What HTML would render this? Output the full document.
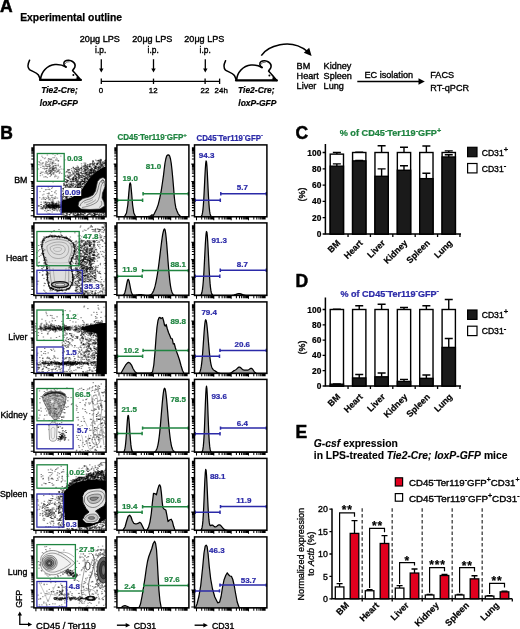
<!DOCTYPE html>
<html><head><meta charset="utf-8"><title>Figure</title>
<style>html,body{margin:0;padding:0;background:#fff;}svg{display:block;}text{font-family:"Liberation Sans", Arial, Helvetica, sans-serif;}</style>
</head><body>
<svg width="520" height="629" viewBox="0 0 520 629">
<rect width="520" height="629" fill="#fff"/>
<text x="-0.10" y="12.30" font-size="17.5" font-weight="bold" text-anchor="start" fill="#000" stroke="#000" stroke-width="0.5">A</text>
<text x="20.20" y="20.60" font-size="10.8" font-weight="bold" text-anchor="start" fill="#000" stroke="#000" stroke-width="0.25" textLength="101.8" lengthAdjust="spacingAndGlyphs">Experimental outline</text>
<g transform="translate(0,0)" fill="none" stroke="#000" stroke-linecap="round" stroke-linejoin="round">
<path d="M40,79.9 L80.8,79.9" stroke-width="2.2"/>
<path d="M40.6,79.5 C41,72 47,65.2 55,64.5 C59,64.2 62.5,64.8 66,67" stroke-width="1.6"/>
<path d="M66,67 C63.5,65.5 63.2,62.5 65,61.2 C67,59.8 70.5,60.2 72.5,61.5 C74.5,62.8 75.6,65 74.8,67.2 C74.2,68.8 72.8,69.8 72.6,70.6 C73.5,71.8 74.8,72.8 75.5,73.8 L80.8,80" stroke-width="1.6"/>
<path d="M65,63.8 C65.6,62.2 67.5,61.5 69.2,61.8" stroke-width="0.9" stroke="#555"/>
<path d="M29.6,60.2 C28,63.5 27.2,67.5 29.5,69.6 C32,71.4 36.5,72.2 38.4,75 C39.4,76.6 39.8,78.2 40.2,79.6" stroke-width="1.5"/>
<path d="M77.3,76.6 L81.3,80.2 L76.2,80.2 Z" fill="#000" stroke-width="0.5"/>
<circle cx="73.4" cy="74.9" r="1.0" fill="#000" stroke="none"/>
</g>
<g transform="translate(196,0.5)" fill="none" stroke="#000" stroke-linecap="round" stroke-linejoin="round">
<path d="M40,79.9 L80.8,79.9" stroke-width="2.2"/>
<path d="M40.6,79.5 C41,72 47,65.2 55,64.5 C59,64.2 62.5,64.8 66,67" stroke-width="1.6"/>
<path d="M66,67 C63.5,65.5 63.2,62.5 65,61.2 C67,59.8 70.5,60.2 72.5,61.5 C74.5,62.8 75.6,65 74.8,67.2 C74.2,68.8 72.8,69.8 72.6,70.6 C73.5,71.8 74.8,72.8 75.5,73.8 L80.8,80" stroke-width="1.6"/>
<path d="M65,63.8 C65.6,62.2 67.5,61.5 69.2,61.8" stroke-width="0.9" stroke="#555"/>
<path d="M29.6,60.2 C28,63.5 27.2,67.5 29.5,69.6 C32,71.4 36.5,72.2 38.4,75 C39.4,76.6 39.8,78.2 40.2,79.6" stroke-width="1.5"/>
<path d="M77.3,76.6 L81.3,80.2 L76.2,80.2 Z" fill="#000" stroke-width="0.5"/>
<circle cx="73.4" cy="74.9" r="1.0" fill="#000" stroke="none"/>
</g>
<text x="59.50" y="92.70" font-size="9.3" font-weight="bold" text-anchor="middle" fill="#000" stroke="#000" stroke-width="0.22" font-style="italic" textLength="36.5" lengthAdjust="spacingAndGlyphs">Tie2-Cre;</text>
<text x="58.80" y="105.50" font-size="9.3" font-weight="bold" text-anchor="middle" fill="#000" stroke="#000" stroke-width="0.22" font-style="italic" textLength="38" lengthAdjust="spacingAndGlyphs">loxP-GFP</text>
<text x="256.30" y="92.90" font-size="9.3" font-weight="bold" text-anchor="middle" fill="#000" stroke="#000" stroke-width="0.22" font-style="italic" textLength="36.5" lengthAdjust="spacingAndGlyphs">Tie2-Cre;</text>
<text x="257.30" y="106.00" font-size="9.3" font-weight="bold" text-anchor="middle" fill="#000" stroke="#000" stroke-width="0.22" font-style="italic" textLength="38" lengthAdjust="spacingAndGlyphs">loxP-GFP</text>
<g stroke="#000" fill="none" stroke-width="1.3">
<path d="M101.3,81.3 L219.6,81.3"/>
<path d="M101.3,78.6 L101.3,84"/>
<path d="M153.5,78.6 L153.5,84"/>
<path d="M205.1,78.6 L205.1,84"/>
<path d="M219.6,78.6 L219.6,84"/>
<path d="M101.3,59.2 L101.3,70"/>
<path d="M153.5,59.2 L153.5,70"/>
<path d="M205.3,59.2 L205.3,70"/>
</g>
<path d="M99.1,68.6 L103.5,68.6 L101.3,72.6 Z" fill="#000"/>
<path d="M151.3,68.6 L155.7,68.6 L153.5,72.6 Z" fill="#000"/>
<path d="M203.10000000000002,68.6 L207.5,68.6 L205.3,72.6 Z" fill="#000"/>
<text x="99.80" y="42.40" font-size="8.4" font-weight="normal" text-anchor="middle" fill="#000" stroke="#000" stroke-width="0.35" textLength="40" lengthAdjust="spacingAndGlyphs">20μg LPS</text>
<text x="100.70" y="52.80" font-size="8.4" font-weight="normal" text-anchor="middle" fill="#000" stroke="#000" stroke-width="0.35">i.p.</text>
<text x="152.30" y="42.40" font-size="8.4" font-weight="normal" text-anchor="middle" fill="#000" stroke="#000" stroke-width="0.35" textLength="40" lengthAdjust="spacingAndGlyphs">20μg LPS</text>
<text x="153.20" y="52.80" font-size="8.4" font-weight="normal" text-anchor="middle" fill="#000" stroke="#000" stroke-width="0.35">i.p.</text>
<text x="204.30" y="42.40" font-size="8.4" font-weight="normal" text-anchor="middle" fill="#000" stroke="#000" stroke-width="0.35" textLength="40" lengthAdjust="spacingAndGlyphs">20μg LPS</text>
<text x="205.20" y="52.80" font-size="8.4" font-weight="normal" text-anchor="middle" fill="#000" stroke="#000" stroke-width="0.35">i.p.</text>
<text x="101.00" y="92.60" font-size="7.9" font-weight="normal" text-anchor="middle" fill="#000" stroke="#000" stroke-width="0.35">0</text>
<text x="153.20" y="92.60" font-size="7.9" font-weight="normal" text-anchor="middle" fill="#000" stroke="#000" stroke-width="0.35">12</text>
<text x="204.90" y="92.60" font-size="7.9" font-weight="normal" text-anchor="middle" fill="#000" stroke="#000" stroke-width="0.35">22</text>
<text x="221.20" y="92.60" font-size="7.9" font-weight="normal" text-anchor="middle" fill="#000" stroke="#000" stroke-width="0.35">24h</text>
<path d="M261.3,55.6 C267,46.5 290,37 307.5,51.5" fill="none" stroke="#000" stroke-width="1.5"/>
<path d="M311.6,56 L303.8,52.8 L309.2,47.8 Z" fill="#000"/>
<text x="296.60" y="69.20" font-size="9.1" font-weight="normal" text-anchor="start" fill="#000" stroke="#000" stroke-width="0.35">BM</text>
<text x="296.60" y="79.25" font-size="9.1" font-weight="normal" text-anchor="start" fill="#000" stroke="#000" stroke-width="0.35">Heart</text>
<text x="296.60" y="89.30" font-size="9.1" font-weight="normal" text-anchor="start" fill="#000" stroke="#000" stroke-width="0.35">Liver</text>
<text x="323.60" y="69.20" font-size="9.1" font-weight="normal" text-anchor="start" fill="#000" stroke="#000" stroke-width="0.35">Kidney</text>
<text x="323.60" y="79.25" font-size="9.1" font-weight="normal" text-anchor="start" fill="#000" stroke="#000" stroke-width="0.35">Spleen</text>
<text x="323.60" y="89.30" font-size="9.1" font-weight="normal" text-anchor="start" fill="#000" stroke="#000" stroke-width="0.35">Lung</text>
<text x="364.50" y="77.70" font-size="9.1" font-weight="normal" text-anchor="start" fill="#000" stroke="#000" stroke-width="0.35">EC isolation</text>
<path d="M357.3,81.5 L420,81.5" stroke="#000" stroke-width="1.5"/>
<path d="M424.8,81.5 L418.5,78.2 L418.5,84.8 Z" fill="#000"/>
<text x="430.30" y="78.30" font-size="9.1" font-weight="normal" text-anchor="start" fill="#000" stroke="#000" stroke-width="0.35">FACS</text>
<text x="430.30" y="90.60" font-size="9.1" font-weight="normal" text-anchor="start" fill="#000" stroke="#000" stroke-width="0.35">RT-qPCR</text>
<text x="0.20" y="138.70" font-size="17.5" font-weight="bold" text-anchor="start" fill="#000" stroke="#000" stroke-width="0.5">B</text>
<text x="117.40" y="140.30" font-size="8.2" font-weight="bold" fill="#1f8440" text-anchor="start" stroke="#1f8440" stroke-width="0.22" textLength="69.5" lengthAdjust="spacingAndGlyphs"><tspan>CD45</tspan><tspan font-size="6.20" dy="-3.44">-</tspan><tspan dy="3.44">Ter119</tspan><tspan font-size="6.20" dy="-3.44">-</tspan><tspan dy="3.44">GFP</tspan><tspan font-size="6.20" dy="-3.44">+</tspan></text>
<text x="196.50" y="140.60" font-size="8.2" font-weight="bold" fill="#2b2aa8" text-anchor="start" stroke="#2b2aa8" stroke-width="0.22" textLength="66.5" lengthAdjust="spacingAndGlyphs"><tspan>CD45</tspan><tspan font-size="6.20" dy="-3.44">-</tspan><tspan dy="3.44">Ter119</tspan><tspan font-size="6.20" dy="-3.44">-</tspan><tspan dy="3.44">GFP</tspan><tspan font-size="6.20" dy="-3.44">-</tspan></text>
<text x="27.40" y="183.05" font-size="8.8" font-weight="normal" text-anchor="end" fill="#000" stroke="#000" stroke-width="0.35">BM</text>
<text x="27.40" y="261.35" font-size="8.8" font-weight="normal" text-anchor="end" fill="#000" stroke="#000" stroke-width="0.35">Heart</text>
<text x="27.40" y="339.85" font-size="8.8" font-weight="normal" text-anchor="end" fill="#000" stroke="#000" stroke-width="0.35">Liver</text>
<text x="27.40" y="418.00" font-size="8.8" font-weight="normal" text-anchor="end" fill="#000" stroke="#000" stroke-width="0.35">Kidney</text>
<text x="27.40" y="496.55" font-size="8.8" font-weight="normal" text-anchor="end" fill="#000" stroke="#000" stroke-width="0.35">Spleen</text>
<text x="27.40" y="574.60" font-size="8.8" font-weight="normal" text-anchor="end" fill="#000" stroke="#000" stroke-width="0.35">Lung</text>
<defs>
<clipPath id="c00"><rect x="33.9" y="144.9" width="72.2" height="71.9"/></clipPath>
<clipPath id="c01"><rect x="33.9" y="222.9" width="72.2" height="72.5"/></clipPath>
<clipPath id="c02"><rect x="33.9" y="301.9" width="72.2" height="71.5"/></clipPath>
<clipPath id="c03"><rect x="33.9" y="379.4" width="72.2" height="72.8"/></clipPath>
<clipPath id="c04"><rect x="33.9" y="458.4" width="72.2" height="71.9"/></clipPath>
<clipPath id="c05"><rect x="33.9" y="536.9" width="72.2" height="71.0"/></clipPath>
<clipPath id="c10"><rect x="116.9" y="144.9" width="72.0" height="71.9"/></clipPath>
<clipPath id="c11"><rect x="116.9" y="222.9" width="72.0" height="72.5"/></clipPath>
<clipPath id="c12"><rect x="116.9" y="301.9" width="72.0" height="71.5"/></clipPath>
<clipPath id="c13"><rect x="116.9" y="379.4" width="72.0" height="72.8"/></clipPath>
<clipPath id="c14"><rect x="116.9" y="458.4" width="72.0" height="71.9"/></clipPath>
<clipPath id="c15"><rect x="116.9" y="536.9" width="72.0" height="71.0"/></clipPath>
<clipPath id="c20"><rect x="194.5" y="144.9" width="72.4" height="71.9"/></clipPath>
<clipPath id="c21"><rect x="194.5" y="222.9" width="72.4" height="72.5"/></clipPath>
<clipPath id="c22"><rect x="194.5" y="301.9" width="72.4" height="71.5"/></clipPath>
<clipPath id="c23"><rect x="194.5" y="379.4" width="72.4" height="72.8"/></clipPath>
<clipPath id="c24"><rect x="194.5" y="458.4" width="72.4" height="71.9"/></clipPath>
<clipPath id="c25"><rect x="194.5" y="536.9" width="72.4" height="71.0"/></clipPath>
</defs>
<path d="M116.9,216.8 L124.5,216.6 L126.5,213.0 L127.8,205.0 L128.8,193.0 L129.6,184.5 L130.2,182.8 L130.8,184.5 L131.6,193.0 L132.6,205.0 L133.8,213.0 L135.5,216.6 L148.0,216.6 L150.5,216.0 L152.0,214.8 L153.5,215.3 L155.0,212.3 L156.6,209.0 L158.2,204.6 L159.7,198.5 L161.2,190.8 L162.4,183.0 L163.5,175.4 L164.3,168.5 L165.0,163.0 L165.8,159.0 L166.6,156.2 L167.4,155.1 L168.2,154.9 L169.0,155.2 L169.7,156.2 L170.5,159.0 L171.2,163.0 L172.0,170.0 L172.8,178.5 L173.6,188.0 L174.3,197.0 L175.0,203.0 L175.8,207.7 L177.0,211.0 L178.2,213.8 L180.5,216.5 L188.9,216.8" fill="#a5a5a5" stroke="#000" stroke-width="1.25" stroke-linejoin="round" clip-path="url(#c10)"/>
<path d="M194.5,216.8 L194.5,216.80 L194.9,216.80 L195.3,216.80 L195.7,216.80 L196.1,216.80 L196.5,216.80 L196.9,216.80 L197.3,216.80 L197.7,216.80 L198.1,216.80 L198.5,216.80 L198.9,216.80 L199.3,216.79 L199.7,216.79 L200.1,216.76 L200.5,216.70 L200.9,216.57 L201.3,216.29 L201.7,215.73 L202.1,214.70 L202.5,212.94 L202.9,210.12 L203.3,205.97 L203.7,200.28 L204.1,193.13 L204.5,184.95 L204.9,176.54 L205.3,168.99 L205.7,163.47 L206.1,160.91 L206.5,161.78 L206.9,165.91 L207.3,172.59 L207.7,180.71 L208.1,189.13 L208.5,196.87 L208.9,203.32 L209.3,208.23 L209.7,211.68 L210.1,213.93 L210.5,215.29 L210.9,216.05 L211.3,216.45 L211.7,216.65 L212.1,216.74 L212.5,216.78 L212.9,216.79 L213.3,216.80 L213.7,216.80 L214.1,216.80 L214.5,216.80 L214.9,216.80 L215.3,216.80 L215.7,216.80 L216.1,216.80 L216.5,216.80 L216.9,216.80 L217.3,216.80 L217.7,216.80 L218.1,216.80 L218.5,216.80 L218.9,216.80 L219.3,216.80 L219.7,216.80 L220.1,216.80 L220.5,216.80 L220.9,216.80 L221.3,216.80 L221.7,216.80 L222.1,216.80 L222.5,216.80 L222.9,216.80 L223.3,216.80 L223.7,216.80 L224.1,216.80 L224.5,216.80 L224.9,216.80 L225.3,216.80 L225.7,216.80 L226.1,216.80 L226.5,216.80 L226.9,216.80 L227.3,216.80 L227.7,216.80 L228.1,216.80 L228.5,216.80 L228.9,216.80 L229.3,216.80 L229.7,216.80 L230.1,216.80 L230.5,216.80 L230.9,216.80 L231.3,216.80 L231.7,216.80 L232.1,216.80 L232.5,216.80 L232.9,216.80 L233.3,216.80 L233.7,216.80 L234.1,216.80 L234.5,216.80 L234.9,216.80 L235.3,216.80 L235.7,216.80 L236.1,216.80 L236.5,216.80 L236.9,216.80 L237.3,216.80 L237.7,216.80 L238.1,216.80 L238.5,216.80 L238.9,216.80 L239.3,216.80 L239.7,216.80 L240.1,216.80 L240.5,216.80 L240.9,216.80 L241.3,216.80 L241.7,216.80 L242.1,216.80 L242.5,216.80 L242.9,216.80 L243.3,216.80 L243.7,216.80 L244.1,216.80 L244.5,216.80 L244.9,216.80 L245.3,216.80 L245.7,216.80 L246.1,216.80 L246.5,216.80 L246.9,216.80 L247.3,216.80 L247.7,216.80 L248.1,216.80 L248.5,216.80 L248.9,216.80 L249.3,216.80 L249.7,216.80 L250.1,216.80 L250.5,216.80 L250.9,216.80 L251.3,216.80 L251.7,216.80 L252.1,216.80 L252.5,216.80 L252.9,216.80 L253.3,216.80 L253.7,216.80 L254.1,216.80 L254.5,216.80 L254.9,216.80 L255.3,216.80 L255.7,216.80 L256.1,216.80 L256.5,216.80 L256.9,216.80 L257.3,216.80 L257.7,216.80 L258.1,216.80 L258.5,216.80 L258.9,216.80 L259.3,216.80 L259.7,216.80 L260.1,216.80 L260.5,216.80 L260.9,216.80 L261.3,216.80 L261.7,216.80 L262.1,216.80 L262.5,216.80 L262.9,216.80 L263.3,216.80 L263.7,216.80 L264.1,216.80 L264.5,216.80 L264.9,216.80 L265.3,216.80 L265.7,216.80 L266.1,216.80 L266.5,216.80 L266.9,216.8Z" fill="#a5a5a5" stroke="#000" stroke-width="1.25" stroke-linejoin="round" clip-path="url(#c20)"/>
<path d="M116.9,295.4 L116.9,295.40 L117.3,295.40 L117.7,295.40 L118.1,295.40 L118.5,295.40 L118.9,295.40 L119.3,295.40 L119.7,295.40 L120.1,295.40 L120.5,295.40 L120.9,295.40 L121.3,295.39 L121.7,295.38 L122.1,295.35 L122.5,295.29 L122.9,295.19 L123.3,295.01 L123.7,294.70 L124.1,294.20 L124.5,293.47 L124.9,292.42 L125.3,291.03 L125.7,289.30 L126.1,287.30 L126.5,285.16 L126.9,283.07 L127.3,281.28 L127.7,280.01 L128.1,279.42 L128.5,279.62 L128.9,280.56 L129.3,282.12 L129.7,284.09 L130.1,286.23 L130.5,288.32 L130.9,290.20 L131.3,291.76 L131.7,292.97 L132.1,293.84 L132.5,294.44 L132.9,294.82 L133.3,295.04 L133.7,295.16 L134.1,295.21 L134.5,295.22 L134.9,295.20 L135.3,295.16 L135.7,295.11 L136.1,295.06 L136.5,294.99 L136.9,294.93 L137.3,294.87 L137.7,294.80 L138.1,294.75 L138.5,294.69 L138.9,294.65 L139.3,294.62 L139.7,294.60 L140.1,294.60 L140.5,294.61 L140.9,294.64 L141.3,294.67 L141.7,294.72 L142.1,294.77 L142.5,294.83 L142.9,294.90 L143.3,294.96 L143.7,295.03 L144.1,295.08 L144.5,295.14 L144.9,295.19 L145.3,295.23 L145.7,295.26 L146.1,295.29 L146.5,295.31 L146.9,295.32 L147.3,295.33 L147.7,295.32 L148.1,295.31 L148.5,295.28 L148.9,295.23 L149.3,295.16 L149.7,295.07 L150.1,294.94 L150.5,294.77 L150.9,294.54 L151.3,294.25 L151.7,293.88 L152.1,293.43 L152.5,292.86 L152.9,292.19 L153.3,291.38 L153.7,290.43 L154.1,289.34 L154.5,288.10 L154.9,286.69 L155.3,285.13 L155.7,283.40 L156.1,281.50 L156.5,279.45 L156.9,277.22 L157.3,274.84 L157.7,272.29 L158.1,269.59 L158.5,266.74 L158.9,263.74 L159.3,260.62 L159.7,257.40 L160.1,254.10 L160.5,250.78 L160.9,247.47 L161.3,244.24 L161.7,241.15 L162.1,238.26 L162.5,235.66 L162.9,233.40 L163.3,231.56 L163.7,230.19 L164.1,229.33 L164.5,229.02 L164.9,229.44 L165.3,230.97 L165.7,233.55 L166.1,237.06 L166.5,241.33 L166.9,246.16 L167.3,251.35 L167.7,256.68 L168.1,261.97 L168.5,267.04 L168.9,271.77 L169.3,276.05 L169.7,279.84 L170.1,283.11 L170.5,285.86 L170.9,288.12 L171.3,289.95 L171.7,291.39 L172.1,292.50 L172.5,293.34 L172.9,293.96 L173.3,294.42 L173.7,294.74 L174.1,294.96 L174.5,295.12 L174.9,295.22 L175.3,295.29 L175.7,295.33 L176.1,295.36 L176.5,295.37 L176.9,295.39 L177.3,295.39 L177.7,295.40 L178.1,295.40 L178.5,295.40 L178.9,295.40 L179.3,295.40 L179.7,295.40 L180.1,295.40 L180.5,295.40 L180.9,295.40 L181.3,295.40 L181.7,295.40 L182.1,295.40 L182.5,295.40 L182.9,295.40 L183.3,295.40 L183.7,295.40 L184.1,295.40 L184.5,295.40 L184.9,295.40 L185.3,295.40 L185.7,295.40 L186.1,295.40 L186.5,295.40 L186.9,295.40 L187.3,295.40 L187.7,295.40 L188.1,295.40 L188.5,295.40 L188.9,295.4Z" fill="#a5a5a5" stroke="#000" stroke-width="1.25" stroke-linejoin="round" clip-path="url(#c11)"/>
<path d="M194.5,295.4 L194.5,295.40 L194.9,295.40 L195.3,295.40 L195.7,295.40 L196.1,295.40 L196.5,295.40 L196.9,295.40 L197.3,295.40 L197.7,295.40 L198.1,295.40 L198.5,295.39 L198.9,295.38 L199.3,295.36 L199.7,295.31 L200.1,295.22 L200.5,295.03 L200.9,294.69 L201.3,294.09 L201.7,293.10 L202.1,291.53 L202.5,289.16 L202.9,285.79 L203.3,281.24 L203.7,275.43 L204.1,268.47 L204.5,260.65 L204.9,252.51 L205.3,244.76 L205.7,238.19 L206.1,233.58 L206.5,231.49 L206.9,232.19 L207.3,235.60 L207.7,241.28 L208.1,248.54 L208.5,256.58 L208.9,264.64 L209.3,272.08 L209.7,278.49 L210.1,283.67 L210.5,287.61 L210.9,290.46 L211.3,292.40 L211.7,293.66 L212.1,294.43 L212.5,294.88 L212.9,295.14 L213.3,295.27 L213.7,295.34 L214.1,295.37 L214.5,295.39 L214.9,295.40 L215.3,295.40 L215.7,295.40 L216.1,295.40 L216.5,295.40 L216.9,295.40 L217.3,295.40 L217.7,295.40 L218.1,295.40 L218.5,295.40 L218.9,295.40 L219.3,295.40 L219.7,295.40 L220.1,295.40 L220.5,295.40 L220.9,295.40 L221.3,295.40 L221.7,295.40 L222.1,295.40 L222.5,295.40 L222.9,295.40 L223.3,295.40 L223.7,295.40 L224.1,295.40 L224.5,295.40 L224.9,295.40 L225.3,295.40 L225.7,295.40 L226.1,295.40 L226.5,295.40 L226.9,295.40 L227.3,295.40 L227.7,295.40 L228.1,295.40 L228.5,295.40 L228.9,295.39 L229.3,295.39 L229.7,295.39 L230.1,295.38 L230.5,295.37 L230.9,295.35 L231.3,295.33 L231.7,295.31 L232.1,295.27 L232.5,295.23 L232.9,295.17 L233.3,295.10 L233.7,295.02 L234.1,294.93 L234.5,294.82 L234.9,294.69 L235.3,294.56 L235.7,294.42 L236.1,294.27 L236.5,294.13 L236.9,293.99 L237.3,293.87 L237.7,293.76 L238.1,293.68 L238.5,293.62 L238.9,293.60 L239.3,293.61 L239.7,293.65 L240.1,293.72 L240.5,293.81 L240.9,293.93 L241.3,294.06 L241.7,294.20 L242.1,294.34 L242.5,294.49 L242.9,294.63 L243.3,294.76 L243.7,294.87 L244.1,294.98 L244.5,295.06 L244.9,295.14 L245.3,295.20 L245.7,295.25 L246.1,295.29 L246.5,295.32 L246.9,295.34 L247.3,295.36 L247.7,295.37 L248.1,295.38 L248.5,295.39 L248.9,295.39 L249.3,295.40 L249.7,295.40 L250.1,295.40 L250.5,295.40 L250.9,295.40 L251.3,295.40 L251.7,295.40 L252.1,295.40 L252.5,295.40 L252.9,295.40 L253.3,295.40 L253.7,295.40 L254.1,295.40 L254.5,295.40 L254.9,295.40 L255.3,295.40 L255.7,295.40 L256.1,295.40 L256.5,295.40 L256.9,295.40 L257.3,295.40 L257.7,295.40 L258.1,295.40 L258.5,295.40 L258.9,295.40 L259.3,295.40 L259.7,295.40 L260.1,295.40 L260.5,295.40 L260.9,295.40 L261.3,295.40 L261.7,295.40 L262.1,295.40 L262.5,295.40 L262.9,295.40 L263.3,295.40 L263.7,295.40 L264.1,295.40 L264.5,295.40 L264.9,295.40 L265.3,295.40 L265.7,295.40 L266.1,295.40 L266.5,295.40 L266.9,295.4Z" fill="#a5a5a5" stroke="#000" stroke-width="1.25" stroke-linejoin="round" clip-path="url(#c21)"/>
<path d="M116.9,373.4 L121.0,373.2 L123.0,369.5 L125.5,365.2 L127.5,362.8 L128.6,362.4 L130.0,363.0 L131.5,365.0 L133.0,368.5 L135.0,371.8 L137.0,373.2 L150.0,373.2 L152.5,372.0 L153.8,365.0 L155.0,352.0 L156.0,338.0 L157.0,327.0 L158.0,320.5 L159.0,317.8 L160.0,317.3 L161.0,318.6 L161.8,318.0 L162.6,317.6 L163.5,320.5 L164.5,325.0 L165.3,326.0 L166.2,324.5 L167.2,328.5 L168.5,332.5 L170.0,336.0 L171.0,338.5 L172.3,338.8 L173.3,344.0 L174.3,343.6 L175.3,347.5 L176.5,351.5 L178.0,355.5 L179.5,360.0 L181.0,365.5 L182.5,370.5 L184.0,373.2 L188.9,373.4" fill="#a5a5a5" stroke="#000" stroke-width="1.25" stroke-linejoin="round" clip-path="url(#c12)"/>
<path d="M194.5,373.4 L194.5,373.40 L194.9,373.40 L195.3,373.40 L195.7,373.40 L196.1,373.40 L196.5,373.39 L196.9,373.38 L197.3,373.36 L197.7,373.33 L198.1,373.26 L198.5,373.15 L198.9,372.95 L199.3,372.62 L199.7,372.10 L200.1,371.30 L200.5,370.12 L200.9,368.45 L201.3,366.16 L201.7,363.15 L202.1,359.37 L202.5,354.82 L202.9,349.59 L203.3,343.88 L203.7,337.98 L204.1,332.30 L204.5,327.24 L204.9,323.24 L205.3,320.67 L205.7,319.74 L206.1,320.32 L206.5,322.09 L206.9,324.93 L207.3,328.64 L207.7,332.97 L208.1,337.67 L208.5,342.47 L208.9,347.14 L209.3,351.48 L209.7,355.38 L210.1,358.74 L210.5,361.55 L210.9,363.81 L211.3,365.58 L211.7,366.94 L212.1,367.95 L212.5,368.69 L212.9,369.25 L213.3,369.67 L213.7,370.01 L214.1,370.31 L214.5,370.58 L214.9,370.84 L215.3,371.11 L215.7,371.37 L216.1,371.62 L216.5,371.87 L216.9,372.11 L217.3,372.32 L217.7,372.52 L218.1,372.69 L218.5,372.84 L218.9,372.97 L219.3,373.07 L219.7,373.15 L220.1,373.22 L220.5,373.27 L220.9,373.31 L221.3,373.33 L221.7,373.36 L222.1,373.37 L222.5,373.38 L222.9,373.39 L223.3,373.39 L223.7,373.39 L224.1,373.40 L224.5,373.40 L224.9,373.40 L225.3,373.40 L225.7,373.40 L226.1,373.40 L226.5,373.40 L226.9,373.40 L227.3,373.39 L227.7,373.39 L228.1,373.37 L228.5,373.35 L228.9,373.32 L229.3,373.27 L229.7,373.20 L230.1,373.09 L230.5,372.95 L230.9,372.77 L231.3,372.56 L231.7,372.30 L232.1,372.02 L232.5,371.72 L232.9,371.43 L233.3,371.15 L233.7,370.89 L234.1,370.65 L234.5,370.43 L234.9,370.22 L235.3,370.00 L235.7,369.75 L236.1,369.45 L236.5,369.12 L236.9,368.74 L237.3,368.35 L237.7,367.96 L238.1,367.62 L238.5,367.34 L238.9,367.16 L239.3,367.10 L239.7,367.15 L240.1,367.32 L240.5,367.59 L240.9,367.93 L241.3,368.30 L241.7,368.69 L242.1,369.05 L242.5,369.37 L242.9,369.63 L243.3,369.83 L243.7,369.97 L244.1,370.06 L244.5,370.11 L244.9,370.13 L245.3,370.14 L245.7,370.14 L246.1,370.15 L246.5,370.16 L246.9,370.16 L247.3,370.14 L247.7,370.09 L248.1,369.98 L248.5,369.81 L248.9,369.58 L249.3,369.30 L249.7,369.00 L250.1,368.70 L250.5,368.45 L250.9,368.31 L251.3,368.29 L251.7,368.43 L252.1,368.72 L252.5,369.14 L252.9,369.66 L253.3,370.24 L253.7,370.83 L254.1,371.39 L254.5,371.88 L254.9,372.30 L255.3,372.64 L255.7,372.89 L256.1,373.07 L256.5,373.20 L256.9,373.28 L257.3,373.33 L257.7,373.36 L258.1,373.38 L258.5,373.39 L258.9,373.39 L259.3,373.40 L259.7,373.40 L260.1,373.40 L260.5,373.40 L260.9,373.40 L261.3,373.40 L261.7,373.40 L262.1,373.40 L262.5,373.40 L262.9,373.40 L263.3,373.40 L263.7,373.40 L264.1,373.40 L264.5,373.40 L264.9,373.40 L265.3,373.40 L265.7,373.40 L266.1,373.40 L266.5,373.40 L266.9,373.4Z" fill="#a5a5a5" stroke="#000" stroke-width="1.25" stroke-linejoin="round" clip-path="url(#c22)"/>
<path d="M116.9,452.2 L116.9,452.20 L117.3,452.20 L117.7,452.20 L118.1,452.20 L118.5,452.20 L118.9,452.20 L119.3,452.20 L119.7,452.20 L120.1,452.20 L120.5,452.20 L120.9,452.20 L121.3,452.20 L121.7,452.20 L122.1,452.19 L122.5,452.17 L122.9,452.13 L123.3,452.02 L123.7,451.79 L124.1,451.32 L124.5,450.43 L124.9,448.91 L125.3,446.49 L125.7,442.97 L126.1,438.31 L126.5,432.73 L126.9,426.78 L127.3,421.30 L127.7,417.20 L128.1,415.28 L128.5,415.93 L128.9,419.02 L129.3,423.92 L129.7,429.76 L130.1,435.61 L130.5,440.78 L130.9,444.88 L131.3,447.83 L131.7,449.77 L132.1,450.94 L132.5,451.59 L132.9,451.93 L133.3,452.09 L133.7,452.16 L134.1,452.18 L134.5,452.19 L134.9,452.20 L135.3,452.20 L135.7,452.20 L136.1,452.20 L136.5,452.20 L136.9,452.20 L137.3,452.20 L137.7,452.20 L138.1,452.20 L138.5,452.20 L138.9,452.20 L139.3,452.20 L139.7,452.20 L140.1,452.20 L140.5,452.20 L140.9,452.20 L141.3,452.20 L141.7,452.20 L142.1,452.20 L142.5,452.20 L142.9,452.20 L143.3,452.20 L143.7,452.20 L144.1,452.20 L144.5,452.20 L144.9,452.20 L145.3,452.20 L145.7,452.20 L146.1,452.20 L146.5,452.20 L146.9,452.20 L147.3,452.20 L147.7,452.20 L148.1,452.20 L148.5,452.20 L148.9,452.20 L149.3,452.20 L149.7,452.20 L150.1,452.20 L150.5,452.20 L150.9,452.19 L151.3,452.19 L151.7,452.18 L152.1,452.17 L152.5,452.15 L152.9,452.12 L153.3,452.07 L153.7,452.01 L154.1,451.91 L154.5,451.76 L154.9,451.55 L155.3,451.26 L155.7,450.86 L156.1,450.32 L156.5,449.60 L156.9,448.66 L157.3,447.46 L157.7,445.94 L158.1,444.07 L158.5,441.80 L158.9,439.10 L159.3,435.96 L159.7,432.38 L160.1,428.39 L160.5,424.03 L160.9,419.40 L161.3,414.59 L161.7,409.75 L162.1,405.03 L162.5,400.60 L162.9,396.62 L163.3,393.27 L163.7,390.68 L164.1,388.98 L164.5,388.23 L164.9,388.48 L165.3,389.71 L165.7,391.87 L166.1,394.86 L166.5,398.54 L166.9,402.77 L167.3,407.37 L167.7,412.17 L168.1,417.01 L168.5,421.75 L168.9,426.25 L169.3,430.44 L169.7,434.23 L170.1,437.59 L170.5,440.50 L170.9,442.98 L171.3,445.05 L171.7,446.74 L172.1,448.09 L172.5,449.16 L172.9,449.99 L173.3,450.61 L173.7,451.08 L174.1,451.42 L174.5,451.67 L174.9,451.84 L175.3,451.96 L175.7,452.04 L176.1,452.10 L176.5,452.14 L176.9,452.16 L177.3,452.18 L177.7,452.19 L178.1,452.19 L178.5,452.19 L178.9,452.20 L179.3,452.20 L179.7,452.20 L180.1,452.20 L180.5,452.20 L180.9,452.20 L181.3,452.20 L181.7,452.20 L182.1,452.20 L182.5,452.20 L182.9,452.20 L183.3,452.20 L183.7,452.20 L184.1,452.20 L184.5,452.20 L184.9,452.20 L185.3,452.20 L185.7,452.20 L186.1,452.20 L186.5,452.20 L186.9,452.20 L187.3,452.20 L187.7,452.20 L188.1,452.20 L188.5,452.20 L188.9,452.2Z" fill="#a5a5a5" stroke="#000" stroke-width="1.25" stroke-linejoin="round" clip-path="url(#c13)"/>
<path d="M194.5,452.2 L194.5,452.20 L194.9,452.20 L195.3,452.20 L195.7,452.20 L196.1,452.20 L196.5,452.20 L196.9,452.20 L197.3,452.20 L197.7,452.20 L198.1,452.20 L198.5,452.20 L198.9,452.20 L199.3,452.20 L199.7,452.20 L200.1,452.20 L200.5,452.19 L200.9,452.16 L201.3,452.09 L201.7,451.92 L202.1,451.54 L202.5,450.73 L202.9,449.17 L203.3,446.42 L203.7,441.97 L204.1,435.43 L204.5,426.71 L204.9,416.30 L205.3,405.34 L205.7,395.52 L206.1,388.66 L206.5,386.20 L206.9,388.66 L207.3,395.52 L207.7,405.34 L208.1,416.30 L208.5,426.71 L208.9,435.43 L209.3,441.97 L209.7,446.42 L210.1,449.17 L210.5,450.73 L210.9,451.54 L211.3,451.92 L211.7,452.09 L212.1,452.16 L212.5,452.19 L212.9,452.20 L213.3,452.20 L213.7,452.20 L214.1,452.20 L214.5,452.20 L214.9,452.20 L215.3,452.20 L215.7,452.20 L216.1,452.20 L216.5,452.20 L216.9,452.20 L217.3,452.20 L217.7,452.20 L218.1,452.20 L218.5,452.20 L218.9,452.20 L219.3,452.20 L219.7,452.20 L220.1,452.20 L220.5,452.20 L220.9,452.20 L221.3,452.20 L221.7,452.20 L222.1,452.20 L222.5,452.20 L222.9,452.20 L223.3,452.20 L223.7,452.20 L224.1,452.20 L224.5,452.20 L224.9,452.20 L225.3,452.20 L225.7,452.20 L226.1,452.20 L226.5,452.20 L226.9,452.20 L227.3,452.20 L227.7,452.20 L228.1,452.20 L228.5,452.20 L228.9,452.20 L229.3,452.20 L229.7,452.20 L230.1,452.20 L230.5,452.20 L230.9,452.20 L231.3,452.20 L231.7,452.20 L232.1,452.20 L232.5,452.20 L232.9,452.20 L233.3,452.20 L233.7,452.20 L234.1,452.20 L234.5,452.20 L234.9,452.20 L235.3,452.20 L235.7,452.20 L236.1,452.20 L236.5,452.20 L236.9,452.20 L237.3,452.20 L237.7,452.20 L238.1,452.20 L238.5,452.20 L238.9,452.20 L239.3,452.20 L239.7,452.20 L240.1,452.20 L240.5,452.20 L240.9,452.20 L241.3,452.20 L241.7,452.20 L242.1,452.20 L242.5,452.20 L242.9,452.20 L243.3,452.20 L243.7,452.20 L244.1,452.20 L244.5,452.20 L244.9,452.20 L245.3,452.20 L245.7,452.20 L246.1,452.20 L246.5,452.20 L246.9,452.20 L247.3,452.20 L247.7,452.20 L248.1,452.20 L248.5,452.20 L248.9,452.20 L249.3,452.20 L249.7,452.20 L250.1,452.20 L250.5,452.20 L250.9,452.20 L251.3,452.20 L251.7,452.20 L252.1,452.20 L252.5,452.20 L252.9,452.20 L253.3,452.20 L253.7,452.20 L254.1,452.20 L254.5,452.20 L254.9,452.20 L255.3,452.20 L255.7,452.20 L256.1,452.20 L256.5,452.20 L256.9,452.20 L257.3,452.20 L257.7,452.20 L258.1,452.20 L258.5,452.20 L258.9,452.20 L259.3,452.20 L259.7,452.20 L260.1,452.20 L260.5,452.20 L260.9,452.20 L261.3,452.20 L261.7,452.20 L262.1,452.20 L262.5,452.20 L262.9,452.20 L263.3,452.20 L263.7,452.20 L264.1,452.20 L264.5,452.20 L264.9,452.20 L265.3,452.20 L265.7,452.20 L266.1,452.20 L266.5,452.20 L266.9,452.2Z" fill="#a5a5a5" stroke="#000" stroke-width="1.25" stroke-linejoin="round" clip-path="url(#c23)"/>
<path d="M116.9,530.3 L123.0,530.1 L125.0,527.0 L126.8,520.5 L128.2,516.3 L129.7,515.2 L131.0,516.8 L132.3,520.8 L133.8,523.3 L136.0,524.0 L138.0,523.4 L139.7,522.3 L141.0,523.2 L142.5,526.3 L144.3,530.1 L147.0,530.1 L148.5,527.3 L150.0,521.8 L151.3,513.5 L152.4,502.5 L153.5,493.4 L154.8,493.6 L156.4,494.8 L157.8,489.2 L159.0,485.4 L159.7,484.8 L160.6,486.8 L161.4,493.0 L162.2,502.0 L162.9,507.6 L164.2,509.2 L165.8,510.0 L166.8,514.8 L168.0,521.5 L169.5,520.0 L171.2,519.2 L172.5,521.8 L173.6,526.3 L175.0,530.1 L188.9,530.3" fill="#a5a5a5" stroke="#000" stroke-width="1.25" stroke-linejoin="round" clip-path="url(#c14)"/>
<path d="M194.5,530.3 L194.5,530.30 L194.9,530.30 L195.3,530.30 L195.7,530.30 L196.1,530.30 L196.5,530.30 L196.9,530.30 L197.3,530.30 L197.7,530.30 L198.1,530.30 L198.5,530.30 L198.9,530.30 L199.3,530.29 L199.7,530.28 L200.1,530.26 L200.5,530.18 L200.9,530.01 L201.3,529.62 L201.7,528.84 L202.1,527.39 L202.5,524.88 L202.9,520.89 L203.3,515.09 L203.7,507.41 L204.1,498.20 L204.5,488.39 L204.9,479.34 L205.3,472.58 L205.7,469.40 L206.1,470.30 L206.5,474.75 L206.9,481.95 L207.3,490.68 L207.7,499.66 L208.1,507.84 L208.5,514.53 L208.9,519.45 L209.3,522.70 L209.7,524.57 L210.1,525.44 L210.5,525.67 L210.9,525.55 L211.3,525.33 L211.7,525.14 L212.1,525.06 L212.5,525.13 L212.9,525.34 L213.3,525.65 L213.7,526.02 L214.1,526.37 L214.5,526.67 L214.9,526.86 L215.3,526.93 L215.7,526.88 L216.1,526.71 L216.5,526.45 L216.9,526.13 L217.3,525.78 L217.7,525.45 L218.1,525.16 L218.5,524.94 L218.9,524.82 L219.3,524.80 L219.7,524.88 L220.1,525.08 L220.5,525.36 L220.9,525.73 L221.3,526.15 L221.7,526.61 L222.1,527.08 L222.5,527.55 L222.9,528.00 L223.3,528.42 L223.7,528.79 L224.1,529.11 L224.5,529.38 L224.9,529.61 L225.3,529.79 L225.7,529.93 L226.1,530.04 L226.5,530.12 L226.9,530.17 L227.3,530.22 L227.7,530.25 L228.1,530.26 L228.5,530.28 L228.9,530.29 L229.3,530.29 L229.7,530.30 L230.1,530.30 L230.5,530.30 L230.9,530.30 L231.3,530.30 L231.7,530.30 L232.1,530.30 L232.5,530.30 L232.9,530.30 L233.3,530.30 L233.7,530.30 L234.1,530.30 L234.5,530.30 L234.9,530.30 L235.3,530.30 L235.7,530.30 L236.1,530.30 L236.5,530.30 L236.9,530.30 L237.3,530.30 L237.7,530.30 L238.1,530.30 L238.5,530.30 L238.9,530.30 L239.3,530.30 L239.7,530.30 L240.1,530.30 L240.5,530.30 L240.9,530.30 L241.3,530.30 L241.7,530.30 L242.1,530.30 L242.5,530.30 L242.9,530.30 L243.3,530.30 L243.7,530.30 L244.1,530.30 L244.5,530.30 L244.9,530.30 L245.3,530.30 L245.7,530.30 L246.1,530.30 L246.5,530.30 L246.9,530.30 L247.3,530.30 L247.7,530.30 L248.1,530.30 L248.5,530.30 L248.9,530.30 L249.3,530.30 L249.7,530.30 L250.1,530.30 L250.5,530.30 L250.9,530.30 L251.3,530.30 L251.7,530.30 L252.1,530.30 L252.5,530.30 L252.9,530.30 L253.3,530.30 L253.7,530.30 L254.1,530.30 L254.5,530.30 L254.9,530.30 L255.3,530.30 L255.7,530.30 L256.1,530.30 L256.5,530.30 L256.9,530.30 L257.3,530.30 L257.7,530.30 L258.1,530.30 L258.5,530.30 L258.9,530.30 L259.3,530.30 L259.7,530.30 L260.1,530.30 L260.5,530.30 L260.9,530.30 L261.3,530.30 L261.7,530.30 L262.1,530.30 L262.5,530.30 L262.9,530.30 L263.3,530.30 L263.7,530.30 L264.1,530.30 L264.5,530.30 L264.9,530.30 L265.3,530.30 L265.7,530.30 L266.1,530.30 L266.5,530.30 L266.9,530.3Z" fill="#a5a5a5" stroke="#000" stroke-width="1.25" stroke-linejoin="round" clip-path="url(#c24)"/>
<path d="M116.9,607.9 L121.0,607.7 L123.0,606.2 L125.0,605.6 L127.5,606.5 L130.0,607.7 L139.0,607.7 L140.5,604.0 L142.0,596.5 L143.5,587.5 L145.0,578.0 L146.3,568.5 L147.5,561.5 L148.8,556.5 L150.3,552.5 L151.8,548.5 L153.2,543.5 L154.6,541.2 L155.6,543.5 L156.5,549.5 L157.3,561.5 L158.1,576.0 L158.9,590.0 L159.9,600.5 L161.2,607.7 L188.9,607.9" fill="#a5a5a5" stroke="#000" stroke-width="1.25" stroke-linejoin="round" clip-path="url(#c15)"/>
<path d="M194.5,607.9 L195.5,607.7 L197.0,604.0 L199.0,596.0 L200.8,585.0 L202.6,568.0 L204.0,553.0 L205.2,546.2 L206.2,545.1 L207.1,546.5 L208.1,554.0 L209.3,567.0 L210.7,579.0 L212.5,589.0 L214.8,597.0 L217.7,602.8 L219.6,602.2 L221.1,596.5 L222.4,588.0 L224.0,580.0 L225.8,575.3 L227.3,572.8 L228.6,574.8 L230.0,576.0 L231.5,576.4 L232.8,579.5 L234.2,585.5 L235.6,593.5 L237.2,602.0 L239.2,607.7 L266.9,607.9" fill="#a5a5a5" stroke="#000" stroke-width="1.25" stroke-linejoin="round" clip-path="url(#c25)"/>
<g stroke="#1f8440" stroke-width="1.5" fill="none"><path d="M116.9,200.3H142.8M142.8,193.8H188.9"/><path d="M117.5,198.60000000000002v3.4M142.60000000000002,198.60000000000002v3.4M143.10000000000002,192.10000000000002v3.4M188.3,192.10000000000002v3.4"/></g>
<g stroke="#2b2aa8" stroke-width="1.5" fill="none"><path d="M194.5,200.3H220.5M220.5,193.8H266.9"/><path d="M195.1,198.60000000000002v3.4M220.3,198.60000000000002v3.4M220.8,192.10000000000002v3.4M266.3,192.10000000000002v3.4"/></g>
<g stroke="#1f8440" stroke-width="1.5" fill="none"><path d="M116.9,276.2H142.3M142.3,270.6H188.9"/><path d="M117.5,274.5v3.4M142.10000000000002,274.5v3.4M142.60000000000002,268.90000000000003v3.4M188.3,268.90000000000003v3.4"/></g>
<g stroke="#2b2aa8" stroke-width="1.5" fill="none"><path d="M194.5,276.2H220.0M220.0,270.3H266.9"/><path d="M195.1,274.5v3.4M219.8,274.5v3.4M220.3,268.6v3.4M266.3,268.6v3.4"/></g>
<g stroke="#1f8440" stroke-width="1.5" fill="none"><path d="M116.9,356.2H142.8M142.8,350.4H188.9"/><path d="M117.5,354.5v3.4M142.60000000000002,354.5v3.4M143.10000000000002,348.7v3.4M188.3,348.7v3.4"/></g>
<g stroke="#2b2aa8" stroke-width="1.5" fill="none"><path d="M194.5,356.2H219.7M219.7,350.4H266.9"/><path d="M195.1,354.5v3.4M219.5,354.5v3.4M220.0,348.7v3.4M266.3,348.7v3.4"/></g>
<g stroke="#1f8440" stroke-width="1.5" fill="none"><path d="M116.9,433.5H142.3M142.3,428.1H188.9"/><path d="M117.5,431.8v3.4M142.10000000000002,431.8v3.4M142.60000000000002,426.40000000000003v3.4M188.3,426.40000000000003v3.4"/></g>
<g stroke="#2b2aa8" stroke-width="1.5" fill="none"><path d="M194.5,433.8H220.2M220.2,428.1H266.9"/><path d="M195.1,432.1v3.4M220.0,432.1v3.4M220.5,426.40000000000003v3.4M266.3,426.40000000000003v3.4"/></g>
<g stroke="#1f8440" stroke-width="1.5" fill="none"><path d="M116.9,512.2H142.3M142.3,506.8H188.9"/><path d="M117.5,510.50000000000006v3.4M142.10000000000002,510.50000000000006v3.4M142.60000000000002,505.1v3.4M188.3,505.1v3.4"/></g>
<g stroke="#2b2aa8" stroke-width="1.5" fill="none"><path d="M194.5,512.2H220.2M220.2,506.6H266.9"/><path d="M195.1,510.50000000000006v3.4M220.0,510.50000000000006v3.4M220.5,504.90000000000003v3.4M266.3,504.90000000000003v3.4"/></g>
<g stroke="#1f8440" stroke-width="1.5" fill="none"><path d="M116.9,590.9H143.5M143.5,585.4H188.9"/><path d="M117.5,589.1999999999999v3.4M143.3,589.1999999999999v3.4M143.8,583.6999999999999v3.4M188.3,583.6999999999999v3.4"/></g>
<g stroke="#2b2aa8" stroke-width="1.5" fill="none"><path d="M194.5,590.9H219.7M219.7,585.1H266.9"/><path d="M195.1,589.1999999999999v3.4M219.5,589.1999999999999v3.4M220.0,583.4v3.4M266.3,583.4v3.4"/></g>
<text x="130.20" y="180.60" font-size="8" font-weight="bold" text-anchor="middle" fill="#1f8440" stroke="#1f8440" stroke-width="0.22">19.0</text>
<text x="153.50" y="169.40" font-size="8" font-weight="bold" text-anchor="middle" fill="#1f8440" stroke="#1f8440" stroke-width="0.22">81.0</text>
<text x="206.60" y="157.50" font-size="8" font-weight="bold" text-anchor="middle" fill="#2b2aa8" stroke="#2b2aa8" stroke-width="0.22">94.3</text>
<text x="242.30" y="189.90" font-size="8" font-weight="bold" text-anchor="middle" fill="#2b2aa8" stroke="#2b2aa8" stroke-width="0.22">5.7</text>
<text x="129.70" y="271.70" font-size="8" font-weight="bold" text-anchor="middle" fill="#1f8440" stroke="#1f8440" stroke-width="0.22">11.9</text>
<text x="178.20" y="266.70" font-size="8" font-weight="bold" text-anchor="middle" fill="#1f8440" stroke="#1f8440" stroke-width="0.22">88.1</text>
<text x="219.20" y="243.20" font-size="8" font-weight="bold" text-anchor="middle" fill="#2b2aa8" stroke="#2b2aa8" stroke-width="0.22">91.3</text>
<text x="242.30" y="266.70" font-size="8" font-weight="bold" text-anchor="middle" fill="#2b2aa8" stroke="#2b2aa8" stroke-width="0.22">8.7</text>
<text x="131.20" y="353.00" font-size="8" font-weight="bold" text-anchor="middle" fill="#1f8440" stroke="#1f8440" stroke-width="0.22">10.2</text>
<text x="178.20" y="323.70" font-size="8" font-weight="bold" text-anchor="middle" fill="#1f8440" stroke="#1f8440" stroke-width="0.22">89.8</text>
<text x="209.20" y="315.30" font-size="8" font-weight="bold" text-anchor="middle" fill="#2b2aa8" stroke="#2b2aa8" stroke-width="0.22">79.4</text>
<text x="242.30" y="346.80" font-size="8" font-weight="bold" text-anchor="middle" fill="#2b2aa8" stroke="#2b2aa8" stroke-width="0.22">20.6</text>
<text x="129.20" y="411.70" font-size="8" font-weight="bold" text-anchor="middle" fill="#1f8440" stroke="#1f8440" stroke-width="0.22">21.5</text>
<text x="178.20" y="401.70" font-size="8" font-weight="bold" text-anchor="middle" fill="#1f8440" stroke="#1f8440" stroke-width="0.22">78.5</text>
<text x="219.20" y="399.40" font-size="8" font-weight="bold" text-anchor="middle" fill="#2b2aa8" stroke="#2b2aa8" stroke-width="0.22">93.6</text>
<text x="242.30" y="425.90" font-size="8" font-weight="bold" text-anchor="middle" fill="#2b2aa8" stroke="#2b2aa8" stroke-width="0.22">6.4</text>
<text x="129.70" y="509.20" font-size="8" font-weight="bold" text-anchor="middle" fill="#1f8440" stroke="#1f8440" stroke-width="0.22">19.4</text>
<text x="173.50" y="502.70" font-size="8" font-weight="bold" text-anchor="middle" fill="#1f8440" stroke="#1f8440" stroke-width="0.22">80.6</text>
<text x="217.70" y="478.70" font-size="8" font-weight="bold" text-anchor="middle" fill="#2b2aa8" stroke="#2b2aa8" stroke-width="0.22">88.1</text>
<text x="243.80" y="503.10" font-size="8" font-weight="bold" text-anchor="middle" fill="#2b2aa8" stroke="#2b2aa8" stroke-width="0.22">11.9</text>
<text x="129.70" y="588.70" font-size="8" font-weight="bold" text-anchor="middle" fill="#1f8440" stroke="#1f8440" stroke-width="0.22">2.4</text>
<text x="172.00" y="582.30" font-size="8" font-weight="bold" text-anchor="middle" fill="#1f8440" stroke="#1f8440" stroke-width="0.22">97.6</text>
<text x="216.90" y="552.60" font-size="8" font-weight="bold" text-anchor="middle" fill="#2b2aa8" stroke="#2b2aa8" stroke-width="0.22">46.3</text>
<text x="248.50" y="582.60" font-size="8" font-weight="bold" text-anchor="middle" fill="#2b2aa8" stroke="#2b2aa8" stroke-width="0.22">53.7</text>
<g clip-path="url(#c00)">
<path d="M49.2 170.2h.4M49.3 165.0h.4M45.7 165.7h.4M56.3 169.6h.4M55.9 168.5h.4M52.6 168.1h.4M41.8 172.3h.4M53.1 170.1h.4M41.7 156.2h.4M45.9 164.1h.4M52.1 166.7h.4M53.2 163.0h.4M52.1 169.4h.4M47.1 177.6h.4M53.4 174.4h.4M47.3 162.4h.4M48.7 166.3h.4M53.8 168.5h.4M48.2 161.1h.4M47.8 174.6h.4M46.3 168.5h.4M52.7 157.8h.4M50.8 175.1h.4M40.0 165.0h.4M49.9 161.9h.4M53.1 166.6h.4M42.9 172.1h.4M54.0 172.9h.4M58.0 169.2h.4M51.1 158.9h.4M53.7 163.2h.4M48.1 159.2h.4M45.5 163.7h.4M57.2 154.4h.4M42.9 168.5h.4M58.0 170.6h.4M52.4 162.4h.4M44.7 173.1h.4M56.2 168.0h.4M51.8 169.7h.4M58.8 170.8h.4M53.2 170.4h.4M42.3 174.9h.4M55.5 170.3h.4M40.2 163.1h.4M54.9 155.8h.4M49.5 173.3h.4M43.7 177.0h.4M53.4 166.1h.4M52.2 171.0h.4M51.1 174.1h.4M47.1 164.4h.4M55.9 167.2h.4M45.9 172.9h.4M58.1 164.2h.4M43.3 166.2h.4M49.7 165.2h.4M57.8 160.6h.4M57.1 159.1h.4M46.4 170.9h.4M56.4 172.3h.4M52.3 167.9h.4M51.3 170.6h.4M49.6 168.7h.4M53.5 167.0h.4M54.5 170.5h.4M61.0 169.0h.4M48.3 164.7h.4M50.4 172.7h.4M48.7 169.4h.4M44.7 168.5h.4M52.6 168.5h.4M48.3 171.1h.4M52.0 163.8h.4M63.1 169.2h.4M47.6 166.4h.4M49.3 166.6h.4M55.7 159.8h.4M50.2 172.9h.4M55.0 176.2h.4M41.7 164.8h.4M48.7 170.9h.4M56.2 158.0h.4M54.1 157.7h.4M51.4 174.4h.4M49.7 168.2h.4M54.6 167.9h.4M50.0 176.5h.4M56.0 165.2h.4M64.8 159.9h.4M55.3 165.4h.4M51.2 171.4h.4M51.7 171.0h.4M42.6 157.6h.4M53.7 161.0h.4M45.2 157.9h.4M57.1 171.6h.4M58.2 161.2h.4M50.5 159.9h.4M54.5 176.9h.4M45.9 176.7h.4M55.6 165.9h.4M40.2 175.7h.4M50.0 163.3h.4M52.6 169.5h.4M58.3 160.7h.4M56.4 176.2h.4M58.1 165.9h.4M46.6 173.3h.4M51.1 167.8h.4M57.9 165.4h.4M38.6 164.6h.4M40.9 172.1h.4M52.1 163.2h.4M50.5 172.2h.4M50.9 175.2h.4M50.2 173.5h.4M58.3 177.0h.4M47.0 172.5h.4M40.7 160.3h.4M40.3 173.6h.4M44.1 166.9h.4M49.5 166.8h.4M47.4 168.4h.4M59.8 167.3h.4M53.3 173.2h.4M49.5 159.2h.4M47.6 173.7h.4M41.9 163.3h.4M55.7 171.9h.4M50.5 172.0h.4M51.4 159.7h.4M42.4 163.0h.4M55.3 163.5h.4M45.8 162.2h.4M42.5 166.3h.4M44.4 169.3h.4M38.2 169.0h.4M47.2 155.0h.4M54.3 165.3h.4M38.9 161.6h.4M52.0 164.2h.4M54.6 171.6h.4M54.0 169.0h.4M57.4 171.1h.4M52.8 154.1h.4M55.2 175.1h.4M49.0 164.1h.4M60.6 156.1h.4M52.9 182.0h.4M45.7 171.3h.4M60.3 166.3h.4M53.4 172.6h.4M45.8 166.4h.4M52.0 172.1h.4M50.3 165.8h.4M45.2 164.8h.4M55.1 167.6h.4M46.1 161.8h.4M64.4 174.1h.4M53.7 170.0h.4M59.3 169.7h.4M50.1 170.2h.4M40.4 173.4h.4M52.2 162.6h.4M57.4 178.2h.4M43.2 162.9h.4M52.0 168.1h.4M48.4 161.0h.4M61.5 173.4h.4M44.3 158.7h.4M59.4 173.1h.4M60.0 172.0h.4M46.0 168.6h.4M39.3 162.4h.4M50.2 170.2h.4M46.7 166.2h.4M52.9 169.3h.4M53.8 168.3h.4M48.8 171.9h.4M50.8 161.9h.4M47.2 167.0h.4M49.9 168.0h.4M50.5 168.1h.4M49.8 159.2h.4M52.7 173.5h.4M52.8 165.8h.4M52.8 161.0h.4M40.6 167.4h.4M45.7 171.6h.4M45.1 176.8h.4M48.5 158.5h.4M46.5 170.2h.4M53.1 168.1h.4M58.2 171.4h.4M50.4 170.7h.4M59.1 173.0h.4M55.8 160.3h.4M49.7 171.5h.4M49.0 173.6h.4M52.0 203.4h.4M47.9 213.3h.4M55.2 196.7h.4M49.5 213.6h.4M47.3 203.2h.4M53.9 198.0h.4M43.2 199.1h.4M50.8 204.8h.4M52.9 198.1h.4M53.3 201.2h.4M50.0 198.3h.4M47.8 202.1h.4M43.7 194.2h.4M49.0 189.2h.4M45.6 201.4h.4M51.8 197.7h.4M47.8 189.5h.4M58.1 201.1h.4M54.5 192.7h.4M48.1 187.1h.4M52.9 203.6h.4M39.5 197.7h.4M52.2 187.4h.4M39.9 191.6h.4M45.9 189.6h.4M49.2 199.5h.4M52.2 202.2h.4M56.5 205.0h.4M42.4 195.0h.4M43.7 191.5h.4M48.6 198.0h.4M51.5 188.5h.4M42.8 197.9h.4M48.0 196.1h.4M48.7 193.4h.4M52.5 200.1h.4M48.6 194.0h.4M44.1 198.2h.4M41.5 199.2h.4M49.7 189.7h.4M47.7 196.1h.4M51.3 201.7h.4M48.8 192.9h.4M48.3 197.6h.4M52.7 199.8h.4M45.4 189.9h.4M47.1 193.6h.4M43.4 197.3h.4M46.5 198.6h.4M51.6 195.5h.4M60.6 196.1h.4M54.5 198.7h.4M45.2 199.5h.4M52.0 212.0h.4M50.6 205.7h.4M52.8 203.7h.4M51.6 197.1h.4M51.5 191.5h.4M54.9 191.9h.4M50.2 210.7h.4M47.9 198.1h.4M54.8 198.2h.4M45.0 199.5h.4M51.9 202.3h.4M45.1 208.5h.4M57.3 198.1h.4M50.3 195.4h.4M56.1 193.8h.4M52.4 195.1h.4M45.5 202.3h.4M55.7 197.9h.4M45.6 202.9h.4M48.8 199.9h.4M56.6 204.8h.4M46.4 211.7h.4M49.0 202.7h.4M45.8 197.7h.4M40.3 208.7h.4M55.8 190.7h.4M41.5 188.3h.4" stroke="#000" stroke-width="0.6" stroke-linecap="square" fill="none" opacity="0.65"/>
<path d="M60.6 205.4h.4M52.6 205.6h.4M52.2 204.2h.4M53.2 203.6h.4M52.5 206.8h.4M56.0 205.8h.4M47.1 206.5h.4M49.8 209.0h.4M58.0 206.0h.4M49.9 204.9h.4M46.9 205.6h.4M54.9 207.1h.4M56.7 210.0h.4M48.4 206.2h.4M49.6 206.5h.4M54.0 206.9h.4M51.4 206.9h.4M53.3 207.6h.4M40.7 204.6h.4M53.0 204.3h.4M46.2 207.3h.4M48.8 207.3h.4M57.8 206.8h.4M56.3 206.0h.4M43.8 206.1h.4M56.0 205.2h.4M52.4 207.5h.4M47.3 207.4h.4M65.1 205.2h.4M54.0 205.9h.4M63.0 206.8h.4M58.8 205.0h.4M52.9 206.2h.4M41.5 208.8h.4M58.8 203.1h.4M57.8 206.0h.4M55.9 206.9h.4M43.3 205.8h.4M62.7 205.2h.4M46.4 203.8h.4M45.1 206.8h.4M64.0 207.0h.4M54.6 210.2h.4M49.6 205.0h.4M56.4 207.2h.4M46.4 204.1h.4M54.9 206.6h.4M44.5 205.8h.4M49.5 207.0h.4M52.2 206.0h.4M50.7 208.1h.4M62.0 205.5h.4M58.5 204.8h.4M53.5 207.5h.4M62.8 205.5h.4M52.5 206.6h.4M43.3 206.2h.4M48.6 206.9h.4M45.7 202.6h.4M53.2 206.7h.4M49.4 207.8h.4M51.2 205.1h.4M56.1 203.4h.4M48.6 206.2h.4M58.5 205.9h.4M55.0 205.0h.4M55.0 209.2h.4M48.5 210.5h.4M48.8 206.2h.4M54.1 208.0h.4M45.0 202.4h.4M56.9 207.6h.4M57.1 210.9h.4M54.3 206.7h.4M59.0 206.9h.4M63.8 204.0h.4M50.6 200.0h.4M58.3 205.5h.4M59.0 210.1h.4M53.0 205.7h.4M49.8 204.7h.4M48.9 207.4h.4M53.2 206.3h.4M51.9 207.8h.4M56.2 205.9h.4M57.3 205.9h.4M45.5 208.8h.4M56.0 204.5h.4M60.0 206.8h.4M42.8 209.1h.4M55.2 207.8h.4M54.3 205.9h.4M42.9 207.9h.4M53.2 205.7h.4M55.3 206.3h.4M57.4 205.5h.4M52.8 202.3h.4M50.2 207.4h.4M61.7 205.5h.4M52.2 209.1h.4M50.9 207.5h.4M63.9 206.3h.4M61.0 204.9h.4M54.3 206.1h.4M53.7 208.2h.4M49.3 207.1h.4M46.1 207.1h.4M56.7 205.7h.4M56.5 203.4h.4M57.9 203.4h.4M48.5 205.2h.4M50.4 207.7h.4M53.5 205.5h.4M56.5 209.0h.4M53.0 206.9h.4M61.1 206.7h.4M44.7 210.7h.4M52.7 207.0h.4M59.3 207.4h.4M51.2 204.3h.4M53.7 208.1h.4M45.9 204.4h.4M52.8 202.7h.4M51.3 205.4h.4M55.9 204.9h.4M47.3 205.5h.4M52.7 205.0h.4M53.1 207.6h.4M60.7 209.3h.4M47.9 205.4h.4M48.3 206.1h.4M56.4 203.8h.4M56.0 206.2h.4M41.1 206.7h.4M60.8 202.8h.4M58.2 206.6h.4M56.1 207.0h.4M61.5 205.8h.4M58.7 205.5h.4M57.7 204.7h.4M52.3 209.3h.4M55.9 205.9h.4M45.6 204.8h.4M54.3 207.9h.4M55.8 207.1h.4M52.7 208.6h.4M50.5 205.2h.4M58.8 206.3h.4M51.2 205.2h.4M51.3 207.3h.4M55.3 204.0h.4M55.8 206.5h.4M46.5 207.6h.4M51.2 205.6h.4M58.2 208.6h.4M48.5 207.0h.4M47.3 210.4h.4M49.8 208.4h.4M48.8 207.7h.4M50.2 207.1h.4M52.4 205.0h.4M42.3 207.7h.4M41.8 208.3h.4M49.2 206.5h.4M61.2 206.4h.4M44.0 203.1h.4M60.7 207.5h.4M47.7 207.7h.4M56.2 207.4h.4M38.3 205.7h.4M58.9 207.5h.4M58.7 201.8h.4M54.1 207.1h.4M50.9 206.3h.4M58.8 205.4h.4M60.5 204.8h.4M54.7 205.3h.4M54.0 205.0h.4M42.6 208.2h.4M55.0 205.2h.4M54.3 208.0h.4M46.6 206.0h.4M56.5 207.1h.4M50.8 202.4h.4M61.1 206.8h.4M53.1 205.7h.4M54.7 205.4h.4M46.3 204.9h.4M49.1 205.1h.4M45.5 207.3h.4M44.5 207.4h.4M46.4 206.8h.4M61.9 206.6h.4M48.2 206.3h.4M54.0 203.1h.4M49.1 206.5h.4M50.0 206.3h.4M57.8 207.6h.4M58.9 207.3h.4M51.1 206.2h.4M51.2 205.6h.4M51.8 203.1h.4M50.8 206.2h.4M46.7 206.2h.4M56.4 205.9h.4M51.7 202.9h.4M59.4 211.0h.4M56.4 205.7h.4M56.6 202.2h.4M58.5 206.9h.4M53.1 205.1h.4M57.1 205.3h.4M54.5 205.3h.4M38.4 206.1h.4M54.3 207.6h.4M47.3 206.1h.4M57.0 206.5h.4M61.1 209.8h.4M47.1 202.7h.4M58.6 209.0h.4M59.0 207.7h.4M49.0 204.9h.4M58.8 204.6h.4M41.2 204.4h.4M48.5 204.9h.4M54.5 204.9h.4M61.5 206.1h.4M45.9 208.6h.4M49.2 206.6h.4M52.9 205.6h.4M55.1 205.0h.4M41.0 202.2h.4M44.8 204.8h.4M52.9 206.3h.4M56.6 206.4h.4M47.8 204.9h.4M39.2 205.9h.4M56.2 207.2h.4M52.2 205.9h.4M59.1 206.2h.4M57.8 207.2h.4M54.4 208.6h.4M49.3 205.6h.4M47.7 204.8h.4M63.1 209.4h.4M53.1 207.2h.4M60.6 207.7h.4M60.8 203.9h.4M48.8 207.0h.4M62.3 206.4h.4M47.4 205.6h.4M48.7 204.7h.4M62.8 205.1h.4M53.1 210.1h.4M60.7 206.8h.4M49.0 206.9h.4M63.5 207.3h.4M61.2 206.4h.4M56.4 205.8h.4M55.8 208.5h.4M43.7 206.1h.4M54.6 205.2h.4M51.0 207.6h.4M55.1 203.4h.4M65.5 206.3h.4M52.8 204.2h.4M52.6 204.2h.4M53.5 207.0h.4M53.2 206.7h.4M47.5 208.8h.4M48.8 202.9h.4M51.8 204.8h.4M46.4 205.6h.4M54.9 204.1h.4M52.1 208.8h.4M57.4 205.9h.4M53.8 206.0h.4M52.7 207.5h.4M52.4 201.9h.4M52.9 204.6h.4M57.2 205.1h.4M54.0 210.1h.4M46.2 204.2h.4M43.8 201.9h.4M40.8 206.9h.4M48.9 202.8h.4M43.4 207.3h.4M48.0 205.5h.4M55.1 208.6h.4M65.6 208.1h.4M53.9 206.5h.4M64.7 208.8h.4M51.0 207.0h.4M54.9 206.3h.4M49.7 203.8h.4M49.5 203.4h.4M61.0 207.2h.4M45.2 208.7h.4M58.8 202.8h.4M65.0 207.7h.4M89.6 173.6h.4M95.2 170.6h.4M75.7 178.7h.4M74.1 189.5h.4M76.9 189.1h.4M85.4 171.0h.4M99.9 166.4h.4M98.0 169.3h.4M76.9 193.8h.4M65.1 192.2h.4M89.4 176.2h.4M79.4 177.6h.4M101.1 166.2h.4M68.4 194.2h.4M66.0 198.6h.4M70.2 186.6h.4M79.5 190.4h.4M75.4 186.2h.4M89.5 172.3h.4M80.3 179.8h.4M89.2 178.1h.4M69.6 187.2h.4M68.7 191.9h.4M70.8 188.3h.4M79.0 191.2h.4M80.2 188.8h.4M71.5 190.4h.4M71.2 192.7h.4M67.3 191.7h.4M82.4 183.8h.4M77.2 186.6h.4M82.3 173.9h.4M74.9 180.7h.4M80.6 186.6h.4M90.8 176.4h.4M64.0 193.6h.4M67.7 193.8h.4M62.0 198.2h.4M90.7 172.3h.4M71.9 191.7h.4M69.0 196.0h.4M70.3 188.6h.4M86.2 172.8h.4M83.4 181.4h.4M82.3 183.8h.4M78.2 178.5h.4M104.2 165.8h.4M84.2 180.9h.4M101.4 164.3h.4M77.8 180.6h.4M80.3 183.5h.4M83.9 173.1h.4M74.8 184.7h.4M91.8 170.9h.4M95.4 166.8h.4M90.7 176.6h.4M86.5 172.5h.4M75.7 178.9h.4M90.2 170.9h.4M65.4 195.2h.4M93.5 172.0h.4M94.1 169.9h.4M97.9 165.9h.4M75.3 190.0h.4M68.9 194.9h.4M77.9 184.3h.4M81.0 188.0h.4M67.9 192.5h.4M77.7 186.9h.4M78.7 192.1h.4M86.7 173.8h.4M64.2 199.0h.4M76.3 185.4h.4M88.3 174.4h.4M78.3 188.3h.4M80.3 184.7h.4M63.4 193.8h.4M86.9 173.1h.4M70.4 190.8h.4M72.8 190.8h.4M65.4 192.8h.4M95.9 171.6h.4M82.7 184.8h.4M69.5 188.9h.4M77.6 183.9h.4M79.4 182.1h.4M96.5 168.8h.4M88.1 175.8h.4M63.0 199.6h.4M86.7 172.7h.4M102.0 165.4h.4M88.1 177.7h.4M66.8 198.5h.4M72.9 183.9h.4M91.6 174.1h.4M93.4 170.2h.4M63.1 197.3h.4M65.8 197.4h.4M81.6 175.6h.4M67.9 195.2h.4M64.0 196.1h.4M91.2 170.8h.4M82.7 173.6h.4M101.4 165.1h.4M105.0 163.6h.4M69.5 191.5h.4M93.2 170.3h.4M69.8 193.8h.4M78.0 185.0h.4M81.3 182.1h.4M66.9 189.4h.4M75.8 189.3h.4M78.5 190.8h.4M64.2 195.3h.4M84.3 182.6h.4M72.6 193.2h.4M92.6 170.2h.4M83.5 181.5h.4M94.7 169.1h.4M78.8 178.6h.4M89.7 176.5h.4M80.8 181.7h.4M90.1 172.8h.4M91.7 173.1h.4M89.1 172.3h.4M84.7 179.0h.4M75.1 187.0h.4M70.5 189.3h.4M82.0 183.3h.4M78.6 184.7h.4M86.3 181.2h.4M74.6 191.6h.4M77.2 188.0h.4M102.2 167.7h.4M87.0 178.5h.4M88.5 177.0h.4M81.6 179.9h.4M78.9 183.5h.4M83.7 179.4h.4M86.6 181.4h.4M84.5 182.1h.4M77.4 185.0h.4M79.3 183.8h.4M81.1 186.1h.4M84.3 181.7h.4M75.1 188.6h.4M91.2 170.3h.4M83.7 183.5h.4M73.3 186.9h.4M87.1 178.2h.4M95.3 166.9h.4M65.9 196.4h.4M87.4 175.9h.4M81.5 177.3h.4M63.9 196.0h.4M81.1 185.9h.4M93.5 171.2h.4M85.3 177.3h.4M67.0 193.6h.4M91.1 175.6h.4M68.4 189.1h.4M98.7 167.7h.4M97.3 168.9h.4M77.2 189.7h.4M92.9 172.6h.4M88.6 170.9h.4M100.3 167.5h.4M84.3 183.1h.4M73.5 191.6h.4M78.6 187.3h.4M86.8 174.5h.4M69.4 194.5h.4M75.8 187.5h.4M77.6 181.5h.4M67.1 189.5h.4M91.0 176.0h.4M79.9 187.4h.4M92.6 172.2h.4M89.5 169.7h.4M66.6 196.8h.4M89.9 169.6h.4M93.4 172.4h.4M80.9 188.3h.4M66.4 192.3h.4M70.9 196.8h.4M94.9 166.2h.4M80.6 181.9h.4M102.8 167.7h.4M73.1 183.2h.4M85.7 172.2h.4M84.4 179.5h.4M76.3 193.2h.4M69.0 187.7h.4M70.3 189.0h.4M75.9 180.3h.4M90.5 172.3h.4M69.8 186.6h.4M69.0 192.0h.4M77.9 183.4h.4M83.5 181.5h.4M92.1 169.1h.4M74.1 187.5h.4M84.4 178.6h.4M76.6 179.2h.4M74.7 179.4h.4M86.6 175.9h.4M75.9 180.0h.4M74.7 184.1h.4M90.3 174.1h.4M78.1 184.5h.4M80.0 182.6h.4M86.6 177.7h.4M66.5 194.9h.4M85.1 172.3h.4M83.3 183.5h.4M71.6 184.2h.4M95.2 167.2h.4M66.0 193.7h.4M96.0 168.1h.4M69.0 190.6h.4M76.7 191.3h.4M66.5 197.2h.4M91.5 172.4h.4M66.4 192.6h.4M74.4 188.4h.4M69.6 193.3h.4M71.1 196.1h.4M82.3 184.4h.4M78.8 176.1h.4M91.4 173.1h.4M73.7 181.5h.4M73.2 184.1h.4M105.7 164.3h.4M75.0 191.2h.4M89.8 176.0h.4M86.0 178.0h.4M82.9 176.6h.4M81.7 179.5h.4M86.8 174.2h.4M77.4 191.7h.4M92.8 171.1h.4M90.3 170.3h.4M76.0 190.7h.4M91.7 175.5h.4M76.4 181.3h.4M88.1 172.5h.4M105.4 165.1h.4M95.6 166.3h.4M88.3 175.2h.4M94.5 172.5h.4M82.7 187.2h.4M95.2 166.3h.4M89.8 175.7h.4M66.3 190.1h.4M71.1 184.1h.4M68.5 194.9h.4M68.7 188.3h.4M88.1 179.8h.4M70.8 195.7h.4M77.5 191.9h.4M61.9 196.7h.4M68.2 190.2h.4M105.1 164.2h.4M71.9 192.3h.4M62.4 199.7h.4M69.5 188.4h.4M68.1 190.3h.4M77.2 181.4h.4M79.7 183.6h.4M85.7 183.3h.4M78.7 177.3h.4M105.9 163.2h.4M72.8 185.6h.4M101.9 164.8h.4M92.4 175.0h.4M71.9 186.3h.4M91.6 174.9h.4M71.4 185.7h.4M84.7 180.6h.4M84.8 182.5h.4M69.2 193.4h.4M82.0 186.7h.4M97.9 167.6h.4M95.3 168.5h.4M84.7 171.8h.4M70.4 184.1h.4M93.5 173.2h.4M98.6 166.4h.4M81.2 176.6h.4M93.2 173.9h.4M79.7 187.0h.4M78.6 184.4h.4M78.1 187.6h.4M84.9 181.4h.4M82.1 180.1h.4M81.1 181.2h.4M64.9 193.2h.4M80.1 184.6h.4M100.3 168.4h.4M76.4 182.2h.4M61.8 199.6h.4M84.2 178.5h.4M85.4 176.8h.4M82.2 181.1h.4M87.5 176.5h.4M97.2 170.4h.4M85.2 178.1h.4M86.6 175.0h.4M73.7 192.5h.4M74.5 189.3h.4M99.9 165.7h.4M88.0 169.7h.4M98.8 168.4h.4M80.0 187.4h.4M92.0 168.7h.4M63.4 193.9h.4M87.4 174.8h.4M98.9 168.6h.4M78.4 186.7h.4M71.4 183.2h.4M98.4 167.5h.4M102.9 166.4h.4M73.6 196.0h.4M102.6 164.2h.4M76.3 179.6h.4M72.5 190.5h.4M69.5 192.1h.4M88.0 180.1h.4M91.0 169.1h.4M69.1 197.8h.4M76.3 194.2h.4M100.6 167.3h.4M83.6 182.8h.4M84.1 176.6h.4M72.2 195.2h.4M62.2 197.9h.4M71.7 190.8h.4M84.6 173.8h.4M101.1 166.1h.4M87.2 171.7h.4M72.4 185.2h.4M105.2 164.5h.4M72.4 190.1h.4M91.7 168.6h.4M82.8 181.4h.4M70.4 186.1h.4M65.6 189.5h.4M94.7 168.0h.4M87.8 179.1h.4M103.6 167.3h.4M72.7 194.0h.4M78.9 192.0h.4M76.6 185.0h.4M89.1 173.8h.4M66.9 188.3h.4M63.3 193.4h.4M71.5 195.9h.4M79.0 181.5h.4M98.5 169.0h.4M77.6 187.5h.4M89.6 176.9h.4M64.0 193.9h.4M79.0 190.7h.4M90.0 173.4h.4M85.7 178.6h.4M94.4 169.3h.4M75.8 179.2h.4M79.0 177.3h.4M70.6 196.6h.4M85.1 173.7h.4M89.5 172.6h.4M76.7 177.5h.4M69.8 195.3h.4M85.2 182.3h.4M79.5 184.2h.4M73.7 194.3h.4M68.2 187.8h.4M67.3 189.1h.4M63.3 193.6h.4M89.5 175.6h.4M76.2 184.0h.4M71.2 192.4h.4M70.8 194.1h.4M87.5 177.8h.4M84.3 184.8h.4M71.6 195.1h.4M105.4 165.6h.4M81.7 188.3h.4M70.1 190.2h.4M84.5 179.2h.4M70.3 189.0h.4M62.1 195.0h.4M68.8 186.4h.4M68.3 191.8h.4M86.6 181.8h.4M62.4 196.6h.4M71.0 184.7h.4M83.1 186.7h.4M81.8 184.7h.4M82.4 177.8h.4M72.2 187.0h.4M67.8 196.6h.4M71.3 187.9h.4M95.2 166.8h.4M69.8 192.9h.4M66.2 192.1h.4M83.9 185.9h.4M85.8 173.8h.4M90.4 170.7h.4M99.3 166.8h.4M95.4 168.5h.4M84.6 179.9h.4M79.6 185.6h.4M81.2 189.1h.4M76.1 191.5h.4M66.2 193.5h.4M75.5 186.2h.4M77.8 182.9h.4M73.7 191.5h.4M91.3 173.3h.4M90.9 169.7h.4M62.2 194.5h.4M77.7 189.7h.4M67.7 192.2h.4M72.5 192.5h.4M95.5 171.3h.4M78.6 176.5h.4M100.2 164.9h.4M77.6 180.4h.4M99.7 167.1h.4M81.7 174.8h.4M70.6 187.5h.4M68.0 192.7h.4M71.6 185.1h.4M101.6 166.0h.4M70.0 190.7h.4M79.4 188.1h.4M62.1 198.1h.4M89.1 171.0h.4M76.8 187.7h.4M68.7 193.6h.4M66.9 198.5h.4M84.7 184.5h.4M101.0 165.1h.4M87.6 179.7h.4M63.8 196.8h.4M80.2 182.6h.4M64.9 196.2h.4M92.3 172.5h.4M64.8 190.4h.4M90.3 169.7h.4M79.6 178.6h.4M77.3 189.1h.4M91.6 169.0h.4M70.2 191.3h.4M87.7 170.3h.4M93.8 173.1h.4M69.2 188.7h.4M73.3 189.3h.4M105.4 163.7h.4M66.6 197.6h.4M76.4 182.3h.4M75.7 178.4h.4M73.2 192.3h.4M93.4 171.5h.4M70.0 189.2h.4M89.7 171.9h.4M91.0 172.6h.4M75.5 189.7h.4M84.7 176.4h.4M96.0 166.9h.4M91.2 171.2h.4M75.7 180.6h.4M78.0 179.5h.4M81.8 186.6h.4M89.1 174.1h.4M64.6 190.8h.4M65.7 198.7h.4M95.7 168.0h.4M98.6 169.3h.4M69.2 191.3h.4M80.4 175.5h.4M73.1 190.4h.4M88.4 173.7h.4M94.2 167.8h.4M66.3 193.1h.4M69.2 190.6h.4M71.6 196.7h.4M79.8 186.5h.4M98.9 167.9h.4M85.5 175.4h.4M100.6 168.1h.4M63.6 195.2h.4M85.9 179.9h.4M76.6 192.0h.4M94.5 170.3h.4M82.1 177.9h.4M75.3 186.4h.4M84.6 180.9h.4M91.1 170.7h.4M67.1 196.8h.4M80.7 189.5h.4M71.4 190.6h.4M80.8 177.1h.4M76.1 190.1h.4M96.9 169.8h.4M80.4 185.3h.4M80.2 182.0h.4M70.5 184.7h.4M73.6 194.0h.4M102.7 164.9h.4M76.5 191.4h.4M89.0 174.2h.4M75.6 181.7h.4M79.5 176.1h.4M80.4 176.0h.4M68.3 195.0h.4M77.3 186.3h.4M85.9 177.9h.4M82.8 181.3h.4M77.1 182.7h.4M82.7 175.3h.4M78.7 185.5h.4M78.0 177.3h.4M85.5 173.2h.4M76.3 193.4h.4M68.6 188.5h.4M64.1 192.8h.4M65.5 197.2h.4M69.6 185.5h.4M80.8 177.5h.4M92.9 169.5h.4M77.1 190.3h.4M87.1 179.7h.4M76.5 177.6h.4M78.6 188.6h.4M79.9 187.8h.4M88.9 174.7h.4M75.7 191.0h.4M73.2 185.6h.4M68.6 194.7h.4M83.2 173.2h.4M102.6 166.1h.4M68.1 191.2h.4M87.6 178.8h.4M103.0 166.2h.4M96.1 166.8h.4M93.8 172.5h.4M93.6 170.9h.4M90.6 173.3h.4M80.5 184.2h.4M94.8 168.4h.4M94.4 167.9h.4M89.8 176.9h.4M72.6 193.2h.4M65.4 194.5h.4M82.2 180.4h.4M97.8 167.4h.4M65.9 196.8h.4M94.6 171.6h.4M68.6 188.3h.4M86.2 178.0h.4M82.4 181.2h.4M85.9 174.6h.4M77.5 185.4h.4M86.1 170.6h.4M69.5 193.8h.4M66.0 197.5h.4M73.4 195.6h.4M84.4 175.0h.4M66.4 190.6h.4M77.7 187.5h.4M90.6 169.0h.4M79.9 183.1h.4M95.2 172.0h.4M95.5 171.2h.4M81.6 181.6h.4M68.5 186.1h.4M91.3 171.2h.4M79.3 188.5h.4M97.1 167.2h.4M77.0 188.7h.4M77.8 189.4h.4M65.6 189.9h.4M68.4 195.3h.4M93.4 167.3h.4M78.4 187.8h.4M83.0 175.5h.4M78.1 181.9h.4M87.7 171.2h.4M73.8 181.6h.4M83.9 178.5h.4M91.1 169.9h.4M85.2 173.2h.4M84.2 176.9h.4M77.5 190.9h.4M94.1 170.7h.4M71.9 192.0h.4M83.2 176.7h.4M73.5 181.0h.4M81.3 173.5h.4M88.2 168.7h.4M89.5 166.4h.4M75.7 174.2h.4M72.7 180.0h.4M72.0 181.2h.4M97.2 163.6h.4M78.2 174.7h.4M84.3 169.8h.4M77.7 171.4h.4M67.0 182.3h.4M76.9 174.2h.4M82.8 166.7h.4M69.6 181.9h.4M90.4 164.6h.4M89.0 165.8h.4M84.4 170.7h.4M87.1 167.6h.4M78.0 175.2h.4M90.7 163.6h.4M62.7 190.3h.4M89.5 164.1h.4M85.1 165.2h.4M71.6 174.9h.4M89.5 164.3h.4M70.1 179.6h.4M70.4 176.2h.4M62.7 191.6h.4M85.7 167.4h.4M64.9 181.9h.4M92.4 165.2h.4M100.3 161.7h.4M83.5 168.5h.4M75.2 175.7h.4M93.8 163.9h.4M63.6 185.7h.4M79.3 170.6h.4M72.8 179.0h.4M100.0 162.7h.4M105.0 160.5h.4M71.0 181.8h.4M67.1 184.9h.4M85.0 170.2h.4M81.2 167.8h.4M72.5 179.1h.4M102.7 163.7h.4M98.9 161.6h.4M94.7 163.3h.4M83.9 166.3h.4M81.2 169.6h.4M65.8 187.2h.4M83.8 167.8h.4M67.1 177.3h.4M78.5 174.0h.4M88.9 166.9h.4M89.1 166.6h.4M66.2 182.5h.4M80.7 172.7h.4M75.7 172.5h.4M87.0 167.2h.4M68.8 184.4h.4M81.2 172.9h.4M66.4 184.1h.4M68.8 178.4h.4M73.7 173.6h.4M66.8 181.1h.4M83.7 171.4h.4M89.8 165.9h.4M78.9 168.9h.4M66.5 184.9h.4M67.1 180.4h.4M72.9 179.6h.4M78.7 170.1h.4M105.7 161.0h.4M100.6 162.0h.4M72.5 173.0h.4M69.7 179.0h.4M102.8 162.2h.4M98.3 163.3h.4M86.9 169.4h.4M73.1 178.5h.4M67.4 186.5h.4M65.2 185.6h.4M66.0 182.7h.4M76.3 169.6h.4M67.4 181.6h.4M84.7 169.8h.4M105.6 160.9h.4M94.2 163.0h.4M78.5 174.1h.4M77.4 174.2h.4M80.7 168.5h.4M75.9 176.8h.4M86.8 167.0h.4M90.8 167.6h.4M63.5 185.0h.4M81.6 167.9h.4M86.7 166.5h.4M105.4 160.3h.4M100.6 161.0h.4M91.4 167.0h.4M75.7 171.7h.4M67.1 185.5h.4M73.1 177.5h.4M86.7 168.7h.4M63.1 188.4h.4M75.4 177.9h.4M82.9 171.2h.4M63.5 183.8h.4M72.5 178.2h.4M70.5 181.3h.4M85.2 165.9h.4M97.0 163.3h.4M104.2 163.5h.4M75.3 178.5h.4M65.5 189.2h.4M104.1 162.8h.4M87.7 164.5h.4M63.9 183.6h.4M68.4 177.4h.4M97.3 164.5h.4M71.1 178.9h.4M77.9 173.3h.4M80.8 172.6h.4M104.8 163.1h.4M79.4 175.3h.4M74.6 175.8h.4M67.0 180.2h.4M64.7 184.9h.4M65.0 187.5h.4M94.1 164.1h.4M86.7 165.8h.4M73.2 179.9h.4M76.6 173.4h.4M78.8 169.2h.4M74.3 171.8h.4M90.8 163.9h.4M73.4 178.0h.4M80.9 168.2h.4M99.3 164.0h.4M63.9 180.8h.4M84.5 166.1h.4M100.5 163.8h.4M63.8 188.2h.4M68.3 180.5h.4M96.4 164.4h.4M92.3 163.7h.4M97.2 163.0h.4M76.2 173.9h.4M78.3 171.7h.4M76.9 170.9h.4M104.4 161.3h.4M102.9 161.8h.4M96.3 165.2h.4M68.9 177.9h.4M65.4 179.4h.4M98.3 162.6h.4M85.2 170.2h.4M82.4 169.7h.4M89.1 166.3h.4M83.5 166.0h.4M76.5 170.4h.4M103.2 163.5h.4M102.5 162.4h.4M85.4 169.3h.4M87.3 165.0h.4M70.1 174.0h.4M93.4 164.5h.4M81.0 168.1h.4M92.6 163.7h.4M71.8 174.9h.4M75.9 176.2h.4M66.5 181.3h.4M66.6 185.4h.4M67.6 180.8h.4M70.2 175.8h.4M105.3 162.2h.4M75.5 176.2h.4M89.8 166.9h.4M97.6 163.7h.4M77.0 171.9h.4M66.9 184.7h.4M96.8 164.1h.4M84.7 168.0h.4M99.7 164.1h.4M104.4 162.8h.4M76.3 171.6h.4M105.5 162.1h.4M64.1 184.4h.4M72.0 179.2h.4M79.4 169.1h.4M75.3 178.4h.4M73.4 173.0h.4M76.3 174.1h.4M77.8 171.0h.4M62.8 188.5h.4M101.2 164.2h.4M65.3 186.2h.4M73.4 179.5h.4M85.5 165.8h.4M65.5 186.3h.4M72.6 180.0h.4M69.6 175.1h.4M74.4 172.0h.4M79.6 173.1h.4M64.9 185.3h.4M78.2 169.4h.4M73.9 176.6h.4M96.9 164.0h.4M68.6 176.3h.4M64.2 189.6h.4M68.0 177.4h.4M105.3 162.3h.4M79.1 175.3h.4M105.3 160.4h.4M66.3 179.7h.4M81.6 171.1h.4M67.7 180.8h.4M66.9 187.0h.4M87.6 168.1h.4M78.2 174.8h.4M90.1 166.2h.4M73.3 177.3h.4M85.4 167.6h.4M77.6 168.6h.4M65.1 181.5h.4M63.1 189.1h.4M74.4 175.8h.4M70.7 181.2h.4M69.2 184.0h.4M100.6 163.6h.4M87.3 166.2h.4M65.3 189.5h.4M93.0 165.9h.4M74.1 174.3h.4M68.9 176.5h.4M85.0 166.2h.4M92.6 164.4h.4M73.2 174.0h.4M100.7 162.4h.4M64.3 188.7h.4M99.7 162.3h.4M79.1 174.5h.4M78.0 176.1h.4M105.7 162.0h.4M77.8 173.2h.4M74.2 177.9h.4M68.4 177.2h.4M64.0 182.1h.4M81.0 170.8h.4M85.5 169.6h.4M68.4 183.2h.4M87.5 168.5h.4M78.4 172.6h.4M84.6 168.6h.4M86.1 169.3h.4M71.2 182.0h.4M72.2 181.6h.4M77.3 169.7h.4M94.4 165.5h.4M100.0 159.4h.4M73.1 167.2h.4M67.2 171.0h.4M93.0 160.9h.4M67.9 170.1h.4M73.4 168.9h.4M64.5 179.2h.4M75.4 169.5h.4M68.7 169.7h.4M75.9 168.5h.4M98.7 160.4h.4M95.5 160.1h.4M85.4 164.1h.4M64.4 178.6h.4M67.1 176.1h.4M101.0 160.0h.4M85.3 163.1h.4M65.4 175.7h.4M92.6 160.9h.4M92.5 162.6h.4M74.1 168.7h.4M77.0 167.6h.4M99.7 160.8h.4M74.7 168.7h.4M92.6 161.8h.4M100.9 159.4h.4M98.4 160.3h.4M68.0 172.4h.4M70.1 172.8h.4M84.0 163.1h.4M75.7 169.6h.4M77.2 166.1h.4M84.6 164.8h.4M81.5 166.0h.4M71.4 168.7h.4M69.5 172.5h.4M81.3 163.8h.4M65.0 176.5h.4M93.2 161.6h.4M75.9 167.6h.4M97.8 160.6h.4M78.1 167.0h.4M69.3 169.6h.4M68.7 170.8h.4M67.7 175.2h.4M100.4 160.2h.4M73.2 167.5h.4M98.0 161.0h.4M68.6 173.0h.4M106.0 159.5h.4M96.7 160.9h.4M72.4 171.8h.4M100.8 160.5h.4M67.5 169.7h.4M71.5 170.7h.4M74.2 170.6h.4M65.8 172.2h.4M78.2 167.5h.4M66.5 171.6h.4M99.4 161.0h.4M71.1 212.1h.4M83.1 214.3h.4M104.0 216.7h.4M79.3 214.5h.4M65.7 215.8h.4M84.4 212.8h.4M100.5 212.2h.4M69.7 214.4h.4M105.9 212.7h.4M73.0 216.0h.4M76.1 216.6h.4M61.8 213.2h.4M74.9 216.2h.4M65.6 215.4h.4M100.9 216.9h.4M97.3 212.3h.4M82.7 213.1h.4M66.5 213.2h.4M94.1 214.9h.4M66.9 213.4h.4M64.0 216.6h.4M94.9 214.4h.4M104.3 216.9h.4M70.3 213.3h.4M69.6 215.1h.4M87.8 214.6h.4M95.8 214.6h.4M75.2 215.3h.4M103.7 212.2h.4M82.9 212.7h.4M94.6 214.2h.4M98.7 215.3h.4M104.2 214.9h.4M87.8 216.9h.4M97.1 213.7h.4M65.7 216.6h.4M63.9 216.6h.4M103.0 215.3h.4M103.7 215.0h.4M94.6 215.0h.4M71.0 212.4h.4M94.4 214.3h.4M66.6 214.8h.4M72.9 213.3h.4M100.4 215.1h.4M94.7 216.1h.4M80.7 214.3h.4M80.4 213.8h.4M96.0 216.4h.4M74.4 215.6h.4M70.7 212.0h.4M91.8 215.9h.4M75.8 217.0h.4M93.4 213.6h.4M95.2 216.2h.4M67.3 216.6h.4M80.5 213.4h.4M78.0 214.6h.4M84.7 213.5h.4M63.7 215.2h.4M93.3 215.5h.4M78.8 216.3h.4M61.8 212.6h.4M61.8 214.8h.4M84.5 213.1h.4M84.6 212.0h.4M62.6 216.8h.4M100.9 212.3h.4M90.5 214.5h.4M85.2 216.2h.4M89.9 216.7h.4M91.7 216.6h.4M66.2 216.1h.4M75.4 216.6h.4M96.6 216.8h.4M95.0 214.0h.4M84.6 215.9h.4M63.6 214.7h.4M86.6 215.6h.4M76.4 215.0h.4M94.1 213.9h.4M91.7 216.5h.4M77.6 214.6h.4M82.8 216.2h.4M73.1 213.4h.4M78.7 215.3h.4M68.0 216.9h.4M83.6 215.7h.4M79.6 212.1h.4M78.4 214.9h.4M65.1 216.9h.4M87.4 214.3h.4M62.3 213.2h.4M76.2 215.2h.4M68.8 214.4h.4M73.2 214.8h.4M92.0 214.6h.4M94.8 215.1h.4M64.8 215.3h.4M82.8 215.8h.4M103.2 213.8h.4M99.3 213.1h.4M90.3 212.0h.4M98.1 214.2h.4M81.5 214.5h.4M77.8 213.2h.4M92.1 215.1h.4M63.5 213.4h.4M102.9 213.4h.4M74.2 214.9h.4M77.8 216.7h.4M105.2 212.6h.4M71.1 212.9h.4M81.0 213.4h.4M91.3 216.4h.4M64.2 212.1h.4M66.0 213.5h.4M67.0 214.2h.4M77.4 215.6h.4M104.5 216.9h.4M79.9 215.2h.4M67.0 215.1h.4M100.8 216.4h.4M67.3 212.8h.4M101.6 215.5h.4M95.3 212.3h.4M88.8 212.1h.4M94.2 216.0h.4M75.5 212.0h.4M94.0 217.0h.4M88.9 213.8h.4M75.8 216.1h.4M104.6 213.8h.4M70.9 217.0h.4M80.2 214.2h.4M75.0 215.6h.4M105.2 214.3h.4M99.5 214.0h.4M80.0 216.0h.4M104.7 215.8h.4M92.7 216.1h.4M102.4 216.8h.4M84.9 213.9h.4M61.3 214.6h.4M77.0 212.0h.4M105.7 213.5h.4M102.9 212.1h.4M77.2 215.9h.4M91.3 215.4h.4M83.0 212.5h.4M98.4 215.8h.4M82.5 214.8h.4M97.2 214.5h.4M82.4 214.4h.4M94.1 215.7h.4M76.1 215.9h.4M77.9 215.4h.4M78.0 216.5h.4M103.3 215.9h.4M78.2 213.8h.4M80.5 215.0h.4M62.5 214.7h.4M102.8 212.3h.4M101.1 214.9h.4M105.9 215.6h.4M93.3 215.8h.4M80.0 212.6h.4M99.5 216.4h.4M93.5 213.1h.4M83.5 214.6h.4M77.4 214.4h.4M81.6 216.9h.4M89.2 216.9h.4M101.9 212.9h.4M95.7 213.9h.4M87.9 214.8h.4M94.3 213.5h.4M91.5 213.8h.4M96.2 214.5h.4M89.9 217.0h.4M73.6 212.0h.4M101.3 214.6h.4M90.1 216.2h.4M101.1 213.9h.4M105.4 214.0h.4M93.7 216.2h.4M77.3 214.1h.4M77.5 213.7h.4M79.5 216.2h.4M63.7 216.9h.4M96.6 214.8h.4M89.9 213.5h.4M95.4 216.4h.4M78.2 214.5h.4M70.8 213.3h.4M99.3 215.2h.4M81.1 215.2h.4M69.3 212.0h.4M77.1 214.9h.4M69.3 214.7h.4M75.6 213.3h.4M94.3 213.8h.4M94.4 215.7h.4M77.9 212.2h.4M98.9 214.8h.4M87.1 215.4h.4M85.7 216.5h.4M61.4 216.8h.4M88.7 214.0h.4M101.8 216.5h.4M87.8 212.0h.4M89.1 214.1h.4M86.8 216.2h.4M66.9 216.2h.4M75.0 213.3h.4M62.7 212.5h.4M73.1 214.6h.4M103.3 212.9h.4M74.0 213.9h.4M89.8 213.8h.4" stroke="#000" stroke-width="0.6" stroke-linecap="square" fill="none" opacity="0.85"/>
<path d="M61.5,200.5 L66.0,199.2 L72.0,197.2 L78.0,193.8 L82.0,189.2 L86.0,183.2 L90.0,177.6 L95.0,172.6 L101.0,168.6 L106.0,166.2 L106.0,212.8 L61.5,212.8Z" fill="#000" opacity="1" stroke="none" stroke-width="0"/>
<path d="M78.0,206.0 L79.0,201.5 L83.0,198.5 L89.0,197.0 L93.0,195.0 L95.5,191.0 L96.5,186.0 L97.5,181.5 L100.0,178.5 L103.0,177.5 L105.5,179.0 L106.0,183.0 L104.5,188.0 L102.5,193.0 L102.0,198.0 L104.0,202.0 L104.5,206.0 L100.0,209.0 L90.0,209.5 L81.0,209.0Z" fill="#e4e4e4" opacity="1" stroke="#222" stroke-width="0.7"/>
<path d="M80,206 C81,202 85,200 90,199 C94,197.5 97,194 98,189 C99,184 100,181 102.5,180 C104.5,180 105,183 104,186" fill="none" stroke="#333" stroke-width="0.6" opacity="1"/>
<path d="M82,207.5 C88,206.5 93,205 97,202 C99.5,199 100,194 100.5,190 C101,186 102,183 103,183" fill="none" stroke="#444" stroke-width="0.55" opacity="1"/>
<path d="M86,205 C90,203.5 94,202 96,199.5" fill="none" stroke="#555" stroke-width="0.5" opacity="1"/>
<path d="M99,207.5 C102,206 102.5,203 101,201" fill="none" stroke="#444" stroke-width="0.55" opacity="1"/>
<path d="M84,203 C88,202 91,201 93,199.5" fill="none" stroke="#666" stroke-width="0.5" opacity="1"/>
<ellipse cx="102.8" cy="181.5" rx="1.1" ry="1.5" fill="none" stroke="#222" stroke-width="0.55" opacity="1" transform="rotate(0 102.8 181.5)"/>
</g>
<rect x="37.3" y="153.5" width="26.9" height="27.8" fill="none" stroke="#1f8440" stroke-width="1.3"/>
<rect x="37.1" y="186.3" width="24.0" height="27.9" fill="none" stroke="#2b2aa8" stroke-width="1.3"/>
<text x="66.90" y="160.70" font-size="8" font-weight="bold" text-anchor="start" fill="#1f8440" stroke="#1f8440" stroke-width="0.22">0.03</text>
<rect x="64.0" y="188.0" width="17.2" height="8" fill="#fff"/>
<text x="64.80" y="194.60" font-size="8" font-weight="bold" text-anchor="start" fill="#2b2aa8" stroke="#2b2aa8" stroke-width="0.22">0.09</text>
<g clip-path="url(#c01)">
<path d="M89.1 244.9h.4M75.9 270.2h.4M90.2 243.9h.4M76.0 275.5h.4M76.4 290.6h.4M89.5 245.5h.4M83.6 239.3h.4M76.8 256.8h.4M93.4 289.7h.4M90.8 273.6h.4M87.3 266.1h.4M88.8 265.3h.4M83.4 285.4h.4M81.3 259.9h.4M89.3 292.9h.4M82.2 261.6h.4M83.4 248.4h.4M82.5 282.6h.4M78.9 264.2h.4M81.0 270.1h.4M91.2 242.8h.4M85.2 247.1h.4M88.6 276.0h.4M79.6 249.6h.4M81.4 255.4h.4M93.7 287.6h.4M91.6 259.2h.4M84.6 247.9h.4M84.7 292.1h.4M76.9 259.3h.4M79.1 285.9h.4M81.3 264.8h.4M76.1 276.7h.4M85.8 283.3h.4M90.2 279.9h.4M80.5 250.8h.4M87.6 238.9h.4M94.7 278.5h.4M85.4 257.3h.4M76.6 268.7h.4M91.2 242.9h.4M77.1 276.5h.4M84.9 282.7h.4M83.6 294.0h.4M93.3 255.0h.4M86.3 270.6h.4M84.5 284.3h.4M89.8 284.3h.4M80.3 265.8h.4M86.4 270.4h.4M75.3 283.9h.4M84.4 245.4h.4M93.0 268.8h.4M90.5 279.7h.4M88.1 289.9h.4M76.2 255.7h.4M78.4 273.5h.4M77.9 246.3h.4M86.3 262.9h.4M86.1 251.0h.4M78.2 259.6h.4M78.5 263.3h.4M78.4 279.4h.4M93.4 255.1h.4M76.5 292.9h.4M76.8 274.3h.4M90.9 264.5h.4M93.7 244.7h.4M90.1 289.5h.4M93.8 286.1h.4M84.2 266.2h.4M92.8 258.4h.4M79.3 244.3h.4M94.5 254.2h.4M82.4 293.5h.4M89.5 261.6h.4M77.2 257.6h.4M81.1 292.0h.4M83.8 293.4h.4M93.9 240.4h.4M91.5 271.1h.4M81.0 285.2h.4M84.0 294.0h.4M86.7 291.7h.4M94.5 258.2h.4M89.5 279.0h.4M88.8 237.4h.4M89.4 280.9h.4M79.1 241.6h.4M76.4 268.1h.4M77.2 286.0h.4M83.7 294.7h.4M90.4 261.3h.4M78.8 261.2h.4M87.7 286.8h.4M93.7 255.2h.4M75.5 275.2h.4M89.4 274.2h.4M91.9 283.9h.4M88.1 284.5h.4M77.6 291.8h.4M89.0 241.6h.4M78.5 273.8h.4M81.4 291.3h.4M80.9 264.7h.4M85.6 291.5h.4M81.4 288.6h.4M90.2 269.6h.4M94.9 288.1h.4M90.7 268.2h.4M75.9 249.0h.4M88.7 242.9h.4M88.5 256.5h.4M83.1 284.5h.4M92.7 280.1h.4M84.4 267.6h.4M95.7 290.6h.4M87.8 240.7h.4M93.9 238.7h.4M77.5 274.9h.4M79.1 280.5h.4M89.4 245.8h.4M94.1 294.9h.4M88.8 293.9h.4M91.8 263.9h.4M92.3 291.4h.4M89.6 240.9h.4M82.8 277.5h.4M82.7 245.8h.4M84.6 244.3h.4M85.0 241.8h.4M90.3 248.6h.4M94.7 242.3h.4M88.3 274.0h.4M79.2 273.0h.4M86.5 272.3h.4M78.9 264.1h.4M92.6 272.5h.4M80.1 255.7h.4M93.5 239.1h.4M85.0 266.3h.4M77.2 285.7h.4M84.6 253.2h.4M84.5 239.1h.4M76.7 284.9h.4M91.0 247.6h.4M81.7 240.5h.4M81.7 266.7h.4M90.8 265.8h.4M92.8 294.9h.4M86.9 238.6h.4M77.8 275.7h.4M77.7 289.1h.4M86.7 271.2h.4M77.5 255.8h.4M82.7 279.5h.4M91.4 277.0h.4M78.8 263.2h.4M94.2 246.3h.4M82.3 272.3h.4M89.5 263.2h.4M86.1 285.6h.4M77.0 271.3h.4M81.7 280.6h.4M90.0 260.5h.4M78.2 281.1h.4M89.7 269.3h.4M90.7 292.0h.4M80.1 276.7h.4M91.9 251.7h.4M94.0 254.5h.4M95.1 270.4h.4M95.4 288.2h.4M91.4 257.9h.4M84.6 270.6h.4M91.9 260.6h.4M93.9 248.8h.4M85.9 244.6h.4M78.6 253.2h.4M76.0 269.6h.4M88.0 259.3h.4M91.8 268.2h.4M89.4 241.0h.4M78.4 286.1h.4M77.8 271.2h.4M82.9 275.7h.4M93.3 284.9h.4M95.3 293.0h.4M83.4 294.3h.4M91.0 252.4h.4M81.9 266.9h.4M92.8 241.8h.4M93.7 275.6h.4M87.5 260.0h.4M83.0 259.9h.4M90.0 262.1h.4M90.0 287.7h.4M94.8 247.4h.4M92.1 259.9h.4M84.0 271.4h.4M81.0 288.0h.4M90.8 251.1h.4M83.5 260.6h.4M89.9 252.8h.4M82.5 265.7h.4M80.0 261.3h.4M90.7 265.8h.4M76.2 256.6h.4M87.0 249.7h.4M83.1 269.0h.4M82.7 246.8h.4M93.4 239.9h.4M94.0 241.6h.4M86.6 268.2h.4M83.6 272.9h.4M93.6 254.8h.4M76.3 247.8h.4M93.4 271.3h.4M90.8 259.0h.4M81.8 276.7h.4M86.9 289.9h.4M78.4 256.2h.4M89.5 289.5h.4M84.8 282.5h.4M77.3 273.7h.4M81.9 276.9h.4M81.2 247.0h.4M80.7 278.7h.4M90.0 289.9h.4M83.7 239.9h.4M92.0 251.1h.4M90.1 264.9h.4M79.8 280.1h.4M84.7 288.0h.4M91.9 267.5h.4M83.4 267.5h.4M76.1 287.4h.4M78.1 270.2h.4M80.7 258.5h.4M84.8 253.1h.4M78.6 275.4h.4M88.2 240.8h.4M79.7 252.6h.4M82.7 264.9h.4M94.0 242.0h.4M87.1 272.8h.4M80.4 257.0h.4M84.3 288.3h.4M91.3 264.3h.4M76.4 257.1h.4M92.2 261.6h.4M83.2 273.7h.4M75.8 274.2h.4M89.4 242.7h.4M83.8 286.5h.4M80.5 267.3h.4M82.3 268.6h.4M83.2 256.3h.4M94.4 276.9h.4M84.8 257.6h.4M93.2 257.7h.4M89.3 246.4h.4M86.4 251.9h.4M94.2 257.6h.4M95.0 269.4h.4M82.2 268.5h.4M94.5 276.9h.4M92.3 269.4h.4M88.0 244.3h.4M92.5 273.8h.4M88.6 253.9h.4M91.0 267.1h.4M81.7 294.5h.4M91.2 276.1h.4M92.6 277.1h.4M83.1 292.4h.4M94.0 275.6h.4M84.1 265.5h.4M76.0 288.5h.4M92.4 271.1h.4M84.8 283.4h.4M75.4 259.6h.4M80.3 271.9h.4M82.4 271.8h.4M93.8 260.2h.4M92.5 263.6h.4M93.8 238.8h.4M81.8 263.9h.4M87.0 249.1h.4M88.6 273.7h.4M81.2 242.1h.4M81.1 248.6h.4M75.6 283.6h.4M80.8 279.9h.4M92.1 283.0h.4M75.5 270.6h.4M92.9 273.3h.4M87.7 261.1h.4M92.3 267.5h.4M82.4 265.3h.4M84.9 247.0h.4M89.1 285.2h.4M83.5 281.2h.4M77.8 265.8h.4M89.3 267.5h.4M89.8 245.8h.4M87.6 266.9h.4M90.2 242.6h.4M95.4 280.1h.4M93.3 246.9h.4M90.1 258.3h.4M89.7 277.2h.4M83.6 291.9h.4M84.2 263.6h.4M90.0 244.9h.4M93.8 255.6h.4M93.6 244.6h.4M77.6 270.8h.4M80.1 262.0h.4M79.2 278.7h.4M90.5 276.5h.4M87.2 240.8h.4M90.0 268.3h.4M94.6 284.3h.4M88.8 284.8h.4M85.7 253.2h.4M76.3 277.5h.4M89.0 273.3h.4M85.7 262.9h.4M94.3 258.2h.4M77.9 292.1h.4M91.0 288.9h.4M78.3 265.1h.4M85.3 258.9h.4M91.5 250.8h.4M81.0 285.0h.4M79.9 278.8h.4M80.8 260.1h.4M84.9 250.5h.4M92.3 291.5h.4M94.4 245.4h.4M75.5 262.0h.4M90.5 268.3h.4M95.2 294.3h.4M89.3 251.4h.4M83.4 239.8h.4M83.3 280.3h.4M81.6 246.9h.4M86.3 288.9h.4M88.6 242.5h.4M84.1 249.5h.4M92.1 260.7h.4M84.3 287.8h.4M81.2 262.5h.4M86.3 274.3h.4M82.0 273.1h.4M83.9 285.0h.4M86.7 278.9h.4M87.0 277.1h.4M83.2 244.7h.4M82.6 255.2h.4M75.3 281.4h.4M86.0 264.3h.4M89.8 239.9h.4M77.6 278.3h.4M75.9 287.3h.4M85.7 293.1h.4M93.0 260.1h.4M82.2 261.6h.4M91.2 263.2h.4M90.1 294.5h.4M90.7 266.3h.4M90.6 265.1h.4M87.2 260.8h.4M94.6 294.2h.4M86.9 269.0h.4M77.2 269.4h.4M94.5 250.3h.4M91.3 251.0h.4M90.0 252.6h.4M87.5 281.7h.4M75.7 285.6h.4M86.0 250.4h.4M81.5 268.7h.4M90.6 246.5h.4M76.5 249.6h.4M88.3 259.8h.4M91.0 278.9h.4M82.7 270.8h.4M78.1 272.0h.4M88.6 250.0h.4M89.0 244.2h.4M95.4 268.3h.4M94.4 275.5h.4M79.5 279.2h.4M87.9 258.3h.4M89.6 280.9h.4M89.3 248.9h.4M95.3 289.7h.4M84.1 290.7h.4M79.0 250.4h.4M85.3 244.5h.4M80.0 279.2h.4M75.4 272.1h.4M83.6 277.9h.4M80.4 264.2h.4M93.2 257.6h.4M81.2 291.1h.4M82.8 267.9h.4M78.0 260.3h.4M93.4 284.6h.4M92.2 290.0h.4M79.8 239.1h.4M77.7 274.4h.4M86.5 257.8h.4M90.0 249.0h.4M87.8 260.6h.4M77.9 281.8h.4M78.9 283.2h.4M91.0 261.8h.4M84.5 248.1h.4M77.9 277.1h.4M82.8 269.2h.4M82.7 251.7h.4M78.4 281.0h.4M84.1 245.0h.4M93.3 245.1h.4M79.8 245.3h.4M86.8 281.9h.4M75.7 290.6h.4M89.8 285.0h.4M83.9 261.8h.4M77.0 251.5h.4M93.3 252.8h.4M93.9 285.2h.4M94.3 244.3h.4M83.9 285.2h.4M81.5 250.4h.4M75.4 267.5h.4M86.6 248.5h.4M80.4 273.3h.4M78.6 282.4h.4M93.3 260.8h.4M77.7 269.7h.4M81.2 242.2h.4M89.9 269.0h.4M80.7 250.6h.4M90.2 290.1h.4M82.4 270.5h.4M79.6 263.4h.4M87.2 254.0h.4M87.7 268.0h.4M75.9 243.0h.4M83.7 244.7h.4M86.5 271.0h.4M88.1 288.2h.4M87.8 281.5h.4M77.4 287.5h.4M94.5 270.9h.4M92.4 268.5h.4M84.1 245.5h.4M85.1 278.1h.4M91.7 288.7h.4M85.9 291.8h.4M83.9 267.9h.4M91.2 249.8h.4M75.5 278.6h.4M79.0 286.3h.4M86.9 244.0h.4M85.9 281.6h.4M79.7 292.4h.4M76.2 244.8h.4M87.5 275.9h.4M87.6 290.5h.4M86.3 256.7h.4M83.3 259.3h.4M93.5 252.8h.4M89.5 269.5h.4M81.0 289.8h.4M80.4 253.7h.4M79.0 277.4h.4M89.6 257.5h.4M77.5 271.1h.4M82.1 268.5h.4M76.0 284.3h.4M93.2 241.2h.4M79.7 261.2h.4M92.5 254.2h.4M95.1 241.4h.4M94.0 239.4h.4M87.6 293.3h.4M90.2 289.9h.4M82.4 292.4h.4M94.0 252.2h.4M91.2 290.1h.4M79.5 259.1h.4M91.2 269.8h.4M94.3 261.6h.4M84.4 245.9h.4M80.8 287.6h.4M80.5 288.9h.4M91.9 269.6h.4M77.5 284.9h.4M95.1 292.8h.4M80.9 291.3h.4M84.2 257.7h.4M94.1 284.4h.4M89.3 252.9h.4M77.2 246.8h.4M80.5 247.3h.4M87.0 254.6h.4M79.5 287.7h.4M75.2 268.5h.4M75.6 268.9h.4M75.5 263.7h.4M88.0 267.9h.4M79.5 285.5h.4M95.4 284.0h.4M94.6 293.3h.4M82.7 268.1h.4M83.7 282.4h.4M78.5 249.4h.4M84.5 268.1h.4M75.1 258.9h.4M93.4 241.7h.4M85.9 271.4h.4M92.6 255.3h.4M87.8 292.2h.4M95.4 269.3h.4M82.1 274.4h.4M90.3 276.1h.4M89.2 258.7h.4M90.0 256.7h.4M79.9 241.9h.4M86.6 246.0h.4M80.9 253.6h.4M82.8 260.6h.4M95.5 267.1h.4M86.5 259.6h.4M86.5 284.0h.4M86.0 266.2h.4M82.4 246.9h.4M79.5 241.3h.4M83.7 269.8h.4M77.4 280.6h.4M84.5 272.8h.4M84.0 282.9h.4M89.3 243.1h.4M86.5 251.6h.4M90.7 257.9h.4M80.3 290.9h.4M76.1 260.2h.4M84.1 276.1h.4M91.4 293.5h.4M81.7 241.0h.4M80.7 272.6h.4M93.8 241.9h.4M80.6 288.5h.4M87.3 259.6h.4M79.6 272.4h.4M76.2 265.7h.4M81.0 260.4h.4M87.8 279.4h.4M89.3 261.6h.4M82.1 273.0h.4M84.7 290.8h.4M86.1 270.5h.4M89.0 264.5h.4M85.3 275.2h.4M87.6 294.9h.4M81.4 265.2h.4M95.5 284.1h.4M86.6 254.0h.4M78.8 260.5h.4M84.0 261.5h.4M80.4 264.4h.4M87.0 242.0h.4M88.8 277.9h.4M79.1 250.7h.4M75.8 263.8h.4M89.2 260.3h.4M87.4 271.7h.4M85.6 290.6h.4M89.8 262.3h.4M80.5 243.8h.4M88.6 281.1h.4M83.2 241.0h.4M80.8 277.7h.4M91.2 259.6h.4M93.6 259.0h.4M75.5 248.1h.4M93.7 277.6h.4M76.8 252.9h.4M83.3 264.4h.4M75.5 290.4h.4M86.2 251.6h.4M75.7 269.7h.4M94.6 278.4h.4M93.0 287.5h.4M89.0 239.4h.4M81.5 270.3h.4M83.7 248.8h.4M76.4 287.1h.4M89.0 253.6h.4M84.9 287.5h.4M78.0 273.1h.4M79.9 289.4h.4M91.8 291.9h.4M83.0 265.9h.4M81.8 256.7h.4M95.0 293.2h.4M95.9 289.6h.4M85.3 275.0h.4M94.1 261.4h.4M94.3 283.0h.4M81.0 257.2h.4M89.5 245.7h.4M80.4 247.4h.4M77.2 289.6h.4M85.6 280.0h.4M89.4 262.0h.4M85.9 243.5h.4M80.1 256.3h.4M82.5 274.9h.4M80.1 250.0h.4M93.4 282.1h.4M94.6 282.0h.4M79.1 264.8h.4M92.5 283.6h.4M79.8 264.5h.4M80.1 279.8h.4M89.0 262.4h.4M87.0 267.1h.4M82.3 241.0h.4M90.6 281.6h.4M84.1 281.4h.4M92.4 276.8h.4M92.0 293.0h.4M75.8 291.6h.4M84.5 281.9h.4M90.5 241.8h.4M87.3 241.3h.4M90.4 256.0h.4M82.9 252.1h.4M92.0 273.8h.4M81.3 279.7h.4M78.9 283.3h.4M87.7 281.2h.4M87.9 294.1h.4M89.6 263.4h.4M87.4 269.4h.4M81.0 254.1h.4M91.8 284.3h.4M95.3 276.5h.4M85.6 259.3h.4M89.8 274.3h.4M94.8 280.1h.4M83.1 252.4h.4M75.9 282.0h.4M84.0 259.3h.4M76.1 265.2h.4M93.9 252.4h.4M90.6 280.8h.4M88.9 271.2h.4M80.2 275.8h.4M87.3 293.0h.4M85.8 256.9h.4M94.0 272.8h.4M82.2 274.3h.4M78.2 247.1h.4M93.6 263.3h.4M91.8 248.7h.4M84.9 250.0h.4M91.8 271.2h.4M83.3 258.7h.4M79.4 248.4h.4M89.5 254.4h.4M77.2 258.8h.4M84.5 294.3h.4M83.1 259.8h.4M95.4 278.5h.4M84.6 259.5h.4M79.7 245.0h.4M84.9 273.8h.4M77.2 264.1h.4M78.6 271.5h.4M82.2 275.3h.4M91.4 259.9h.4M83.0 240.7h.4M79.4 272.7h.4M91.9 244.2h.4M95.5 289.9h.4M82.7 267.8h.4M89.1 255.4h.4M82.7 278.6h.4M85.2 261.8h.4M86.8 242.9h.4M84.9 253.4h.4M78.5 266.9h.4M89.7 267.0h.4M85.5 275.5h.4M83.9 293.9h.4M86.9 277.0h.4M83.0 259.5h.4M82.2 250.3h.4M91.6 286.9h.4M80.9 269.3h.4M84.7 243.8h.4M90.4 267.4h.4M95.8 289.7h.4M94.0 251.4h.4M77.3 283.8h.4M77.3 276.5h.4M78.7 277.6h.4M76.1 241.2h.4M93.2 266.4h.4M84.5 293.4h.4M91.5 249.3h.4M89.8 258.7h.4M84.7 254.5h.4M79.8 253.9h.4M80.7 247.1h.4M93.4 258.4h.4M86.8 283.9h.4M89.2 245.2h.4M95.0 291.0h.4M92.6 255.4h.4M92.4 273.9h.4M75.7 258.3h.4M89.7 268.1h.4M94.9 282.6h.4M92.6 293.8h.4M82.2 289.6h.4M75.1 283.1h.4M76.8 265.5h.4M84.3 240.2h.4M88.4 282.5h.4M79.7 250.5h.4M91.2 267.2h.4M75.4 254.1h.4M94.8 252.3h.4M81.1 262.6h.4M93.6 283.7h.4M83.1 275.3h.4M82.8 273.4h.4M92.9 247.0h.4M76.1 241.1h.4M76.7 252.9h.4M87.2 274.7h.4M81.0 266.4h.4M82.0 270.2h.4M77.3 272.8h.4M75.0 290.4h.4M79.4 268.7h.4M79.0 262.2h.4M80.6 273.8h.4M91.4 285.8h.4M86.5 256.7h.4M81.1 266.0h.4M90.7 255.0h.4M87.6 251.7h.4M90.1 265.3h.4M81.5 262.4h.4M75.1 241.8h.4M94.1 240.9h.4M83.3 275.5h.4M75.8 290.9h.4M79.3 292.8h.4M84.1 270.6h.4M87.7 241.2h.4M85.6 280.2h.4M91.6 279.3h.4M89.3 243.6h.4M83.6 266.0h.4M75.9 281.2h.4M77.1 269.3h.4M80.6 245.6h.4M95.0 272.6h.4M90.4 271.8h.4M86.8 287.5h.4M76.3 258.3h.4M79.6 271.2h.4M83.3 290.3h.4M79.9 251.9h.4M94.3 278.5h.4M84.0 258.0h.4M90.4 244.8h.4M90.2 249.4h.4M91.9 240.4h.4M94.2 286.8h.4M75.5 245.4h.4M94.2 284.3h.4M81.1 283.3h.4M87.2 250.6h.4M89.4 260.5h.4M78.0 286.2h.4M90.1 250.4h.4M84.0 276.3h.4M82.8 251.2h.4M86.1 292.1h.4M89.1 268.0h.4M86.6 261.9h.4M84.3 256.1h.4M86.7 269.3h.4M90.7 259.1h.4M92.1 249.2h.4M95.6 275.5h.4M93.2 284.2h.4M80.0 260.6h.4M88.4 276.8h.4M86.4 244.2h.4M92.1 259.9h.4M88.2 257.8h.4M85.4 243.1h.4M89.4 253.5h.4M77.1 267.9h.4M85.8 275.5h.4M90.1 245.4h.4M85.1 262.2h.4M86.4 247.6h.4M86.4 275.8h.4M92.2 282.4h.4M84.6 254.6h.4M90.6 262.1h.4M87.8 268.9h.4M84.9 281.2h.4M95.2 273.5h.4M83.2 265.7h.4M90.9 272.1h.4M82.6 275.4h.4M89.6 270.2h.4M83.9 261.8h.4M76.4 261.8h.4M83.8 258.1h.4M84.6 257.7h.4M86.4 263.5h.4M82.9 260.3h.4M85.5 269.0h.4M88.2 257.2h.4M81.9 239.4h.4M79.7 267.8h.4M81.4 284.4h.4M85.2 256.8h.4M85.2 254.6h.4M82.8 263.1h.4M78.7 264.0h.4M85.5 249.6h.4M91.2 267.2h.4M91.4 252.9h.4M79.8 245.7h.4M78.1 236.0h.4M93.9 255.6h.4M87.0 254.8h.4M85.3 284.0h.4M77.3 248.5h.4M86.7 249.6h.4M89.5 280.0h.4M90.5 272.5h.4M85.2 276.0h.4M82.0 245.7h.4M84.7 258.7h.4M92.1 248.5h.4M91.7 251.4h.4M79.7 238.7h.4M85.8 242.1h.4M87.1 262.8h.4M84.0 235.5h.4M83.4 268.3h.4M77.1 271.7h.4M86.1 254.6h.4M87.0 271.1h.4M85.9 251.4h.4M89.9 252.7h.4M87.8 275.6h.4M92.6 284.2h.4M91.1 264.1h.4M85.0 264.7h.4M89.3 250.7h.4M93.6 240.1h.4M91.0 244.4h.4M80.5 255.1h.4M84.6 243.4h.4M89.1 260.5h.4M92.7 248.0h.4M76.9 271.6h.4M84.9 275.6h.4M74.3 244.8h.4M86.5 289.1h.4M79.8 235.7h.4M83.7 281.7h.4M93.9 243.3h.4M82.9 236.6h.4M81.8 248.8h.4M88.1 277.8h.4M98.0 257.1h.4M90.1 265.1h.4M86.6 288.8h.4M89.5 283.7h.4M87.5 274.0h.4M88.5 260.8h.4M82.5 256.5h.4M86.1 256.8h.4M84.3 252.3h.4M90.3 258.7h.4M85.4 259.0h.4M92.6 254.6h.4M93.1 250.1h.4M93.7 270.5h.4M83.5 268.4h.4M91.7 248.9h.4M84.9 266.4h.4M85.0 258.0h.4M86.1 266.4h.4M89.9 282.5h.4M84.4 286.7h.4M85.4 242.0h.4M83.8 257.3h.4M91.4 234.1h.4M82.8 260.2h.4M89.3 267.5h.4M90.3 259.9h.4M84.8 278.8h.4M94.6 267.3h.4M86.8 250.2h.4M96.5 267.6h.4M89.1 239.9h.4M85.2 259.2h.4M93.7 259.5h.4M90.2 289.0h.4M80.2 250.6h.4M89.4 263.7h.4M86.2 259.8h.4M86.7 267.0h.4M83.6 258.2h.4M87.2 247.0h.4M89.2 260.4h.4M80.1 280.7h.4M80.2 290.7h.4M82.4 278.8h.4M85.7 284.4h.4M84.9 276.3h.4M84.4 236.1h.4M88.0 268.7h.4M88.0 285.2h.4M82.3 242.2h.4M87.3 252.4h.4M85.5 262.0h.4M81.9 277.2h.4M85.4 286.9h.4M87.3 276.7h.4M84.6 252.9h.4M83.4 249.9h.4M88.3 264.0h.4M80.6 240.7h.4M81.7 236.8h.4M81.6 241.0h.4M89.5 246.0h.4M83.1 260.4h.4M86.2 267.9h.4M89.8 271.0h.4M84.3 279.4h.4M87.9 252.2h.4M93.5 245.7h.4M88.4 279.5h.4M86.6 266.8h.4M86.6 271.3h.4M87.1 262.2h.4M89.5 235.8h.4M87.3 257.9h.4M95.8 266.1h.4M82.8 271.1h.4M84.1 245.6h.4M84.6 269.0h.4M91.9 276.6h.4M87.2 259.8h.4M87.0 278.8h.4M85.4 278.1h.4M82.1 261.9h.4M89.9 271.8h.4M87.0 254.9h.4M77.1 256.0h.4M81.8 256.5h.4M93.8 251.4h.4M90.2 261.8h.4M80.6 263.6h.4M89.7 245.6h.4M80.3 256.8h.4M89.6 253.7h.4M88.1 268.4h.4M86.1 268.3h.4M92.3 259.4h.4M87.6 247.3h.4M82.5 260.7h.4M90.0 252.7h.4M79.2 274.9h.4M80.8 263.7h.4M88.4 248.9h.4M87.7 277.3h.4M84.7 272.1h.4M86.7 249.2h.4M83.0 253.6h.4M92.6 278.0h.4M87.2 240.4h.4M83.6 256.5h.4M76.5 261.8h.4M87.4 243.7h.4M83.9 255.7h.4M95.1 271.2h.4M89.8 263.2h.4M79.7 274.8h.4M82.7 235.4h.4M89.6 257.2h.4M86.0 269.1h.4M84.9 267.7h.4M92.3 257.6h.4M84.3 262.3h.4M89.2 256.5h.4M86.4 252.6h.4M85.6 269.5h.4M82.0 259.5h.4M78.9 252.4h.4M86.4 269.4h.4M81.0 260.6h.4M81.5 266.4h.4M87.3 268.2h.4M85.0 242.3h.4M83.3 243.5h.4M82.7 261.2h.4M91.3 253.1h.4M82.2 264.8h.4M75.9 289.5h.4M78.5 276.0h.4M90.8 275.3h.4M85.5 272.1h.4M84.3 275.3h.4M82.8 250.8h.4M87.9 255.8h.4M89.3 250.2h.4M87.3 248.5h.4M85.5 291.7h.4M80.8 245.0h.4M78.2 258.9h.4M93.9 255.8h.4M90.5 259.5h.4M82.9 289.7h.4M91.3 236.7h.4M81.3 267.7h.4M89.2 258.9h.4M87.5 269.4h.4M84.3 275.8h.4M99.2 257.8h.4M95.4 249.6h.4M100.6 229.7h.4M100.3 288.5h.4M102.2 291.3h.4M104.5 260.1h.4M95.2 230.1h.4M101.3 284.1h.4M98.6 235.1h.4M103.3 263.2h.4M100.1 234.8h.4M101.1 265.6h.4M102.8 288.2h.4M95.8 283.3h.4M98.5 254.7h.4M98.8 281.7h.4M99.9 230.9h.4M100.2 236.2h.4M95.2 229.5h.4M99.2 257.1h.4M95.0 235.4h.4M104.9 263.5h.4M105.8 263.4h.4M105.5 273.7h.4M99.3 229.5h.4M96.6 280.7h.4M102.3 246.5h.4M96.8 270.2h.4M105.2 243.1h.4M106.0 262.9h.4M97.3 238.6h.4M102.8 290.0h.4M97.2 242.4h.4M96.6 240.4h.4M97.5 254.8h.4M97.6 271.7h.4M97.6 244.4h.4M99.6 237.7h.4M95.6 232.2h.4M95.1 272.5h.4M95.5 259.1h.4M104.8 268.4h.4M98.4 253.7h.4M99.7 248.1h.4M95.6 236.8h.4M96.6 240.3h.4M98.6 233.1h.4M101.8 239.8h.4M100.6 273.8h.4M100.5 277.1h.4M103.6 256.9h.4M97.3 228.9h.4M102.6 251.4h.4M98.2 231.8h.4M97.0 287.5h.4M100.2 284.5h.4M104.3 243.1h.4M97.5 287.2h.4M97.6 267.3h.4M105.3 258.1h.4M99.7 292.1h.4M104.5 290.0h.4M102.8 241.5h.4M105.2 263.5h.4M104.7 292.1h.4M97.6 292.9h.4M98.0 238.4h.4M98.0 294.7h.4M105.3 250.3h.4M100.3 282.8h.4M103.8 287.9h.4M99.0 242.0h.4M100.6 290.4h.4M101.7 286.2h.4M97.2 261.0h.4M105.1 265.4h.4M103.7 281.7h.4M99.9 273.6h.4M102.6 256.3h.4M100.7 281.9h.4M104.7 294.1h.4M99.0 272.7h.4M101.1 284.8h.4M97.6 258.2h.4M97.8 281.4h.4M96.2 235.8h.4M101.5 279.5h.4M98.8 231.5h.4M101.4 268.4h.4M99.7 244.7h.4M98.8 242.0h.4M103.9 252.3h.4M102.8 263.9h.4M97.5 245.3h.4M102.4 285.6h.4M105.1 236.6h.4M97.9 232.8h.4M97.1 252.7h.4M102.9 289.2h.4M101.5 236.0h.4M99.1 235.9h.4M98.1 265.6h.4M100.5 237.9h.4M98.0 287.8h.4M101.9 267.5h.4M98.5 246.6h.4M103.4 227.0h.4M102.2 292.0h.4M102.0 229.3h.4M95.4 280.2h.4M97.0 255.1h.4M102.2 272.6h.4M98.2 273.1h.4M105.1 258.3h.4M99.4 273.3h.4M104.6 273.4h.4M105.2 279.9h.4M105.5 243.3h.4M102.4 240.5h.4M96.3 249.6h.4M105.4 246.3h.4M98.4 289.9h.4M105.8 278.3h.4M98.9 282.8h.4M95.7 249.1h.4M97.7 285.3h.4M99.9 284.7h.4M100.4 251.7h.4M98.7 229.3h.4M100.0 291.6h.4M105.7 290.3h.4M96.1 256.5h.4M104.2 236.6h.4M95.7 240.2h.4M95.9 277.1h.4M102.8 294.2h.4M95.6 274.5h.4M103.7 238.3h.4M95.9 293.6h.4M103.7 230.8h.4M97.1 271.4h.4M96.9 256.1h.4M96.6 232.3h.4M100.3 263.4h.4M98.9 231.0h.4M101.1 237.4h.4M98.6 292.9h.4M102.1 272.1h.4M101.7 239.9h.4M102.5 292.9h.4M96.0 283.9h.4M98.8 239.9h.4M102.2 284.7h.4M96.8 239.6h.4M100.5 240.1h.4M100.6 294.3h.4M95.3 255.5h.4M97.2 237.5h.4M101.5 291.4h.4M100.2 264.5h.4M102.7 285.3h.4M105.6 249.0h.4M97.0 289.2h.4M101.7 286.9h.4M96.6 280.5h.4M96.3 235.1h.4M96.3 251.0h.4M99.6 271.4h.4M105.3 255.6h.4M101.4 254.3h.4M90.0 227.2h.4M80.1 227.1h.4M98.8 233.6h.4M97.8 229.3h.4M90.7 226.3h.4M86.3 236.0h.4M95.3 228.8h.4M93.9 229.9h.4M87.6 229.0h.4M91.2 234.8h.4M103.2 227.5h.4M91.8 226.7h.4M104.8 225.6h.4M92.0 229.5h.4M93.0 229.7h.4M88.4 228.2h.4M82.7 231.2h.4M85.7 230.4h.4M92.9 231.6h.4M103.2 232.3h.4M101.8 232.0h.4M85.8 233.8h.4M99.7 229.8h.4M104.1 224.6h.4M103.6 228.3h.4M94.1 233.6h.4M84.3 230.0h.4M104.9 226.6h.4M91.1 225.4h.4M104.2 230.1h.4M102.2 227.3h.4M92.0 227.0h.4M95.3 232.5h.4M94.9 231.0h.4M88.1 235.4h.4M80.5 226.0h.4M97.4 235.7h.4M102.0 227.0h.4M104.5 229.5h.4M94.8 231.8h.4M69.2 252.7h.4M68.9 252.2h.4M54.2 252.3h.4M49.2 250.4h.4M77.8 281.8h.4M56.2 259.3h.4M50.3 264.2h.4M65.3 262.0h.4M44.8 245.0h.4M38.2 250.8h.4M57.2 272.4h.4M56.1 266.3h.4M63.6 282.1h.4M37.1 281.3h.4M64.8 271.5h.4M53.7 273.3h.4M68.7 274.1h.4M37.3 284.1h.4M58.9 278.4h.4M57.7 249.7h.4M70.0 254.0h.4M54.3 281.5h.4M64.9 292.7h.4M77.0 243.2h.4M67.4 257.5h.4M53.2 252.3h.4M56.4 268.3h.4M51.7 261.4h.4M46.9 255.4h.4M62.8 284.4h.4M66.5 279.8h.4M43.3 267.6h.4M64.1 278.3h.4M47.9 258.9h.4M49.6 281.9h.4M75.1 254.4h.4M55.6 265.9h.4M43.4 260.1h.4M71.5 275.6h.4M46.9 250.8h.4M55.9 236.7h.4M62.7 264.2h.4M36.5 258.1h.4M47.2 257.4h.4M43.8 285.7h.4M42.3 275.3h.4M61.0 287.1h.4M56.8 262.2h.4M58.8 229.6h.4M52.7 242.7h.4M55.5 289.9h.4M45.7 269.8h.4M74.2 278.5h.4M51.3 232.1h.4M64.2 272.0h.4M52.5 254.8h.4M49.5 251.7h.4M45.0 283.6h.4M61.9 235.6h.4M38.5 245.5h.4M55.2 270.0h.4M47.4 257.5h.4M69.1 259.6h.4M69.4 252.1h.4M65.5 284.1h.4M52.5 256.4h.4M55.1 270.1h.4M38.4 262.9h.4M48.4 286.6h.4M52.7 249.4h.4M59.9 258.1h.4M58.4 266.3h.4M76.9 255.3h.4M62.2 244.9h.4M79.0 242.4h.4M45.0 262.2h.4M61.4 268.0h.4M39.1 256.4h.4M65.5 282.5h.4M69.9 269.3h.4M53.5 253.0h.4M49.5 260.6h.4M66.1 253.6h.4M70.7 258.8h.4M55.5 255.8h.4M66.5 264.3h.4M69.7 272.2h.4M44.6 291.1h.4M78.0 263.5h.4M53.1 266.6h.4M78.5 249.2h.4M51.9 255.5h.4M36.7 252.7h.4M43.4 266.2h.4M69.2 262.9h.4M60.7 269.3h.4M63.3 251.2h.4M67.2 247.7h.4M65.2 251.5h.4M52.1 283.0h.4M60.0 275.7h.4M53.9 230.6h.4M47.4 278.3h.4M39.6 249.6h.4M76.0 250.4h.4M75.7 257.1h.4M54.3 263.4h.4M49.7 280.5h.4M75.2 263.4h.4M67.4 271.5h.4M74.0 277.8h.4M52.7 262.5h.4M52.2 283.3h.4M39.5 272.6h.4M78.2 272.0h.4M50.1 254.5h.4M75.2 246.2h.4M43.8 278.4h.4M55.8 238.2h.4M45.4 251.3h.4M44.3 283.2h.4M41.7 268.5h.4M48.4 272.3h.4M65.9 286.5h.4M49.6 246.4h.4M73.2 263.1h.4M79.0 250.3h.4M49.5 248.3h.4M60.3 252.9h.4M71.9 248.2h.4M62.2 266.5h.4M48.5 254.8h.4M44.9 259.3h.4M50.5 271.7h.4M57.9 271.7h.4M53.1 268.7h.4M42.1 269.0h.4M78.9 263.2h.4M43.5 290.2h.4M44.5 254.3h.4M57.1 275.1h.4M68.8 271.2h.4M45.8 292.6h.4M76.9 262.9h.4M48.6 261.5h.4M54.2 250.5h.4M57.6 251.0h.4M68.0 251.2h.4M65.6 267.7h.4M60.4 271.2h.4M46.7 274.8h.4M58.1 254.9h.4M53.4 271.9h.4M68.7 289.2h.4M74.0 259.4h.4M53.8 242.5h.4M62.0 277.0h.4M51.5 273.6h.4M59.9 254.4h.4M38.3 281.2h.4M40.5 244.7h.4M61.8 273.3h.4M60.0 268.9h.4M52.1 257.4h.4M74.7 232.8h.4M56.0 271.8h.4M69.1 274.3h.4M61.3 268.4h.4M44.8 258.7h.4M55.1 240.7h.4M49.3 249.1h.4M38.2 266.4h.4M42.7 271.3h.4M55.9 268.7h.4M61.2 282.9h.4M60.4 232.8h.4M56.4 267.8h.4M43.8 263.8h.4M55.2 240.4h.4M64.1 239.6h.4M67.1 261.2h.4M60.5 239.4h.4M54.4 270.4h.4M68.5 261.0h.4M40.6 255.3h.4M53.9 269.8h.4M39.2 262.2h.4M73.6 269.2h.4M79.5 272.4h.4M65.3 288.4h.4M50.8 252.9h.4M41.7 266.5h.4M65.0 278.3h.4M77.7 257.9h.4M42.5 274.8h.4M74.2 285.2h.4M55.3 254.1h.4M52.1 268.4h.4M57.2 259.0h.4M62.0 257.2h.4M63.3 251.9h.4M72.6 285.3h.4M49.2 266.6h.4M46.0 264.1h.4M62.5 255.1h.4M53.0 248.1h.4M67.2 265.6h.4M63.5 253.5h.4M65.9 257.0h.4M62.7 259.4h.4M47.3 243.3h.4M54.7 242.0h.4M77.8 242.1h.4M56.3 251.3h.4M70.2 237.0h.4M63.0 265.9h.4M67.0 269.5h.4M60.4 231.4h.4M52.8 245.8h.4M66.5 258.1h.4" stroke="#000" stroke-width="0.6" stroke-linecap="square" fill="none" opacity="0.85"/>
<path d="M42.4,240.8 L46.0,237.6 L50.3,236.2 L56.0,236.2 L61.8,236.9 L66.5,238.2 L70.5,240.6 L73.5,244.0 L74.8,249.4 L74.0,254.0 L72.2,258.5 L70.6,262.5 L70.8,266.5 L72.2,272.5 L72.9,278.0 L72.6,283.0 L70.0,287.5 L66.2,289.8 L60.0,290.5 L54.6,290.0 L50.5,288.0 L48.6,285.5 L47.6,279.0 L47.2,272.5 L46.5,266.0 L44.8,260.0 L43.0,253.7 L41.8,247.5Z" fill="#dedede" opacity="1" stroke="#111" stroke-width="1.0"/>
<path d="M42.6 240.3h.4M45.8 237.2h.4M42.9 239.4h.4M43.9 238.9h.4M46.0 236.7h.4M42.9 242.0h.4M43.8 236.8h.4M44.1 240.4h.4M42.3 240.9h.4M43.3 238.6h.4M44.3 237.5h.4M49.5 235.7h.4M51.2 236.4h.4M46.9 236.6h.4M48.8 236.5h.4M48.3 237.3h.4M48.4 236.2h.4M49.3 236.7h.4M51.8 235.4h.4M50.2 235.0h.4M51.2 235.7h.4M55.3 236.4h.4M51.9 237.0h.4M55.3 235.9h.4M54.1 237.0h.4M54.5 235.3h.4M52.9 235.4h.4M54.4 236.6h.4M51.9 236.7h.4M52.7 237.2h.4M57.6 237.2h.4M59.3 237.2h.4M58.6 235.5h.4M59.4 237.9h.4M59.4 237.1h.4M60.9 234.8h.4M61.3 235.7h.4M56.9 238.1h.4M56.5 236.5h.4M56.6 236.6h.4M65.6 237.6h.4M63.1 237.1h.4M64.0 237.0h.4M66.5 238.7h.4M67.2 238.4h.4M62.1 237.5h.4M64.1 237.5h.4M65.4 237.9h.4M64.5 238.4h.4M65.2 237.3h.4M68.9 238.6h.4M66.7 238.2h.4M66.6 238.0h.4M66.0 236.4h.4M66.8 237.9h.4M66.9 238.4h.4M69.5 239.9h.4M68.0 238.8h.4M68.4 240.5h.4M66.6 238.1h.4M72.9 243.3h.4M73.4 244.9h.4M73.6 242.8h.4M70.2 239.8h.4M71.0 243.7h.4M69.6 240.5h.4M73.4 243.1h.4M70.9 241.4h.4M71.7 240.8h.4M71.0 241.2h.4M75.4 249.8h.4M74.9 247.9h.4M73.1 244.1h.4M73.9 246.0h.4M75.2 246.5h.4M73.8 244.9h.4M74.8 244.6h.4M73.1 247.4h.4M74.0 246.2h.4M72.0 246.2h.4M74.4 251.2h.4M75.0 251.9h.4M74.3 250.6h.4M73.8 254.4h.4M73.7 250.9h.4M75.3 251.1h.4M72.8 253.1h.4M74.9 252.0h.4M74.7 253.3h.4M73.9 251.4h.4M71.8 257.5h.4M71.9 255.4h.4M72.3 257.6h.4M71.3 258.6h.4M72.9 257.2h.4M72.5 257.8h.4M71.3 259.1h.4M73.4 255.8h.4M75.0 256.2h.4M71.4 258.1h.4M70.1 262.9h.4M73.4 258.3h.4M71.1 258.9h.4M72.1 262.0h.4M69.9 262.1h.4M71.4 261.7h.4M71.6 261.2h.4M70.9 261.2h.4M71.5 260.4h.4M71.1 259.9h.4M72.5 265.5h.4M69.5 262.8h.4M70.0 264.2h.4M69.7 261.9h.4M69.5 263.3h.4M69.1 262.8h.4M71.8 265.1h.4M71.0 266.6h.4M69.7 266.7h.4M71.3 264.1h.4M71.8 271.0h.4M71.6 270.5h.4M72.2 269.6h.4M72.6 271.4h.4M70.4 268.3h.4M71.2 266.9h.4M71.4 271.0h.4M69.2 267.3h.4M70.9 266.9h.4M71.7 270.9h.4M73.3 278.4h.4M72.4 276.3h.4M73.1 274.7h.4M72.7 277.7h.4M73.3 277.8h.4M73.2 276.0h.4M73.2 276.0h.4M74.1 276.6h.4M74.1 274.8h.4M72.2 273.8h.4M73.4 281.1h.4M72.2 277.4h.4M72.8 279.9h.4M72.8 279.9h.4M71.5 282.4h.4M72.6 280.2h.4M72.4 279.9h.4M74.1 282.7h.4M73.5 279.5h.4M72.6 277.3h.4M70.0 285.8h.4M70.5 285.2h.4M71.4 282.9h.4M73.0 284.0h.4M71.5 283.3h.4M71.8 282.9h.4M70.1 281.7h.4M71.7 285.7h.4M71.7 284.6h.4M72.2 284.8h.4M67.0 289.1h.4M66.6 288.7h.4M70.3 287.1h.4M68.5 289.6h.4M67.9 288.8h.4M66.5 289.5h.4M69.4 288.4h.4M69.4 288.1h.4M69.3 287.7h.4M68.2 288.5h.4M61.5 290.2h.4M60.8 290.0h.4M59.1 289.9h.4M66.3 290.2h.4M61.9 290.5h.4M62.3 291.0h.4M60.4 290.2h.4M61.7 289.1h.4M59.0 290.7h.4M65.6 290.6h.4M57.2 290.3h.4M56.9 290.4h.4M57.6 290.3h.4M55.5 289.2h.4M59.1 288.6h.4M58.6 291.0h.4M56.7 291.8h.4M57.4 288.1h.4M55.9 289.5h.4M57.4 291.5h.4M51.8 290.7h.4M53.8 288.8h.4M50.0 290.8h.4M52.2 288.2h.4M52.8 289.7h.4M52.9 288.6h.4M53.2 288.8h.4M51.9 288.4h.4M51.2 287.5h.4M52.4 289.0h.4M50.6 289.6h.4M49.9 288.6h.4M48.7 285.6h.4M51.4 287.3h.4M49.6 287.6h.4M50.0 287.4h.4M50.7 288.8h.4M51.3 288.3h.4M49.7 288.2h.4M50.1 288.8h.4M47.9 281.9h.4M47.1 278.9h.4M48.8 282.1h.4M48.9 283.2h.4M48.8 282.5h.4M48.9 285.5h.4M47.0 280.8h.4M47.8 283.3h.4M46.5 279.5h.4M46.8 280.2h.4M46.2 274.6h.4M47.8 277.6h.4M47.1 272.6h.4M46.6 277.2h.4M47.5 272.4h.4M48.8 273.6h.4M46.3 273.7h.4M47.7 273.2h.4M46.4 275.0h.4M48.1 274.9h.4M47.7 267.3h.4M47.0 268.4h.4M46.8 270.2h.4M47.2 268.6h.4M45.6 270.3h.4M46.6 266.7h.4M44.9 265.8h.4M47.3 268.5h.4M46.3 271.3h.4M47.1 266.5h.4M45.7 259.8h.4M46.4 260.3h.4M44.8 262.7h.4M45.5 264.0h.4M46.5 264.3h.4M44.0 262.4h.4M47.2 265.0h.4M46.3 265.4h.4M46.7 262.1h.4M44.6 263.8h.4M44.2 260.4h.4M42.6 253.7h.4M43.2 253.3h.4M45.6 258.0h.4M45.1 257.4h.4M42.8 254.8h.4M44.6 259.7h.4M43.9 256.2h.4M43.5 257.1h.4M44.0 258.4h.4M43.2 254.8h.4M42.8 248.9h.4M43.2 251.3h.4M44.5 249.9h.4M41.4 253.7h.4M43.5 253.6h.4M42.1 252.8h.4M41.6 247.9h.4M43.1 250.6h.4M42.9 254.0h.4M41.5 246.4h.4M42.7 242.8h.4M43.4 240.9h.4M41.8 246.0h.4M42.5 244.7h.4M40.9 242.1h.4M43.4 240.4h.4M41.3 244.4h.4M41.5 246.7h.4M41.4 246.1h.4" stroke="#000" stroke-width="0.6" stroke-linecap="square" fill="none" opacity="0.9"/>
<path d="M45,243 C50,239 60,238.5 67,241 C71,243 72.5,247.5 71.5,252 C70.5,255.5 69,258.5 68.5,262" fill="none" stroke="#666" stroke-width="0.55" opacity="1"/>
<path d="M47,246 C52,241.5 61,241 66,243.5 C69.5,246 69.5,251 67,255 C64,258.5 58,259.5 53,257.5 C49,255.5 46.5,251 47,246Z" fill="none" stroke="#777" stroke-width="0.5" opacity="1"/>
<path d="M50,247.5 C54,244 61,244 64,246.5 C66.5,249 65,253 60.5,254.5 C55.5,255 50.5,252.5 50,247.5Z" fill="none" stroke="#777" stroke-width="0.5" opacity="1"/>
<path d="M53.5,248.5 C56,247 60,247 61.5,248.5 C62,250.5 60,251.5 57.5,251.5 C55,251.5 53.5,250.5 53.5,248.5Z" fill="none" stroke="#888" stroke-width="0.45" opacity="1"/>
<path d="M49.5,266 C50,272 50.5,278 51.5,283 M69,266 C68.5,272 69,278 68.5,283" fill="none" stroke="#666" stroke-width="0.55" opacity="1"/>
<path d="M53,268 C54,274 54,279 55,282 M66,268 C65.5,274 65.5,279 65,282" fill="none" stroke="#888" stroke-width="0.5" opacity="1"/>
<path d="M45,262 C50,262.5 55,263 60,263 C64,263 68,262.5 70,262" fill="none" stroke="#999" stroke-width="0.4" opacity="1"/>
<ellipse cx="60" cy="284.6" rx="8.5" ry="3.0" fill="#b0b0b0" stroke="#111" stroke-width="1.3" opacity="1" transform="rotate(0 60 284.6)"/>
<ellipse cx="60" cy="284.6" rx="5.0" ry="1.5" fill="#e0e0e0" stroke="#333" stroke-width="0.7" opacity="1" transform="rotate(0 60 284.6)"/>
<path d="M103.5,262 C101,264 101,272 103.5,275" fill="none" stroke="#fff" stroke-width="2.2" opacity="1"/>
</g>
<rect x="36.9" y="231.5" width="42.3" height="34.2" fill="none" stroke="#1f8440" stroke-width="1.3"/>
<rect x="36.9" y="270.3" width="45.4" height="23.1" fill="none" stroke="#2b2aa8" stroke-width="1.3"/>
<rect x="82.2" y="232.2" width="17.2" height="8" fill="#fff"/>
<text x="83.00" y="238.80" font-size="8" font-weight="bold" text-anchor="start" fill="#1f8440" stroke="#1f8440" stroke-width="0.22">47.8</text>
<rect x="83.3" y="282.4" width="17.2" height="8" fill="#fff"/>
<text x="84.10" y="289.00" font-size="8" font-weight="bold" text-anchor="start" fill="#2b2aa8" stroke="#2b2aa8" stroke-width="0.22">35.3</text>
<g clip-path="url(#c02)">
<path d="M64.7 332.0h.4M53.2 330.1h.4M49.3 328.3h.4M77.2 328.1h.4M64.9 327.4h.4M79.3 326.3h.4M64.0 327.8h.4M59.8 328.8h.4M72.8 329.5h.4M69.7 328.8h.4M45.1 330.2h.4M75.4 328.9h.4M66.7 327.9h.4M40.8 329.7h.4M49.1 331.1h.4M65.5 328.2h.4M50.4 328.4h.4M45.8 327.6h.4M76.0 327.8h.4M78.9 328.1h.4M62.3 326.8h.4M54.0 327.5h.4M41.4 331.1h.4M64.3 328.1h.4M44.8 328.3h.4M45.3 326.7h.4M55.3 331.5h.4M37.3 329.1h.4M51.1 323.8h.4M41.1 328.0h.4M58.2 327.1h.4M78.1 329.0h.4M50.1 325.7h.4M59.5 327.2h.4M69.4 326.6h.4M71.4 327.5h.4M59.7 327.8h.4M64.7 330.0h.4M51.1 326.8h.4M79.5 329.7h.4M79.6 329.7h.4M59.0 330.7h.4M49.7 327.6h.4M52.8 329.2h.4M47.5 327.9h.4M47.6 327.8h.4M70.5 329.9h.4M54.9 332.1h.4M49.3 328.9h.4M51.9 324.8h.4M43.6 330.1h.4M38.2 332.7h.4M56.0 328.6h.4M72.0 328.2h.4M50.0 327.3h.4M46.4 329.0h.4M51.9 329.0h.4M39.9 327.5h.4M81.4 328.8h.4M56.2 330.0h.4M60.6 330.5h.4M43.8 329.4h.4M45.0 329.2h.4M47.4 328.8h.4M62.7 327.1h.4M60.2 326.6h.4M68.7 329.6h.4M55.5 329.3h.4M35.6 328.7h.4M52.1 327.0h.4M67.9 329.7h.4M64.3 330.7h.4M50.0 327.6h.4M62.3 324.1h.4M54.9 328.3h.4M46.1 328.6h.4M69.7 327.2h.4M63.9 328.0h.4M55.5 328.4h.4M74.9 329.0h.4M65.3 328.4h.4M57.1 328.4h.4M51.4 325.8h.4M74.7 331.0h.4M75.7 325.4h.4M63.7 326.4h.4M55.1 327.4h.4M50.1 327.0h.4M51.7 329.4h.4M76.1 329.6h.4M57.1 328.0h.4M54.4 328.2h.4M50.0 327.9h.4M67.2 327.9h.4M47.7 328.0h.4M58.3 328.1h.4M54.2 329.3h.4M56.7 326.7h.4M63.9 327.1h.4M66.3 329.5h.4M62.9 328.7h.4M41.5 327.9h.4M58.7 329.2h.4M44.1 328.0h.4M39.2 328.5h.4M58.2 328.4h.4M76.6 329.3h.4M55.0 327.3h.4M52.0 329.4h.4M68.0 327.4h.4M55.9 327.5h.4M65.3 328.5h.4M48.8 326.8h.4M72.5 326.1h.4M35.9 323.5h.4M81.1 327.4h.4M67.3 329.1h.4M67.1 329.9h.4M51.7 328.2h.4M68.8 329.1h.4M48.3 327.0h.4M40.2 328.6h.4M51.0 325.8h.4M50.7 328.7h.4M59.4 327.9h.4M59.1 329.2h.4M43.1 327.0h.4M68.7 329.3h.4M40.7 327.1h.4M74.3 329.4h.4M55.5 329.8h.4M73.4 330.4h.4M40.8 326.2h.4M51.2 328.1h.4M53.0 328.6h.4M74.7 329.9h.4M68.9 328.2h.4M76.7 328.9h.4M60.1 328.2h.4M35.5 331.5h.4M56.9 329.6h.4M43.5 329.8h.4M60.1 326.8h.4M68.6 328.2h.4M46.0 324.3h.4M45.5 328.8h.4M45.0 329.7h.4M59.9 328.1h.4M67.4 328.3h.4M69.5 330.4h.4M67.3 326.7h.4M65.1 327.8h.4M60.9 329.7h.4M49.4 328.5h.4M74.6 326.9h.4M55.0 329.3h.4M54.5 329.8h.4M45.3 325.9h.4M61.7 328.0h.4M60.9 329.7h.4M69.7 327.7h.4M52.6 325.2h.4M45.7 328.6h.4M59.8 325.9h.4M66.5 328.1h.4M70.3 327.7h.4M68.7 326.5h.4M35.3 327.0h.4M65.5 328.8h.4M65.2 330.8h.4M66.5 329.0h.4M38.5 328.8h.4M52.8 326.7h.4M45.2 328.0h.4M64.1 327.2h.4M60.8 329.3h.4M56.9 331.1h.4M53.5 327.1h.4M65.3 327.9h.4M60.9 328.0h.4M67.6 328.2h.4M59.9 328.1h.4M46.7 324.8h.4M63.7 326.3h.4M61.9 329.2h.4M79.6 327.1h.4M59.0 329.6h.4M49.3 327.3h.4M62.5 331.3h.4M70.0 329.7h.4M45.8 329.2h.4M70.7 326.3h.4M57.3 327.9h.4M64.9 325.6h.4M65.6 328.2h.4M54.0 325.0h.4M64.9 328.8h.4M66.1 325.6h.4M59.6 330.2h.4M38.8 329.2h.4M48.6 329.0h.4M58.4 325.7h.4M44.7 330.1h.4M55.9 330.1h.4M61.2 329.6h.4M52.5 328.5h.4M52.8 329.6h.4M50.4 329.9h.4M75.9 326.4h.4M55.2 329.0h.4M78.3 329.9h.4M58.2 325.6h.4M67.2 327.3h.4M59.5 328.8h.4M40.4 329.8h.4M68.1 329.1h.4M64.3 328.7h.4M40.6 327.4h.4M66.9 327.7h.4M57.5 328.8h.4M58.2 328.6h.4M62.9 328.2h.4M44.1 327.8h.4M68.5 327.2h.4M62.8 328.7h.4M46.7 323.9h.4M57.0 327.0h.4M49.7 329.6h.4M48.1 328.7h.4M58.6 328.5h.4M80.8 325.2h.4M68.6 328.0h.4M53.9 327.2h.4M57.6 328.3h.4M46.3 330.7h.4M48.4 328.0h.4M42.1 328.4h.4M61.4 329.8h.4M68.8 327.4h.4M76.2 328.0h.4M75.6 330.8h.4M52.4 326.6h.4M63.6 330.4h.4M61.9 329.9h.4M64.2 329.5h.4M72.9 327.8h.4M40.4 328.0h.4M47.8 326.4h.4M55.2 329.3h.4M35.3 325.9h.4M66.6 326.9h.4M52.5 330.2h.4M70.5 328.7h.4M63.5 324.1h.4M63.7 328.8h.4M40.7 328.5h.4M62.6 328.0h.4M66.5 329.5h.4M57.8 327.8h.4M43.2 329.9h.4M50.4 328.7h.4M75.3 329.4h.4M42.1 328.1h.4M48.7 325.7h.4M47.7 329.1h.4M61.2 327.9h.4M59.2 326.4h.4M48.1 328.0h.4M66.6 327.7h.4M55.2 328.7h.4M74.5 326.3h.4M63.5 328.5h.4M56.3 328.6h.4M54.3 326.3h.4M67.1 328.0h.4M53.1 329.3h.4M46.3 327.1h.4M66.9 329.5h.4M81.0 327.5h.4M40.0 326.0h.4M43.0 328.4h.4M54.3 327.2h.4M45.2 327.2h.4M52.8 330.0h.4M64.5 330.3h.4M66.8 329.3h.4M71.0 328.9h.4M75.3 329.9h.4M78.6 328.5h.4M48.0 332.0h.4M53.8 329.0h.4M52.7 327.2h.4M62.3 326.5h.4M55.2 330.3h.4M58.6 329.4h.4M64.7 328.8h.4M58.4 329.1h.4M45.7 329.1h.4M44.4 327.1h.4M50.2 326.2h.4M63.1 329.2h.4M66.0 327.1h.4M65.5 326.5h.4M80.4 326.8h.4M52.3 329.3h.4M45.9 328.5h.4M68.7 328.4h.4M68.2 327.4h.4M64.1 324.9h.4M75.0 327.2h.4M46.9 328.2h.4M77.2 327.1h.4M56.8 327.7h.4M46.1 326.2h.4M64.1 329.3h.4M48.2 328.5h.4M62.4 328.8h.4M55.1 328.3h.4M60.3 326.6h.4M55.4 329.4h.4M50.4 330.2h.4M54.2 326.5h.4M53.6 326.2h.4M64.3 325.8h.4M57.3 327.8h.4M53.5 328.8h.4M60.5 327.4h.4M66.8 327.5h.4M67.7 330.2h.4M61.5 329.6h.4M42.1 329.7h.4M41.2 324.9h.4M45.4 320.9h.4M44.5 326.2h.4M53.8 318.4h.4M46.3 313.8h.4M45.9 312.2h.4M41.1 329.1h.4M55.2 320.6h.4M52.1 320.9h.4M56.3 337.5h.4M46.2 322.9h.4M59.3 336.4h.4M49.9 330.2h.4M40.6 324.0h.4M48.3 325.0h.4M51.8 315.7h.4M43.8 340.1h.4M39.8 326.4h.4M54.3 329.2h.4M50.3 315.4h.4M47.2 315.7h.4M61.6 328.4h.4M54.3 327.3h.4M47.7 333.8h.4M55.2 330.2h.4M53.5 330.9h.4M48.4 328.8h.4M50.5 324.4h.4M53.8 340.1h.4M38.0 335.5h.4M47.4 333.9h.4M44.0 324.8h.4M56.1 325.5h.4M52.1 318.0h.4M43.2 337.0h.4M50.9 325.4h.4M41.8 319.2h.4M43.9 325.7h.4M49.3 322.0h.4M46.0 326.7h.4M56.9 316.8h.4M41.6 333.4h.4M41.6 323.3h.4M50.7 338.0h.4M70.9 344.7h.4M88.5 340.5h.4M88.0 357.6h.4M67.6 354.1h.4M71.9 340.9h.4M74.0 355.6h.4M83.7 344.1h.4M85.2 356.5h.4M68.7 358.1h.4M79.7 351.4h.4M91.3 339.2h.4M77.9 353.6h.4M62.5 344.4h.4M80.4 346.0h.4M79.2 357.3h.4M65.9 353.9h.4M71.6 335.4h.4M77.7 336.7h.4M77.6 337.9h.4M77.1 337.0h.4M77.1 350.5h.4M84.9 336.8h.4M90.8 343.8h.4M64.8 345.5h.4M83.2 343.5h.4M86.8 342.0h.4M89.7 360.0h.4M89.8 334.8h.4M76.3 348.4h.4M75.0 338.4h.4M82.0 336.5h.4M67.7 345.1h.4M94.8 352.5h.4M84.0 359.5h.4M81.8 354.4h.4M78.1 356.1h.4M83.8 335.1h.4M87.7 345.5h.4M66.6 357.4h.4M70.4 359.1h.4M75.1 349.2h.4M77.1 355.1h.4M74.1 347.9h.4M69.8 342.8h.4M65.8 340.6h.4M71.5 353.0h.4M66.9 337.5h.4M95.1 351.6h.4M64.9 358.1h.4M87.8 350.7h.4M94.7 348.5h.4M66.7 333.3h.4M65.1 346.4h.4M80.8 357.2h.4M64.4 335.1h.4M65.2 343.5h.4M93.8 355.6h.4M63.5 350.1h.4M68.2 339.5h.4M72.9 340.2h.4M72.1 339.5h.4M73.7 350.1h.4M81.1 354.1h.4M71.5 333.8h.4M81.4 342.1h.4M69.1 344.9h.4M94.2 350.4h.4M86.4 334.3h.4M80.5 353.3h.4M91.4 355.1h.4M62.6 355.3h.4M78.0 359.9h.4M94.2 354.7h.4M64.8 351.8h.4M66.0 345.3h.4M66.4 341.7h.4M63.8 348.6h.4M65.1 340.1h.4M88.4 341.5h.4M81.7 358.1h.4M83.6 356.7h.4M93.7 340.1h.4M93.2 342.3h.4M93.5 335.5h.4M69.7 358.0h.4M65.5 358.0h.4M69.6 355.3h.4M66.3 347.5h.4M81.5 349.2h.4M91.3 334.0h.4M86.1 357.7h.4M79.7 339.8h.4M89.1 345.5h.4M70.9 355.4h.4M88.0 356.9h.4M62.8 349.0h.4M63.2 351.0h.4M66.5 355.5h.4M62.7 353.0h.4M78.1 348.0h.4M90.9 341.2h.4M95.0 341.6h.4M63.3 341.1h.4M74.5 350.3h.4M64.3 359.2h.4M88.4 354.6h.4M85.3 357.8h.4M68.1 344.9h.4M68.8 359.8h.4M78.0 357.1h.4M70.6 350.5h.4M87.4 342.9h.4M71.1 335.5h.4M83.4 344.9h.4M68.8 342.3h.4M72.9 336.6h.4M82.2 337.5h.4M69.4 343.5h.4M95.6 353.6h.4M69.2 357.5h.4M93.9 342.6h.4M89.1 351.3h.4M80.8 359.2h.4M84.8 351.8h.4M93.9 346.2h.4M65.6 333.2h.4M86.6 346.6h.4M91.8 361.2h.4M70.7 338.8h.4M81.5 333.6h.4M65.4 335.1h.4M72.1 345.8h.4M68.7 352.9h.4M87.8 357.1h.4M80.6 354.9h.4M89.1 354.1h.4M72.8 349.7h.4M90.0 340.2h.4M82.4 336.3h.4M77.1 338.4h.4M65.9 358.7h.4M73.2 360.8h.4M87.1 350.0h.4M78.5 351.8h.4M89.6 338.5h.4M80.4 340.8h.4M68.4 339.3h.4M88.8 360.1h.4M76.7 338.1h.4M68.0 341.9h.4M74.6 358.6h.4M79.9 347.2h.4M83.3 338.1h.4M74.6 345.8h.4M64.2 341.9h.4M81.4 350.5h.4M71.0 335.1h.4M81.4 337.5h.4M62.1 360.9h.4M86.9 360.2h.4M72.8 355.3h.4M91.0 351.2h.4M63.1 341.0h.4M74.7 345.7h.4M81.5 338.4h.4M69.5 333.6h.4M75.7 336.4h.4M69.9 333.5h.4M90.7 339.6h.4M79.3 349.8h.4M63.4 348.8h.4M89.3 339.9h.4M83.5 354.0h.4M81.1 343.4h.4M79.4 352.4h.4M76.9 354.4h.4M87.5 354.8h.4M76.8 337.2h.4M67.9 341.6h.4M81.1 334.7h.4M72.6 337.3h.4M80.2 338.8h.4M90.0 334.8h.4M74.1 354.7h.4M90.4 344.4h.4M94.1 358.5h.4M81.1 342.6h.4M68.6 353.0h.4M64.0 351.8h.4M69.8 338.4h.4M82.9 344.3h.4M63.9 337.3h.4M88.9 344.3h.4M88.5 350.9h.4M62.1 342.9h.4M82.4 340.1h.4M73.0 352.1h.4M69.7 333.9h.4M84.1 353.1h.4M90.4 336.2h.4M68.0 346.8h.4M71.5 336.7h.4M66.8 334.3h.4M76.6 336.9h.4M63.0 335.8h.4M85.9 351.7h.4M73.7 356.3h.4M63.5 345.1h.4M93.7 334.5h.4M67.1 346.9h.4M73.9 335.0h.4M90.5 355.9h.4M81.9 345.1h.4M80.9 347.5h.4M81.3 342.3h.4M89.7 348.1h.4M70.0 350.0h.4M88.4 347.5h.4M73.0 348.8h.4M85.5 338.3h.4M92.1 344.9h.4M76.2 348.1h.4M87.8 338.0h.4M68.2 347.2h.4M62.5 345.6h.4M66.4 338.8h.4M74.4 359.0h.4M82.8 341.1h.4M83.7 347.8h.4M62.1 345.8h.4M91.8 355.8h.4M89.2 344.3h.4M88.2 356.1h.4M88.1 348.7h.4M92.6 357.5h.4M90.2 348.2h.4M83.4 344.2h.4M84.7 354.9h.4M91.4 337.7h.4M90.1 357.6h.4M93.9 344.2h.4M87.1 348.3h.4M87.9 360.3h.4M93.9 358.1h.4M96.0 336.8h.4M95.2 343.8h.4M85.7 350.2h.4M87.6 339.6h.4M95.6 338.9h.4M83.2 344.6h.4M93.5 355.7h.4M88.4 344.9h.4M84.0 355.5h.4M92.6 339.9h.4M91.4 358.1h.4M87.0 340.2h.4M92.4 350.8h.4M86.5 353.0h.4M84.6 347.0h.4M92.8 343.4h.4M83.8 352.2h.4M91.6 350.4h.4M94.7 344.0h.4M89.1 346.2h.4M94.0 342.9h.4M85.4 343.9h.4M93.5 354.1h.4M84.6 356.1h.4M95.8 343.1h.4M93.1 352.7h.4M90.6 340.3h.4M82.0 357.4h.4M86.6 356.2h.4M94.0 357.1h.4M92.3 353.6h.4M93.5 359.4h.4M94.9 357.8h.4M86.5 358.9h.4M83.3 339.0h.4M94.1 348.8h.4M95.4 342.9h.4M82.9 338.0h.4M94.4 355.8h.4M88.0 351.7h.4M82.5 359.3h.4M86.0 339.4h.4M88.8 346.9h.4M88.8 353.4h.4M84.6 355.5h.4M86.6 344.8h.4M94.6 354.0h.4M92.2 355.4h.4M87.9 343.4h.4M89.3 356.9h.4M84.4 352.9h.4M88.6 359.5h.4M91.9 358.9h.4M87.8 346.5h.4M85.5 339.6h.4M86.4 339.8h.4M90.8 349.4h.4M92.3 354.3h.4M95.6 348.2h.4M90.6 348.3h.4M88.7 343.2h.4M86.3 343.0h.4M89.1 346.0h.4M89.7 352.1h.4M95.8 349.7h.4M95.9 342.5h.4M90.5 349.7h.4M88.3 346.4h.4M83.0 355.8h.4M88.7 343.4h.4M86.3 359.5h.4M86.7 349.6h.4M87.8 351.9h.4M89.8 348.4h.4M83.5 334.7h.4M89.3 341.5h.4M92.4 342.8h.4M82.7 338.3h.4M86.6 351.4h.4M91.9 356.5h.4M95.4 349.0h.4M82.6 352.0h.4M87.0 350.4h.4M84.4 344.7h.4M85.4 352.3h.4M95.3 343.9h.4M89.1 351.2h.4M92.7 343.7h.4M85.8 351.7h.4M86.3 347.4h.4M90.8 349.0h.4M95.6 343.4h.4M85.0 345.0h.4M94.6 357.1h.4M82.8 338.7h.4M85.3 355.0h.4M64.1 362.8h.4M77.0 361.6h.4M74.6 362.5h.4M73.9 362.7h.4M77.0 363.1h.4M56.0 363.8h.4M81.2 361.9h.4M46.1 363.1h.4M61.7 364.5h.4M95.6 363.7h.4M87.1 363.0h.4M44.7 363.6h.4M38.0 364.7h.4M72.7 364.3h.4M57.2 361.9h.4M64.8 363.7h.4M64.5 362.9h.4M69.6 363.1h.4M92.2 362.2h.4M72.9 362.0h.4M67.5 363.7h.4M74.0 363.6h.4M55.3 362.1h.4M84.7 363.0h.4M44.6 364.7h.4M80.9 360.9h.4M40.5 364.1h.4M73.9 364.4h.4M68.4 361.9h.4M65.4 362.9h.4M73.2 363.1h.4M77.9 362.2h.4M58.8 362.9h.4M75.3 361.8h.4M68.2 365.4h.4M37.2 364.2h.4M69.9 364.2h.4M69.1 363.5h.4M74.5 363.7h.4M47.5 363.2h.4M53.6 362.5h.4M65.2 364.2h.4M84.0 362.8h.4M39.6 364.3h.4M93.7 363.9h.4M78.4 363.8h.4M93.1 362.3h.4M59.2 363.3h.4M67.8 363.2h.4M64.8 363.2h.4M62.3 362.1h.4M87.5 363.3h.4M74.4 363.3h.4M54.7 361.9h.4M63.2 363.8h.4M66.1 363.9h.4M54.5 363.0h.4M70.7 363.2h.4M71.2 364.5h.4M60.9 363.4h.4M56.9 363.8h.4M72.0 362.7h.4M50.7 362.3h.4M63.2 363.4h.4M59.6 363.2h.4M70.4 365.3h.4M88.5 365.3h.4M70.5 363.5h.4M79.4 362.9h.4M58.7 364.0h.4M57.8 362.7h.4M42.4 363.6h.4M66.5 363.8h.4M53.1 362.2h.4M87.2 363.3h.4M81.7 362.3h.4M45.7 361.1h.4M73.3 364.2h.4M91.0 364.8h.4M36.6 362.4h.4M59.0 362.6h.4M64.4 362.6h.4M42.7 363.3h.4M70.2 362.6h.4M68.6 362.2h.4M62.4 363.0h.4M60.2 363.2h.4M46.2 362.1h.4M53.7 363.9h.4M51.6 362.5h.4M61.4 362.5h.4M93.5 363.8h.4M72.6 364.7h.4M47.4 361.8h.4M87.2 363.7h.4M59.2 364.0h.4M66.4 365.0h.4M46.1 363.6h.4M85.0 364.1h.4M61.8 363.0h.4M60.5 363.9h.4M61.1 363.2h.4M85.8 363.2h.4M72.3 363.2h.4M68.2 361.4h.4M51.8 363.6h.4M57.0 362.8h.4M68.9 365.3h.4M54.9 362.5h.4M37.0 363.7h.4M67.0 362.6h.4M60.9 364.2h.4M85.6 363.6h.4M88.0 364.2h.4M60.1 364.0h.4M70.7 364.0h.4M72.8 365.2h.4M46.3 363.6h.4M49.3 365.3h.4M59.1 363.0h.4M67.6 363.3h.4M72.3 364.2h.4M94.1 362.5h.4M73.3 362.1h.4M76.5 364.5h.4M58.9 363.1h.4M88.6 363.7h.4M81.9 362.9h.4M62.5 363.0h.4M95.1 362.0h.4M59.0 364.7h.4M66.8 362.3h.4M72.1 363.1h.4M65.9 363.7h.4M81.7 362.0h.4M71.5 364.6h.4M44.8 363.2h.4M47.9 363.9h.4M53.3 363.0h.4M60.8 363.7h.4M45.3 362.1h.4M71.2 364.5h.4M59.2 363.7h.4M72.6 363.4h.4M67.6 362.8h.4M63.7 364.4h.4M75.7 364.4h.4M55.4 363.4h.4M56.8 362.1h.4M83.5 363.1h.4M72.1 362.1h.4M63.6 363.2h.4M61.2 364.2h.4M75.9 363.4h.4M71.9 362.9h.4M55.7 363.1h.4M50.3 363.2h.4M66.0 364.3h.4M60.4 365.4h.4M58.9 363.4h.4M67.5 362.8h.4M66.8 361.7h.4M87.3 362.8h.4M67.4 361.7h.4M77.7 362.2h.4M91.4 362.4h.4M55.2 363.9h.4M90.0 361.6h.4M38.7 364.7h.4M75.6 362.0h.4M60.4 363.9h.4M61.2 364.6h.4M55.6 363.4h.4M87.9 364.6h.4M72.0 363.8h.4M62.1 363.2h.4M58.0 363.6h.4M82.5 362.4h.4M47.8 363.3h.4M70.2 363.3h.4M39.0 362.7h.4M93.9 361.4h.4M93.8 363.2h.4M78.1 362.8h.4M60.1 363.5h.4M62.5 362.3h.4M63.1 363.9h.4M54.6 363.6h.4M44.6 363.4h.4M48.0 364.0h.4M49.9 363.8h.4M86.8 362.6h.4M68.8 362.5h.4M76.1 364.0h.4M87.7 364.5h.4M90.3 362.7h.4M69.9 363.8h.4M71.1 362.1h.4M68.9 361.0h.4M76.9 364.0h.4M43.0 363.0h.4M76.3 363.9h.4M74.5 361.0h.4M95.4 361.9h.4M74.6 364.1h.4M51.0 361.9h.4M72.5 362.9h.4M66.2 363.1h.4M65.8 363.6h.4M58.7 363.3h.4M58.1 362.5h.4M73.9 362.6h.4M77.0 363.3h.4M86.5 363.8h.4M79.2 363.4h.4M68.5 364.3h.4M79.5 362.1h.4M69.4 364.2h.4M70.5 362.2h.4M81.3 363.8h.4M87.6 363.5h.4M69.8 364.1h.4M48.8 364.8h.4M74.7 363.5h.4M80.9 364.0h.4M65.9 362.6h.4M83.4 364.1h.4M74.4 362.7h.4M69.6 362.4h.4M82.9 364.7h.4M53.0 362.8h.4M45.0 363.4h.4M64.0 363.3h.4M68.5 362.9h.4M69.7 363.2h.4M55.4 363.0h.4M58.0 362.1h.4M67.3 361.6h.4M76.9 363.3h.4M70.6 364.3h.4M84.3 362.9h.4M73.8 364.4h.4M65.1 363.6h.4M75.0 362.4h.4M72.6 362.9h.4M63.3 363.7h.4M79.1 362.5h.4M63.4 363.1h.4M51.4 363.6h.4M64.3 362.7h.4M84.0 363.2h.4M47.8 363.2h.4M64.6 363.6h.4M92.6 363.1h.4M75.9 363.7h.4M66.0 363.5h.4M60.0 363.9h.4M52.2 364.8h.4M65.6 363.6h.4M70.3 361.9h.4M75.1 362.5h.4M71.2 362.9h.4M63.1 361.9h.4M45.2 362.8h.4M49.4 363.5h.4M43.7 363.5h.4M77.3 362.6h.4M51.2 363.0h.4M81.3 364.5h.4M78.4 363.5h.4M67.4 362.3h.4M61.7 364.3h.4M91.6 362.8h.4M39.9 365.0h.4M68.3 363.7h.4M64.8 361.7h.4M73.2 362.4h.4M62.8 362.7h.4M63.2 365.4h.4M93.7 361.6h.4M41.2 362.8h.4M56.3 364.0h.4M94.7 362.6h.4M77.6 363.1h.4M78.6 362.8h.4M66.1 362.9h.4M65.3 363.3h.4M57.2 363.5h.4M45.4 364.0h.4M51.3 361.6h.4M82.1 363.0h.4M58.6 364.1h.4M67.2 365.0h.4M75.1 362.0h.4M59.1 362.7h.4M62.7 364.8h.4M75.6 363.8h.4M70.6 361.3h.4M91.7 365.1h.4M58.7 363.3h.4M55.5 363.1h.4M52.8 362.3h.4M88.6 361.6h.4M85.5 362.3h.4M63.3 361.5h.4M79.0 362.4h.4M72.0 363.9h.4M51.0 362.6h.4M49.3 363.8h.4M72.9 364.2h.4M42.9 362.5h.4M65.7 362.9h.4M73.2 364.3h.4M70.0 362.6h.4M67.0 362.7h.4M56.5 365.0h.4M79.4 364.9h.4M64.1 363.2h.4M45.9 363.5h.4M80.3 363.9h.4M47.7 363.4h.4M83.7 362.9h.4M79.9 362.8h.4M67.7 362.8h.4M42.2 362.6h.4M70.7 363.0h.4M67.6 362.8h.4M83.0 363.1h.4M74.5 362.9h.4M90.3 363.2h.4M75.3 365.3h.4M75.2 361.9h.4M56.3 363.6h.4M45.1 362.0h.4M65.7 361.9h.4M86.5 363.7h.4M62.4 364.4h.4M56.1 362.2h.4M83.4 363.3h.4M63.9 364.2h.4M65.4 363.9h.4M71.6 364.3h.4M77.3 362.9h.4M93.8 363.0h.4M68.7 361.3h.4M76.8 364.5h.4M61.0 363.7h.4M64.0 364.6h.4M73.6 363.6h.4M86.8 361.9h.4M79.8 363.4h.4M90.2 363.3h.4M78.3 363.2h.4M50.8 362.8h.4M64.7 362.1h.4M67.1 362.9h.4M70.0 363.4h.4M79.8 361.9h.4M37.8 364.7h.4M53.5 362.5h.4M88.0 363.6h.4M54.0 364.0h.4M48.4 364.7h.4M62.5 363.6h.4M67.7 365.0h.4M51.4 363.2h.4M59.5 363.5h.4M64.2 363.7h.4M87.9 362.3h.4M56.7 364.5h.4M77.2 364.2h.4M56.3 362.5h.4M48.4 363.1h.4M48.2 363.9h.4M56.1 363.8h.4M40.9 364.1h.4M79.5 364.1h.4M72.6 365.4h.4M84.6 363.3h.4M95.6 363.0h.4M70.6 364.8h.4M60.0 363.3h.4M72.3 363.5h.4M63.9 364.2h.4M42.6 362.9h.4M44.1 362.2h.4M50.1 364.2h.4M70.6 363.9h.4M66.1 364.2h.4M61.0 364.5h.4M83.2 363.5h.4M42.7 362.3h.4M72.5 362.4h.4M65.1 363.2h.4M91.7 362.7h.4M70.3 362.9h.4M55.0 363.7h.4M84.7 362.0h.4M93.8 365.3h.4M70.7 363.8h.4M50.1 362.9h.4M73.3 363.2h.4M91.8 362.5h.4M63.8 363.8h.4M66.8 363.1h.4M66.0 363.7h.4M80.9 362.4h.4M52.4 362.3h.4M75.5 361.6h.4M43.8 365.1h.4M67.9 363.7h.4M64.7 363.1h.4M72.5 362.6h.4M62.1 363.2h.4M36.4 363.9h.4M71.5 363.8h.4M57.7 364.0h.4M60.0 364.0h.4M91.3 363.9h.4M43.3 363.4h.4M42.1 369.5h.4M51.5 350.5h.4M38.4 365.9h.4M42.4 360.4h.4M47.5 357.2h.4M46.7 358.1h.4M62.4 352.8h.4M54.0 360.9h.4M44.9 351.5h.4M43.2 361.4h.4M51.3 364.1h.4M52.8 358.7h.4M50.2 359.4h.4M50.4 362.0h.4M43.4 364.4h.4M62.5 357.5h.4M54.4 351.1h.4M50.8 349.5h.4M57.6 358.3h.4M58.3 364.7h.4M44.4 362.8h.4M61.9 371.1h.4M49.2 361.2h.4M45.2 361.8h.4M54.6 366.6h.4M48.9 358.4h.4M53.9 357.0h.4M36.9 355.1h.4M55.4 358.1h.4M53.3 349.1h.4M54.6 361.2h.4M62.6 362.9h.4M45.3 353.7h.4M41.4 355.2h.4M49.3 365.4h.4M62.7 358.5h.4M54.6 357.1h.4M40.1 361.2h.4M44.5 348.5h.4M43.6 366.8h.4M41.2 366.0h.4M39.6 357.6h.4M53.9 355.7h.4M42.6 358.1h.4M62.9 361.9h.4M51.6 361.4h.4M59.1 365.8h.4M48.0 352.9h.4M42.5 358.4h.4M47.8 358.1h.4M45.3 372.7h.4M44.7 366.4h.4M43.5 353.4h.4M41.1 351.6h.4M37.5 353.2h.4M48.2 362.1h.4M36.4 360.6h.4M49.2 358.0h.4M55.2 364.8h.4M47.8 365.3h.4M89.7 367.8h.4M48.9 368.8h.4M104.8 365.2h.4M58.0 366.8h.4M69.6 371.6h.4M75.7 369.9h.4M52.4 369.5h.4M88.7 367.8h.4M38.3 373.1h.4M71.9 373.1h.4M79.1 367.9h.4M49.3 372.8h.4M89.6 369.8h.4M38.3 367.5h.4M66.1 365.8h.4M69.6 368.9h.4M51.1 369.4h.4M102.7 372.3h.4M93.7 367.6h.4M53.1 369.0h.4M101.4 366.8h.4M42.1 372.1h.4M37.8 369.3h.4M104.9 369.8h.4M37.6 367.5h.4M88.8 370.7h.4M42.9 368.9h.4M70.2 366.4h.4M46.0 367.6h.4M64.6 373.0h.4M59.6 372.5h.4M38.4 368.9h.4M47.4 365.5h.4M57.0 370.8h.4M78.9 367.4h.4M87.2 370.9h.4M96.7 370.8h.4M43.2 371.6h.4M102.9 372.4h.4M82.3 366.1h.4M96.8 369.1h.4M87.3 372.8h.4M51.7 365.2h.4M101.6 372.5h.4M42.9 368.8h.4M96.2 370.2h.4M73.0 373.4h.4M39.0 368.1h.4M47.8 373.1h.4M77.3 367.2h.4M96.9 372.7h.4M70.3 373.0h.4M51.9 370.8h.4M105.5 366.9h.4M85.5 372.0h.4M96.7 367.2h.4M63.5 366.0h.4M71.9 372.2h.4M57.5 372.4h.4M55.3 368.9h.4M82.7 371.8h.4M102.0 368.0h.4M64.0 371.4h.4M91.9 371.6h.4M55.5 372.3h.4M89.7 370.0h.4M60.1 371.1h.4M41.8 371.2h.4M65.9 371.4h.4M77.6 368.0h.4M58.9 369.2h.4M46.3 367.2h.4M81.0 366.6h.4M100.4 369.4h.4M59.1 366.5h.4M56.1 368.3h.4M46.4 367.6h.4M103.5 372.9h.4M100.0 373.0h.4M85.5 373.1h.4M81.2 368.4h.4M48.7 370.5h.4M103.6 372.9h.4M104.2 368.7h.4M84.2 373.4h.4M86.8 372.2h.4M97.0 369.7h.4M97.3 368.0h.4M94.0 368.6h.4M51.9 371.9h.4M91.7 370.3h.4M69.5 367.2h.4M95.1 370.6h.4M83.2 371.9h.4M38.8 371.7h.4M95.9 366.2h.4M40.3 372.3h.4M55.1 369.5h.4M101.2 366.6h.4M71.1 365.5h.4M97.2 372.2h.4M67.1 371.7h.4M47.4 371.8h.4M92.8 371.1h.4M39.3 367.5h.4M82.7 372.0h.4M71.0 370.8h.4M68.4 369.9h.4M56.6 366.7h.4M97.1 369.6h.4M59.2 367.5h.4M60.3 369.4h.4M47.9 368.8h.4M61.2 368.3h.4M62.3 365.4h.4M98.0 367.5h.4M88.6 372.9h.4M63.3 367.9h.4M83.7 372.9h.4M73.8 370.4h.4M65.0 310.6h.4M80.9 317.7h.4M77.6 319.5h.4M98.6 309.2h.4M84.2 306.1h.4M74.7 316.1h.4M98.1 308.0h.4M96.8 317.9h.4M97.9 305.4h.4M83.8 307.0h.4M95.6 318.2h.4M101.2 312.2h.4M70.0 320.3h.4M75.6 322.1h.4M72.8 321.9h.4M76.2 316.4h.4M74.5 317.0h.4M62.7 311.6h.4M76.3 316.4h.4M96.9 314.4h.4M103.8 307.2h.4M93.7 312.3h.4M69.8 311.0h.4M77.2 314.2h.4M82.5 320.6h.4M96.5 312.4h.4M95.4 316.5h.4M61.6 321.4h.4M100.7 317.4h.4M105.1 316.2h.4M62.5 314.8h.4M69.3 313.8h.4M87.7 308.6h.4M63.0 314.4h.4M91.3 315.0h.4M98.2 328.6h.4M83.3 330.2h.4M95.3 335.5h.4M94.0 321.8h.4M85.8 331.2h.4M88.8 328.8h.4M91.5 333.1h.4M94.3 328.5h.4M87.7 331.9h.4M87.4 330.2h.4M94.9 331.1h.4M97.3 329.8h.4M105.3 331.2h.4M87.0 326.4h.4M87.4 332.8h.4M84.7 333.5h.4M94.9 327.3h.4M85.4 328.7h.4M97.1 328.8h.4M96.8 329.5h.4M101.1 327.6h.4M91.2 325.8h.4M89.9 326.2h.4M82.0 328.4h.4M96.6 322.6h.4M83.6 325.0h.4M94.5 330.6h.4M94.2 328.5h.4M86.9 329.5h.4M86.3 328.3h.4M94.7 328.3h.4M100.0 322.8h.4M81.5 331.8h.4M88.3 327.7h.4M88.4 328.8h.4M91.0 330.0h.4M98.2 334.3h.4M78.0 328.7h.4M86.2 329.6h.4M85.4 329.2h.4M93.9 328.9h.4M93.6 330.9h.4M85.1 328.9h.4M99.0 331.6h.4M98.5 326.6h.4M87.7 331.8h.4M92.1 329.8h.4M89.7 331.6h.4M93.2 326.2h.4M94.5 328.0h.4M90.3 330.6h.4M93.0 327.4h.4M84.3 327.7h.4M91.1 325.6h.4M87.9 335.6h.4M87.8 329.2h.4M83.9 328.1h.4M93.7 329.5h.4M80.9 329.1h.4M85.6 332.1h.4M91.4 333.5h.4M94.4 325.7h.4M98.3 327.6h.4M91.3 329.3h.4M83.5 332.3h.4M93.0 326.1h.4M83.0 330.3h.4M100.0 330.1h.4M94.1 327.8h.4M99.2 330.5h.4M86.8 327.3h.4M77.8 332.3h.4M94.9 331.2h.4M90.6 335.1h.4M85.4 326.6h.4M102.7 331.6h.4M97.0 328.7h.4M91.7 329.4h.4M94.8 327.3h.4M98.9 334.0h.4M88.5 326.3h.4M92.8 336.0h.4M85.7 332.8h.4M87.6 326.9h.4M99.2 328.5h.4M91.7 331.0h.4M99.5 329.7h.4M102.3 327.1h.4M88.6 330.9h.4M96.3 324.1h.4M90.0 331.0h.4M91.0 334.1h.4M81.6 329.6h.4M86.5 324.5h.4M90.5 328.8h.4M89.3 327.2h.4M97.7 326.1h.4M87.9 325.1h.4M99.7 324.9h.4M103.4 326.4h.4M91.7 333.6h.4M85.0 332.8h.4M83.4 327.7h.4M95.7 330.0h.4M94.2 329.9h.4M102.4 324.5h.4M87.5 331.5h.4M82.3 327.1h.4M95.4 329.3h.4M90.9 326.5h.4M86.3 326.3h.4M83.6 329.4h.4M94.8 326.4h.4M92.9 325.3h.4M94.5 328.1h.4M91.6 329.6h.4M100.6 329.6h.4M87.7 329.5h.4M94.6 330.6h.4M99.0 326.7h.4M84.1 330.8h.4M84.6 330.3h.4M82.3 326.7h.4M94.6 328.2h.4M96.6 329.7h.4M94.2 330.6h.4M81.7 332.3h.4M82.6 326.5h.4M76.1 329.1h.4M94.7 328.0h.4M84.1 322.9h.4M95.7 325.8h.4M89.6 329.7h.4M91.6 330.2h.4M103.0 331.1h.4M85.3 328.9h.4M90.5 326.6h.4M96.4 328.0h.4M93.6 330.9h.4M105.9 327.3h.4M96.8 335.1h.4M102.6 329.9h.4M87.1 329.5h.4M87.9 327.9h.4M80.6 328.2h.4M78.7 331.9h.4M95.5 327.9h.4M92.3 329.4h.4M90.3 329.9h.4M90.9 330.3h.4M86.6 329.3h.4M103.2 326.8h.4M86.7 331.7h.4M94.1 329.5h.4M93.3 327.9h.4M88.5 330.5h.4M93.2 330.9h.4M95.0 335.4h.4M92.6 333.1h.4M93.1 335.5h.4M98.6 326.9h.4M102.6 327.5h.4M98.8 326.9h.4M94.4 329.5h.4M101.6 323.0h.4M79.2 331.9h.4M97.1 327.6h.4M92.7 324.1h.4M89.5 327.2h.4M98.0 329.8h.4M91.0 332.4h.4M87.7 331.3h.4M90.5 330.4h.4M90.1 333.1h.4M89.1 334.8h.4M97.4 326.8h.4M89.1 332.9h.4M101.9 325.7h.4M93.2 330.9h.4M90.7 331.8h.4M92.6 326.7h.4M91.8 328.5h.4M90.6 329.4h.4M94.5 326.9h.4M96.6 324.7h.4M96.5 330.5h.4M94.9 324.9h.4M88.7 329.7h.4M95.2 331.3h.4M81.8 329.2h.4M99.3 325.9h.4M83.9 327.8h.4M90.3 328.4h.4M100.4 329.9h.4M79.3 331.4h.4M92.7 331.6h.4M91.9 333.1h.4M93.0 327.8h.4M84.0 331.8h.4M91.1 324.2h.4M97.7 332.8h.4M78.1 330.8h.4M96.5 334.0h.4M100.3 327.1h.4M95.1 331.3h.4M82.2 333.3h.4M95.4 331.6h.4M86.1 331.5h.4M91.8 328.3h.4M92.3 330.2h.4M81.9 329.2h.4M94.5 324.6h.4M103.5 336.5h.4M96.6 329.2h.4M85.1 326.1h.4M83.8 331.7h.4M86.2 329.7h.4M89.1 331.7h.4M100.6 331.8h.4M96.5 332.2h.4M103.5 326.7h.4M93.8 327.4h.4M92.4 328.6h.4M92.8 331.2h.4M83.3 321.9h.4M93.9 332.2h.4M89.4 333.4h.4M90.6 330.7h.4M97.2 325.0h.4M95.4 323.4h.4M84.9 329.8h.4M94.2 325.8h.4M92.4 332.9h.4M81.0 330.8h.4M100.6 325.4h.4M100.1 330.5h.4M90.0 329.3h.4M91.8 329.3h.4M90.7 327.1h.4M98.1 334.0h.4M90.8 333.2h.4M86.9 325.6h.4M96.3 329.9h.4M95.1 326.5h.4M89.4 332.1h.4M102.8 330.0h.4M94.6 321.8h.4M87.7 332.9h.4M104.8 326.9h.4M75.0 330.7h.4M83.3 328.0h.4M88.0 328.2h.4M85.6 331.1h.4M94.1 325.5h.4M81.4 335.1h.4M95.8 329.8h.4M80.7 335.4h.4M85.1 329.6h.4M94.3 327.2h.4M92.9 327.9h.4M78.2 325.3h.4M87.8 327.7h.4M94.9 333.9h.4M90.4 335.4h.4M89.1 329.6h.4M90.5 324.5h.4M91.5 328.6h.4M86.4 331.4h.4M94.7 328.4h.4M86.1 330.1h.4M86.6 326.8h.4M88.6 331.9h.4M90.1 328.8h.4M89.7 330.9h.4M90.9 331.6h.4M90.9 331.6h.4M90.0 327.1h.4M94.7 328.7h.4M88.9 333.3h.4M88.6 327.0h.4M89.7 333.3h.4M83.0 332.6h.4M95.4 328.1h.4M89.6 327.2h.4M78.4 326.6h.4M82.5 324.7h.4M88.9 330.9h.4M85.6 328.3h.4M86.7 328.7h.4M94.5 332.7h.4M95.8 330.3h.4M101.0 331.3h.4M95.1 330.9h.4M97.3 326.3h.4M85.9 329.5h.4M79.9 328.5h.4M89.6 330.2h.4M96.4 333.0h.4M76.0 329.9h.4M94.0 333.4h.4M87.6 330.5h.4M90.7 326.6h.4M93.4 332.0h.4M89.4 329.5h.4M99.0 328.7h.4M89.6 330.1h.4M94.7 330.4h.4M100.0 330.5h.4M83.7 324.7h.4M91.1 334.0h.4M92.0 328.0h.4M93.5 330.8h.4M100.0 325.6h.4M96.8 329.8h.4M97.2 332.3h.4M76.8 331.9h.4M95.0 327.0h.4M90.8 332.3h.4M81.7 331.8h.4M97.0 334.3h.4M86.1 327.5h.4M98.3 328.5h.4M94.4 321.9h.4M80.7 330.7h.4M95.0 327.0h.4M76.9 330.8h.4M93.2 326.7h.4M92.5 327.6h.4M84.8 331.3h.4M91.6 329.4h.4M83.4 327.3h.4M89.8 327.6h.4M93.9 329.4h.4M90.1 328.8h.4M94.3 332.2h.4M84.4 332.0h.4M97.6 331.5h.4M87.9 329.9h.4M105.7 325.5h.4M97.2 328.5h.4M102.7 329.7h.4M97.3 327.5h.4M88.3 333.9h.4M83.1 327.8h.4M89.9 325.7h.4M95.8 325.8h.4M91.9 328.6h.4M76.9 329.7h.4M81.3 329.3h.4M76.1 327.7h.4M97.1 330.1h.4M99.1 333.9h.4M96.5 328.7h.4M90.8 331.1h.4M83.3 326.3h.4M91.5 334.2h.4M84.2 330.0h.4M86.9 331.3h.4M93.9 329.2h.4M97.7 328.5h.4M80.5 335.3h.4M90.9 330.1h.4M96.8 326.9h.4M88.5 327.1h.4M95.4 330.4h.4M92.9 325.5h.4M86.1 325.1h.4M82.5 327.1h.4M93.6 330.7h.4M79.6 331.1h.4M94.0 333.8h.4M97.3 325.0h.4M94.9 329.9h.4M93.8 327.2h.4M101.2 329.5h.4M87.7 324.1h.4M89.9 325.3h.4M81.8 333.9h.4M91.2 332.1h.4M99.0 331.4h.4M88.7 325.9h.4M90.5 329.6h.4M90.6 328.4h.4M92.5 325.1h.4M98.7 325.9h.4M92.4 326.7h.4M100.7 327.6h.4M85.4 328.2h.4M97.5 325.7h.4M82.9 327.7h.4M96.7 320.8h.4M97.8 335.7h.4M90.4 331.9h.4M90.7 323.9h.4M88.7 331.0h.4M84.1 328.4h.4M87.2 330.4h.4M82.9 334.0h.4M89.6 328.0h.4M94.9 331.4h.4M93.1 330.2h.4M92.8 325.8h.4M96.9 331.8h.4M86.3 324.2h.4M87.6 329.8h.4M101.1 329.9h.4M92.0 329.9h.4M81.4 328.2h.4M92.5 331.2h.4M97.1 334.0h.4M87.0 328.0h.4M88.6 330.7h.4M105.1 329.8h.4M92.7 326.6h.4M83.0 334.4h.4M91.0 333.3h.4M97.2 327.8h.4M93.3 326.6h.4M95.9 328.8h.4M96.9 332.8h.4M98.8 361.6h.4M102.3 339.6h.4M101.7 368.9h.4M101.4 364.5h.4M102.0 369.3h.4M100.4 342.8h.4M99.1 373.7h.4M98.3 354.9h.4M106.0 336.6h.4M103.7 339.9h.4M104.5 356.0h.4M105.7 346.9h.4M103.6 327.2h.4M97.6 356.7h.4M101.2 362.9h.4M96.8 330.7h.4M98.7 367.6h.4M102.1 343.3h.4M103.1 345.5h.4M101.7 348.0h.4M96.3 361.8h.4M101.2 338.3h.4M101.5 336.1h.4M100.7 342.0h.4M102.0 332.9h.4M100.5 341.4h.4M97.5 347.0h.4M103.2 360.3h.4M101.9 346.2h.4M104.1 343.5h.4M96.8 336.0h.4M104.7 343.7h.4M102.4 329.8h.4M100.9 337.1h.4M101.8 344.1h.4M99.1 322.5h.4M99.5 354.3h.4M99.8 352.2h.4M104.1 337.4h.4M102.7 345.9h.4M96.4 352.8h.4M97.2 365.3h.4M100.9 350.9h.4M104.3 334.1h.4M98.2 372.0h.4M103.4 355.2h.4M94.1 348.4h.4M97.7 337.9h.4M95.3 320.5h.4M99.4 354.3h.4M99.2 344.9h.4M101.2 370.5h.4M98.9 350.1h.4M103.7 328.0h.4M97.3 340.4h.4M105.8 339.5h.4M101.5 365.5h.4M98.2 341.1h.4M97.1 335.7h.4M104.5 338.8h.4M97.3 358.1h.4M101.9 347.1h.4M105.0 327.1h.4M100.7 369.1h.4M103.6 363.1h.4M95.8 343.1h.4M105.7 361.1h.4M101.3 361.2h.4M105.2 331.5h.4M104.7 361.1h.4M105.4 362.7h.4M99.3 352.5h.4M98.6 335.6h.4M98.6 344.5h.4M99.6 345.6h.4M102.8 363.6h.4M99.9 341.0h.4M96.6 347.7h.4M98.2 343.9h.4M101.5 360.4h.4M102.2 356.5h.4M102.8 346.1h.4M104.4 350.3h.4M96.2 338.8h.4M101.9 368.5h.4M101.8 339.7h.4M93.2 337.3h.4M96.8 359.4h.4M101.3 331.8h.4M105.2 362.5h.4M96.6 349.3h.4M103.7 362.5h.4M96.3 355.6h.4M103.4 354.2h.4M95.2 339.9h.4M100.6 343.8h.4M104.3 341.1h.4M102.7 334.1h.4M100.9 366.0h.4M99.1 347.0h.4M95.8 327.4h.4M103.1 367.0h.4M98.6 344.4h.4M102.2 340.2h.4M101.3 340.9h.4M103.2 338.9h.4M99.3 324.7h.4M98.2 322.6h.4M100.5 364.1h.4M96.4 333.2h.4M98.2 355.1h.4M99.9 342.0h.4M97.6 342.9h.4M99.7 334.0h.4M100.4 352.6h.4M99.1 346.8h.4M105.1 355.0h.4M100.0 349.0h.4M97.0 342.0h.4M99.5 343.3h.4M105.9 347.8h.4M105.2 347.2h.4M95.6 367.5h.4M99.1 345.4h.4M105.0 370.5h.4M101.6 368.4h.4M99.2 358.0h.4M97.7 363.5h.4M99.0 358.1h.4M96.7 371.1h.4M101.2 331.4h.4M100.3 323.3h.4M103.6 346.1h.4M105.2 347.2h.4M100.2 333.5h.4M103.3 345.2h.4M96.7 322.6h.4M104.4 345.5h.4M100.8 338.2h.4M99.1 347.0h.4M101.7 327.5h.4M94.1 348.3h.4M105.0 336.5h.4M96.1 356.1h.4M98.8 347.1h.4M105.8 334.3h.4M94.5 340.8h.4M99.6 358.3h.4M97.0 340.0h.4M98.4 336.5h.4M99.8 349.7h.4M95.6 331.9h.4M97.7 366.9h.4M100.4 322.8h.4M102.8 362.4h.4M95.2 327.1h.4M102.6 348.0h.4M103.2 373.5h.4M103.4 363.5h.4M99.3 370.3h.4M98.5 352.7h.4M93.8 340.4h.4M103.8 332.0h.4M99.8 325.5h.4M101.2 339.2h.4M98.5 341.6h.4M99.5 347.0h.4M100.1 365.8h.4M105.8 343.5h.4M102.3 332.2h.4M103.2 356.5h.4M99.0 328.6h.4M102.9 354.3h.4M97.0 353.6h.4M105.6 331.0h.4M99.0 329.3h.4M102.3 334.0h.4M100.3 340.4h.4M104.6 340.5h.4M99.6 348.7h.4M104.8 370.3h.4M99.8 327.0h.4M97.8 344.2h.4M103.3 353.6h.4M101.8 322.8h.4M101.4 338.5h.4M97.7 356.8h.4M105.5 350.0h.4M103.1 363.2h.4M101.2 340.0h.4M100.0 352.4h.4M99.6 331.3h.4M104.9 346.6h.4M98.6 337.5h.4M103.2 360.2h.4M101.8 365.6h.4M101.0 372.7h.4M104.3 328.2h.4M100.8 352.2h.4M101.0 330.8h.4M102.8 345.8h.4M95.8 326.1h.4M99.7 361.9h.4M101.0 349.9h.4M104.4 343.2h.4M101.2 345.7h.4M104.3 336.2h.4M102.5 335.1h.4M101.4 364.7h.4M98.3 354.6h.4M101.4 350.5h.4M102.9 348.1h.4M98.7 329.4h.4M103.7 353.1h.4M103.6 338.0h.4M99.4 337.2h.4M98.3 331.6h.4M100.0 344.2h.4M101.3 360.0h.4M98.0 345.4h.4M98.1 360.2h.4M98.0 341.1h.4M98.4 364.2h.4M96.9 328.4h.4M99.8 341.1h.4M97.9 365.1h.4M100.4 325.5h.4M98.9 338.9h.4M98.0 340.1h.4M99.8 356.8h.4M99.5 365.0h.4M101.4 366.1h.4M99.3 327.0h.4M105.7 332.6h.4M97.5 349.0h.4M97.9 357.7h.4M101.4 343.5h.4M99.2 370.4h.4M105.9 365.1h.4M96.6 373.5h.4M103.0 335.9h.4M95.4 336.1h.4M105.3 339.6h.4M103.3 345.0h.4M96.3 353.0h.4M99.8 342.2h.4M94.0 330.7h.4M98.9 344.5h.4M99.7 350.2h.4M100.0 367.4h.4M103.1 363.0h.4M95.9 349.5h.4M100.6 357.2h.4M98.8 349.2h.4M97.7 341.1h.4M102.3 338.8h.4M98.2 344.6h.4M102.2 353.6h.4M97.1 340.0h.4M97.1 330.6h.4M103.5 342.3h.4M104.0 371.9h.4M105.3 358.6h.4M103.7 360.9h.4M102.3 353.0h.4M102.7 357.8h.4M101.0 359.3h.4M100.6 345.6h.4M105.9 340.7h.4M102.9 356.8h.4M96.6 331.4h.4M101.6 320.5h.4M103.2 345.0h.4M98.4 360.5h.4M97.8 334.9h.4M101.0 360.9h.4M100.4 341.3h.4M101.7 340.9h.4M94.7 361.8h.4M102.7 364.7h.4M101.4 354.6h.4M95.3 324.8h.4M94.4 366.0h.4M98.6 368.5h.4M102.5 339.7h.4M100.7 334.1h.4M99.5 352.4h.4M103.3 339.0h.4M95.5 365.3h.4M97.2 358.5h.4M95.7 332.2h.4M94.1 357.5h.4M93.9 343.3h.4M101.8 352.8h.4M101.5 330.6h.4M99.1 340.6h.4M96.8 336.9h.4M105.1 352.9h.4M99.2 341.1h.4M103.7 337.7h.4M98.2 341.9h.4M92.1 365.4h.4M98.1 359.2h.4M100.9 363.3h.4M102.8 343.5h.4M102.1 323.3h.4M95.5 353.0h.4M103.1 343.6h.4M105.9 350.9h.4M103.5 359.5h.4M102.3 352.1h.4M101.6 356.1h.4M99.3 323.4h.4M98.9 351.4h.4M101.5 353.2h.4M103.4 354.0h.4M99.7 345.0h.4M97.2 339.8h.4M100.5 353.1h.4M95.4 364.8h.4M100.6 321.9h.4M100.3 356.3h.4M101.2 340.3h.4M97.8 350.6h.4M101.4 351.8h.4M99.5 366.7h.4M94.6 346.9h.4M101.5 360.5h.4M99.8 354.2h.4M100.2 365.5h.4M98.8 355.6h.4M102.0 321.5h.4M104.9 337.6h.4M96.9 336.4h.4M103.8 340.4h.4M103.5 331.8h.4M99.8 367.8h.4M99.0 349.8h.4M94.6 373.6h.4M100.0 354.2h.4M99.5 330.3h.4M99.6 341.7h.4M97.2 344.4h.4M97.4 339.0h.4M91.0 331.3h.4M101.9 350.5h.4M100.0 353.5h.4M101.2 345.5h.4M101.9 357.2h.4M104.1 354.5h.4M98.7 345.1h.4M98.1 368.3h.4M98.4 321.0h.4M100.0 333.3h.4M101.4 349.2h.4M97.9 322.3h.4M99.6 326.2h.4M100.1 349.7h.4M99.4 349.5h.4M99.3 373.2h.4M94.7 329.6h.4M104.6 327.3h.4M102.9 343.4h.4M100.7 324.4h.4M99.3 344.5h.4M93.4 347.1h.4M101.2 341.2h.4M95.5 365.1h.4M100.3 328.7h.4M97.6 351.5h.4M98.8 358.0h.4M96.4 350.9h.4M102.2 355.0h.4M97.9 331.7h.4M96.8 348.2h.4M99.7 365.8h.4M99.6 367.7h.4M99.8 362.8h.4M104.0 351.4h.4M96.4 353.4h.4" stroke="#000" stroke-width="0.6" stroke-linecap="square" fill="none" opacity="0.85"/>
<path d="M82.0,327.3 L90.0,325.3 L98.0,323.8 L106.0,323.2 L106.0,334.5 L98.0,333.8 L90.0,331.5 L82.0,329.8Z" fill="#000" opacity="1" stroke="none" stroke-width="0"/>
<path d="M97.0,323.5 L106.0,323.0 L106.0,373.4 L96.0,373.4 L96.5,364.0 L97.3,352.0 L97.5,340.0 L97.0,330.0Z" fill="#000" opacity="1" stroke="none" stroke-width="0"/>
</g>
<rect x="36.9" y="310.0" width="26.2" height="30.4" fill="none" stroke="#1f8440" stroke-width="1.3"/>
<rect x="36.9" y="347.0" width="26.2" height="25.8" fill="none" stroke="#2b2aa8" stroke-width="1.3"/>
<rect x="64.9" y="311.9" width="12.8" height="8" fill="#fff"/>
<text x="65.70" y="318.50" font-size="8" font-weight="bold" text-anchor="start" fill="#1f8440" stroke="#1f8440" stroke-width="0.22">1.2</text>
<rect x="64.9" y="347.9" width="12.8" height="8" fill="#fff"/>
<text x="65.70" y="354.50" font-size="8" font-weight="bold" text-anchor="start" fill="#2b2aa8" stroke="#2b2aa8" stroke-width="0.22">1.5</text>
<g clip-path="url(#c03)">
<path d="M99.2 386.5h.4M85.7 399.7h.4M89.8 445.6h.4M103.9 433.0h.4M104.0 417.5h.4M94.5 392.3h.4M97.7 401.3h.4M92.6 399.0h.4M91.4 410.3h.4M102.4 419.1h.4M99.0 400.8h.4M91.1 419.4h.4M85.3 411.6h.4M76.6 393.4h.4M85.9 429.9h.4M93.4 432.2h.4M78.7 398.0h.4M103.8 392.4h.4M81.2 421.4h.4M89.8 443.2h.4M101.7 423.3h.4M89.5 413.6h.4M105.6 390.7h.4M90.5 435.7h.4M96.1 389.6h.4M100.4 447.0h.4M98.4 394.9h.4M102.9 392.9h.4M76.5 431.4h.4M96.7 436.8h.4M91.9 387.8h.4M77.1 427.6h.4M98.8 406.9h.4M98.9 409.1h.4M89.7 430.4h.4M96.7 427.7h.4M80.2 430.6h.4M99.4 434.9h.4M94.9 423.9h.4M83.3 451.7h.4M105.2 400.9h.4M95.7 434.9h.4M90.2 403.0h.4M86.6 393.8h.4M100.1 418.8h.4M106.0 397.7h.4M105.5 427.8h.4M92.5 390.4h.4M78.0 417.3h.4M79.7 426.7h.4M83.1 446.6h.4M95.4 386.4h.4M101.8 430.0h.4M82.5 408.8h.4M96.3 444.6h.4M88.0 438.8h.4M104.2 448.7h.4M94.6 439.6h.4M78.2 432.2h.4M101.6 407.0h.4M101.5 407.2h.4M101.0 405.8h.4M92.6 425.9h.4M79.6 388.8h.4M86.5 412.8h.4M95.2 449.3h.4M104.2 391.7h.4M97.3 391.1h.4M78.0 389.9h.4M102.9 431.9h.4M91.6 422.9h.4M94.8 390.2h.4M90.3 445.7h.4M77.0 432.0h.4M78.2 419.9h.4M81.3 388.2h.4M77.9 412.5h.4M105.2 393.0h.4M89.2 404.1h.4M87.0 398.1h.4M87.9 450.6h.4M80.2 440.3h.4M99.8 414.7h.4M96.7 421.0h.4M105.7 386.6h.4M98.7 439.6h.4M95.6 450.0h.4M77.6 425.3h.4M98.4 388.0h.4M92.1 439.4h.4M96.1 409.3h.4M100.5 446.1h.4M82.9 400.2h.4M100.6 435.1h.4M88.9 451.4h.4M105.3 424.0h.4M87.4 389.1h.4M76.4 410.1h.4M89.0 388.9h.4M82.7 442.7h.4M98.4 407.8h.4M79.2 447.3h.4M103.1 435.7h.4M96.5 430.2h.4M84.1 421.5h.4M76.1 405.2h.4M81.6 390.6h.4M97.7 413.5h.4M85.5 436.9h.4M95.2 429.5h.4M103.1 395.8h.4M89.5 387.9h.4M98.0 434.8h.4M76.9 406.6h.4M78.1 439.4h.4M94.2 400.0h.4M97.0 447.3h.4M102.3 409.7h.4M76.7 408.4h.4M83.9 431.7h.4M85.9 441.5h.4M84.4 444.6h.4M103.9 420.4h.4M77.1 437.4h.4M101.7 392.3h.4M97.8 389.4h.4M85.5 402.9h.4M80.7 427.3h.4M105.6 417.7h.4M104.3 401.3h.4M79.9 402.5h.4M100.6 405.5h.4M86.4 443.1h.4M94.3 410.3h.4M102.1 392.8h.4M82.0 425.6h.4M90.8 430.2h.4M100.4 430.2h.4M81.3 432.9h.4M83.1 389.6h.4M84.9 409.5h.4M91.1 391.1h.4M95.0 409.3h.4M105.7 416.1h.4M100.9 438.7h.4M94.2 428.8h.4M78.6 445.7h.4M105.0 446.5h.4M78.4 397.8h.4M85.5 395.1h.4M83.7 389.7h.4M93.6 443.2h.4M86.1 440.6h.4M102.0 422.6h.4M101.9 400.5h.4M94.3 427.5h.4M76.1 451.1h.4M83.8 418.7h.4M99.7 416.0h.4M79.8 451.3h.4M102.1 417.0h.4M85.4 450.6h.4M98.7 393.1h.4M95.5 388.9h.4M90.8 448.8h.4M76.8 417.6h.4M105.0 389.8h.4M89.5 438.3h.4M101.3 419.9h.4M93.4 420.3h.4M96.2 450.5h.4M95.8 398.5h.4M83.0 416.8h.4M96.0 437.8h.4M84.2 396.1h.4M78.7 435.5h.4M89.2 438.6h.4M105.4 401.4h.4M86.5 390.5h.4M80.0 396.5h.4M99.8 432.0h.4M97.0 436.4h.4M82.0 449.8h.4M91.9 401.3h.4M100.2 400.1h.4M76.5 435.4h.4M79.8 451.4h.4M101.2 406.1h.4M105.0 423.8h.4M92.3 402.6h.4M103.0 425.3h.4M84.7 404.5h.4M85.0 405.7h.4M104.1 422.9h.4M94.8 434.3h.4M77.9 424.7h.4M99.5 388.6h.4M103.9 416.9h.4M76.5 450.2h.4M88.3 440.0h.4M98.3 419.3h.4M96.1 443.0h.4M94.6 450.1h.4M93.3 437.3h.4M89.7 438.4h.4M92.2 414.9h.4M100.7 404.5h.4M99.6 419.5h.4M103.4 437.1h.4M98.2 415.8h.4M92.6 447.1h.4M95.8 395.0h.4M93.1 382.7h.4M92.7 410.7h.4M98.2 437.4h.4M101.1 384.0h.4M94.6 431.1h.4M98.7 419.1h.4M93.1 433.2h.4M96.5 414.6h.4M96.4 414.9h.4M98.5 440.8h.4M97.3 407.0h.4M96.4 416.4h.4M99.4 434.2h.4M105.0 436.8h.4M88.6 402.9h.4M90.8 425.2h.4M94.2 446.4h.4M100.0 403.4h.4M92.2 448.1h.4M93.3 430.3h.4M90.3 419.2h.4M92.6 386.7h.4M94.4 408.9h.4M98.3 385.8h.4M98.2 412.2h.4M89.1 442.9h.4M94.7 427.5h.4M104.6 427.3h.4M101.5 423.5h.4M94.0 423.1h.4M89.1 428.7h.4M101.0 427.7h.4M93.6 395.8h.4M93.2 413.7h.4M92.9 421.8h.4M94.6 421.8h.4M86.3 399.3h.4M96.7 418.5h.4M98.8 408.9h.4M100.9 423.6h.4M96.6 419.7h.4M102.1 418.7h.4M104.6 421.8h.4M98.1 419.4h.4M98.3 428.4h.4M93.8 434.8h.4M97.4 403.8h.4M93.1 403.4h.4M98.2 405.9h.4M104.8 411.1h.4M92.4 401.6h.4M96.4 416.5h.4M101.5 405.3h.4M98.5 437.9h.4M95.4 385.5h.4M98.0 439.3h.4M98.8 419.5h.4M87.3 450.8h.4M51.8 391.3h.4M50.4 403.1h.4M54.1 393.8h.4M63.6 407.3h.4M49.8 391.4h.4M41.1 411.1h.4M54.5 416.0h.4M58.3 396.9h.4M62.4 395.9h.4M50.9 406.3h.4M55.2 404.2h.4M55.8 410.8h.4M53.3 404.6h.4M46.0 397.3h.4M56.2 401.8h.4M61.7 399.6h.4M47.0 388.9h.4M56.8 398.1h.4M60.0 391.2h.4M50.3 399.6h.4M46.2 399.2h.4M53.7 408.0h.4M61.8 393.4h.4M58.4 398.1h.4M62.5 396.6h.4M64.3 393.8h.4M49.0 409.1h.4M63.8 409.3h.4M53.6 409.9h.4M45.4 408.8h.4M57.6 400.4h.4M46.5 411.0h.4M39.6 398.6h.4M49.3 394.4h.4M47.6 404.2h.4M51.7 398.0h.4M59.7 394.3h.4M38.9 410.2h.4M49.6 415.1h.4M57.0 388.9h.4M56.6 406.0h.4M54.2 389.7h.4M38.7 418.1h.4M61.6 417.5h.4M60.1 401.5h.4M57.4 411.7h.4M48.4 412.9h.4M56.1 403.5h.4M58.0 404.4h.4M44.5 415.4h.4M48.8 399.3h.4M59.3 400.8h.4M52.6 398.4h.4M59.8 396.0h.4M45.7 404.5h.4M67.9 406.7h.4M46.9 390.0h.4M61.9 406.1h.4M53.1 407.2h.4M59.5 406.2h.4M66.8 388.1h.4M47.2 397.0h.4M43.8 419.1h.4M57.2 405.4h.4M61.5 399.6h.4M62.0 399.9h.4M61.1 406.6h.4M66.6 388.3h.4M44.5 395.0h.4M45.5 405.1h.4M63.3 398.6h.4M64.3 409.5h.4M47.8 407.5h.4M67.9 397.5h.4M56.5 407.2h.4M58.8 401.3h.4M53.6 394.6h.4M52.3 394.2h.4M58.0 415.8h.4M54.2 394.5h.4M63.1 404.0h.4M45.8 399.8h.4M55.3 391.9h.4M56.6 413.0h.4M64.2 412.8h.4M61.2 401.0h.4M59.9 412.6h.4M54.2 406.4h.4M47.6 401.9h.4M49.0 392.3h.4M55.7 395.3h.4M55.4 409.3h.4M59.6 406.9h.4M71.9 403.6h.4M66.1 396.8h.4M44.9 397.1h.4M49.5 409.7h.4M61.3 402.0h.4M45.0 403.1h.4M49.7 398.6h.4M61.8 417.1h.4M63.5 417.6h.4M55.7 388.4h.4M55.5 394.1h.4M44.2 391.6h.4M55.0 411.1h.4M50.9 390.3h.4M48.9 400.5h.4M65.4 403.0h.4M38.6 410.3h.4M41.0 396.5h.4M58.9 404.0h.4M56.8 400.3h.4M45.5 393.0h.4M52.7 406.3h.4M49.0 413.8h.4M56.0 410.2h.4M45.1 403.8h.4M57.1 398.6h.4M64.4 402.9h.4M54.0 403.1h.4M63.6 416.3h.4M39.8 402.8h.4M49.2 402.1h.4M49.2 393.7h.4M64.1 404.2h.4M46.7 415.0h.4M51.5 404.0h.4M52.2 403.4h.4M42.3 397.5h.4M52.0 401.2h.4M49.6 411.3h.4M51.5 394.1h.4M67.6 400.8h.4M64.9 406.8h.4M51.2 410.7h.4M39.3 390.9h.4M49.6 400.1h.4M66.4 407.3h.4M56.0 413.8h.4M54.9 413.0h.4M64.5 396.8h.4M60.0 412.0h.4M56.8 398.2h.4M62.8 412.2h.4M53.8 406.6h.4M55.3 404.2h.4M57.6 398.3h.4M61.3 405.2h.4M71.3 404.6h.4M55.1 390.9h.4M48.9 399.4h.4M54.0 401.0h.4M70.9 397.6h.4M51.7 397.9h.4M63.9 398.6h.4M39.7 415.1h.4M40.7 408.2h.4M54.1 395.9h.4M61.5 401.2h.4M60.6 439.8h.4M62.1 437.2h.4M59.8 432.8h.4M60.8 437.8h.4M60.9 437.9h.4M61.3 436.2h.4M61.9 438.0h.4M56.4 436.9h.4M61.5 435.6h.4M64.4 440.4h.4M64.9 439.1h.4M63.1 437.3h.4M63.9 435.0h.4M61.7 437.9h.4M61.6 433.2h.4M61.7 435.7h.4M60.4 438.8h.4M64.7 437.2h.4M59.1 436.4h.4M61.5 433.8h.4M60.5 437.3h.4M60.5 438.2h.4M58.7 438.9h.4M60.2 437.3h.4M62.0 435.4h.4M64.6 431.6h.4M62.5 438.8h.4M61.4 436.7h.4M59.1 436.8h.4M62.4 435.1h.4M62.0 435.8h.4M59.4 436.6h.4M60.0 439.5h.4M60.0 441.0h.4M61.9 436.8h.4M60.1 438.1h.4M59.4 432.3h.4M63.0 430.7h.4M64.8 435.3h.4M65.9 437.6h.4M66.1 432.5h.4M60.8 437.6h.4M60.6 437.1h.4M61.6 438.8h.4M65.5 430.5h.4M63.5 433.4h.4M66.1 432.5h.4M59.8 438.4h.4M61.5 438.9h.4M62.9 434.6h.4M57.9 440.3h.4M61.4 436.5h.4M61.2 436.1h.4M60.1 437.0h.4M62.6 433.2h.4M58.0 438.5h.4M64.1 435.2h.4M61.5 435.4h.4M63.0 436.6h.4M60.6 434.6h.4M63.1 437.9h.4M60.9 438.0h.4M54.1 435.5h.4M62.4 430.9h.4M60.5 437.5h.4M65.1 438.0h.4M58.8 439.5h.4M61.2 439.3h.4M58.4 432.0h.4M57.9 438.6h.4M64.9 437.6h.4M62.4 436.5h.4M62.4 433.8h.4M65.1 439.2h.4M64.4 436.6h.4M64.1 439.7h.4M68.3 440.0h.4M60.1 434.5h.4M64.2 438.3h.4M63.3 437.0h.4M52.5 425.4h.4M50.5 426.1h.4M61.9 428.3h.4M52.3 420.5h.4M62.3 427.9h.4M53.4 427.6h.4M54.0 419.6h.4M55.4 427.2h.4M58.9 418.6h.4M59.4 423.6h.4M48.9 429.6h.4M58.0 427.4h.4M57.5 420.4h.4M56.5 416.7h.4M53.0 437.1h.4M60.0 426.7h.4M56.5 425.2h.4M56.9 425.7h.4M52.1 423.0h.4M49.1 420.5h.4M54.5 426.6h.4M61.8 416.8h.4M61.4 422.7h.4M53.7 424.3h.4M61.7 419.5h.4M53.8 427.4h.4M57.9 426.7h.4M55.3 429.6h.4M52.0 432.4h.4M53.5 426.6h.4M52.1 421.8h.4M58.0 427.5h.4M54.4 428.7h.4M64.8 412.8h.4M48.7 425.7h.4M49.7 429.7h.4M52.4 424.7h.4M52.4 434.8h.4M59.7 416.5h.4M57.0 423.3h.4" stroke="#000" stroke-width="0.6" stroke-linecap="square" fill="none" opacity="0.85"/>
<path d="M42.5,396.0 L45.0,393.0 L50.0,391.5 L56.0,391.2 L62.0,392.0 L65.5,394.5 L66.0,399.0 L64.5,405.0 L62.0,411.0 L60.0,416.0 L57.0,419.5 L54.0,419.5 L51.0,416.0 L48.0,410.0 L45.0,404.0 L43.0,400.0Z" fill="#c4c4c4" opacity="1" stroke="#555" stroke-width="0.7"/>
<path d="M56.3 400.7h.4M60.7 395.4h.4M50.2 400.4h.4M61.1 393.2h.4M60.9 408.8h.4M52.1 392.1h.4M63.6 402.4h.4M54.5 394.9h.4M57.0 416.9h.4M48.1 404.4h.4M53.7 417.1h.4M59.4 408.0h.4M54.2 410.6h.4M50.1 402.7h.4M54.4 413.5h.4M54.9 397.0h.4M53.9 407.4h.4M55.7 409.4h.4M58.3 412.7h.4M44.5 400.2h.4M48.9 409.1h.4M63.4 401.5h.4M48.4 406.5h.4M47.3 394.3h.4M50.1 411.1h.4M58.8 395.7h.4M56.5 414.3h.4M61.6 400.1h.4M61.5 410.8h.4M50.4 410.7h.4M61.0 405.6h.4M55.2 396.9h.4M53.5 394.2h.4M56.3 411.6h.4M55.7 408.5h.4M50.6 407.3h.4M64.9 396.0h.4M59.2 405.1h.4M60.2 406.2h.4M47.3 399.9h.4M49.9 401.6h.4M50.5 396.7h.4M45.8 404.7h.4M45.6 398.1h.4M54.4 414.4h.4M60.4 395.2h.4M49.7 407.2h.4M55.2 395.1h.4M63.1 398.4h.4M58.8 412.5h.4M54.0 397.6h.4M48.3 394.1h.4M53.7 413.3h.4M60.3 400.1h.4M50.1 406.6h.4M55.2 393.4h.4M59.8 393.6h.4M55.5 395.1h.4M64.3 396.3h.4M54.1 403.7h.4M59.6 407.0h.4M52.4 416.0h.4M47.4 406.1h.4M47.2 407.2h.4M59.0 393.5h.4M56.8 396.7h.4M57.7 396.1h.4M56.9 398.7h.4M60.5 395.7h.4M43.6 398.0h.4M59.6 402.2h.4M53.0 412.2h.4M49.5 404.8h.4M56.8 417.8h.4M55.0 400.8h.4M65.2 399.2h.4M53.4 404.1h.4M52.4 416.2h.4M54.0 412.0h.4M54.4 416.8h.4M62.0 399.8h.4M61.3 410.5h.4M52.8 395.1h.4M44.9 401.3h.4M57.2 415.9h.4M51.4 411.1h.4M56.5 416.7h.4M59.8 399.4h.4M51.3 392.2h.4M57.0 392.5h.4M54.2 415.3h.4M56.3 415.9h.4M58.5 399.6h.4M55.9 412.2h.4M54.5 399.5h.4M64.8 402.1h.4M53.0 405.9h.4M56.9 396.0h.4M59.0 403.9h.4M64.7 401.9h.4M58.1 401.0h.4M54.3 413.8h.4M63.1 395.1h.4M49.4 393.9h.4M54.6 399.0h.4M49.1 409.8h.4M65.3 397.0h.4M54.8 403.3h.4M55.9 400.5h.4M46.8 399.5h.4M64.0 405.2h.4M46.6 395.0h.4M53.7 415.9h.4M55.7 391.6h.4M61.0 405.9h.4M50.1 400.2h.4M43.3 397.7h.4M62.4 401.5h.4M58.5 399.4h.4M52.8 394.6h.4M47.9 401.1h.4M54.3 401.2h.4M57.2 404.0h.4M50.0 402.1h.4M52.9 399.9h.4M51.1 404.4h.4M62.8 404.5h.4M50.2 408.4h.4M58.0 401.2h.4M50.3 413.7h.4M49.5 406.1h.4M49.9 400.5h.4M55.8 415.2h.4M61.4 402.2h.4M45.9 396.4h.4M61.7 396.8h.4M48.4 403.2h.4M54.9 394.7h.4M50.0 396.3h.4M49.1 395.5h.4M58.3 413.2h.4M61.4 405.6h.4M57.3 394.7h.4M56.0 398.8h.4M56.7 392.8h.4M52.7 407.2h.4M58.7 406.3h.4M54.3 410.1h.4M50.0 412.8h.4M47.4 401.0h.4M56.6 414.5h.4M58.8 396.4h.4M59.8 414.2h.4M52.7 413.4h.4M50.1 393.9h.4M54.4 393.2h.4M51.8 395.4h.4M54.7 393.6h.4M60.6 413.9h.4M44.5 400.2h.4M54.9 402.1h.4M58.8 392.2h.4M60.2 410.0h.4M47.8 393.4h.4M45.6 395.6h.4M53.4 395.6h.4M61.6 408.1h.4M48.6 399.3h.4M52.2 403.2h.4M57.0 396.1h.4M56.7 409.2h.4M60.5 407.8h.4M57.8 408.2h.4M51.0 393.7h.4M53.4 402.4h.4M63.6 404.9h.4M50.2 402.5h.4M54.2 408.6h.4M59.2 392.4h.4M60.2 411.3h.4M64.2 401.2h.4M49.2 405.7h.4M55.9 398.9h.4M56.1 419.0h.4M56.2 408.2h.4M53.0 398.4h.4M62.4 393.8h.4M53.6 408.6h.4M43.6 400.3h.4M57.9 416.4h.4M62.7 395.2h.4M50.5 408.6h.4M62.9 397.4h.4M47.8 392.4h.4M55.9 409.4h.4M43.5 394.8h.4M53.4 409.0h.4M55.5 408.7h.4M57.6 401.9h.4M56.5 402.3h.4M59.9 405.7h.4M59.7 403.0h.4M43.0 396.9h.4M52.2 398.3h.4M61.9 397.4h.4M47.9 403.1h.4M56.2 395.8h.4M63.8 395.2h.4M58.5 405.6h.4M62.2 393.7h.4M48.5 398.2h.4M50.0 412.9h.4M55.0 395.3h.4M57.6 395.8h.4M51.6 405.0h.4M48.1 395.4h.4M61.8 394.3h.4M54.8 414.0h.4M50.8 409.9h.4M48.9 409.6h.4M58.4 404.2h.4M57.0 414.0h.4M63.4 405.1h.4M50.3 396.6h.4M49.4 411.1h.4M47.7 403.9h.4M47.9 408.6h.4M53.6 405.4h.4M57.5 403.0h.4M60.9 408.9h.4M48.5 397.1h.4M57.8 406.8h.4M46.3 403.4h.4M64.1 403.0h.4M49.5 408.8h.4M43.9 401.3h.4M45.7 401.1h.4M47.7 392.3h.4M54.6 408.5h.4M55.4 409.1h.4M48.1 409.1h.4M51.2 391.8h.4M51.0 412.7h.4M52.2 408.6h.4M58.5 403.5h.4M53.5 406.0h.4M50.5 406.6h.4M56.8 414.7h.4M59.0 406.8h.4M60.7 394.0h.4M64.3 404.0h.4M60.9 411.8h.4M55.0 413.3h.4M47.4 404.6h.4M55.6 399.1h.4M55.7 391.7h.4M50.0 411.8h.4M54.8 411.5h.4M55.6 413.7h.4M54.2 412.3h.4" stroke="#222" stroke-width="0.55" stroke-linecap="square" fill="none" opacity="0.6"/>
<path d="M44,396 C47,393.2 52,392.6 56,392.6 C60,392.6 63,393.5 65,395.5" fill="none" stroke="#222" stroke-width="1.6" opacity="1"/>
<path d="M45,399 C48,396 53,395.5 56,395.5 C60,395.5 62.5,396.5 64,398.5 C63,404 61,409 58.5,414 C56.5,417 54.5,417 53,414.5 C50,409 47,404 45,399Z" fill="none" stroke="#666" stroke-width="0.55" opacity="1"/>
<path d="M47.5,400 C50,398 54,397.8 57,398 C60,398.3 61.5,399.5 61.5,401 C60.5,405 58.5,409 56.5,412 C55,413 54,412.5 53,411 C51,407.5 49,403.5 47.5,400Z" fill="none" stroke="#777" stroke-width="0.5" opacity="1"/>
<ellipse cx="52.2" cy="401.5" rx="1.7" ry="1.5" fill="#f4f4f4" stroke="#999" stroke-width="0.4" opacity="1" transform="rotate(0 52.2 401.5)"/>
<path d="M55,419 L55,423" fill="none" stroke="#555" stroke-width="0.7" opacity="1"/>
<path d="M49,428 C49,424 51,422 53,422 C56,422 57,425 57,429 L56.5,439 C56,442 50,442 49.5,439 Z" fill="#f0f0f0" stroke="#666" stroke-width="0.6" opacity="1"/>
<path d="M51,430 C51,427 55,426 55,430 L54.5,437 C54,439.5 51.5,439.5 51.3,437 Z" fill="none" stroke="#888" stroke-width="0.5" opacity="1"/>
<path d="M90,392 C92,400 95,410 93,420 C91,430 95,440 98,448" fill="none" stroke="#777" stroke-width="0.6" opacity="1"/>
<path d="M97,386 C100,395 103,405 101,415 C99,425 103,435 104,445" fill="none" stroke="#777" stroke-width="0.6" opacity="1"/>
<path d="M84,420 C87,425 90,432 88,440 C86,446 90,450 92,452" fill="none" stroke="#888" stroke-width="0.5" opacity="1"/>
<path d="M78,430 C82,434 84,440 82,446" fill="none" stroke="#888" stroke-width="0.5" opacity="1"/>
<ellipse cx="96" cy="440" rx="4" ry="5" fill="none" stroke="#666" stroke-width="0.6" opacity="1" transform="rotate(0 96 440)"/>
<ellipse cx="100" cy="430" rx="3" ry="6" fill="none" stroke="#777" stroke-width="0.5" opacity="1" transform="rotate(0 100 430)"/>
<ellipse cx="95" cy="400" rx="2.5" ry="5" fill="none" stroke="#777" stroke-width="0.5" opacity="1" transform="rotate(0 95 400)"/>
</g>
<rect x="36.9" y="388.5" width="36.2" height="32.3" fill="none" stroke="#1f8440" stroke-width="1.3"/>
<rect x="36.9" y="424.5" width="36.2" height="24.3" fill="none" stroke="#2b2aa8" stroke-width="1.3"/>
<rect x="74.1" y="390.4" width="17.2" height="8" fill="#fff"/>
<text x="74.90" y="397.00" font-size="8" font-weight="bold" text-anchor="start" fill="#1f8440" stroke="#1f8440" stroke-width="0.22">66.5</text>
<rect x="76.2" y="426.7" width="12.8" height="8" fill="#fff"/>
<text x="77.00" y="433.30" font-size="8" font-weight="bold" text-anchor="start" fill="#2b2aa8" stroke="#2b2aa8" stroke-width="0.22">5.7</text>
<g clip-path="url(#c04)">
<path d="M98.4 475.1h.4M103.6 472.1h.4M92.9 474.4h.4M79.3 480.1h.4M102.2 471.0h.4M93.1 475.1h.4M82.5 475.8h.4M97.9 472.6h.4M83.6 478.2h.4M98.0 478.0h.4M80.8 477.6h.4M77.3 480.6h.4M105.1 476.4h.4M95.8 479.8h.4M89.0 475.6h.4M88.2 475.9h.4M71.8 484.5h.4M101.4 472.5h.4M105.2 477.1h.4M101.8 475.7h.4M98.0 473.8h.4M70.4 483.1h.4M95.5 472.0h.4M94.7 476.9h.4M74.7 483.1h.4M101.5 471.9h.4M83.1 478.9h.4M76.7 482.5h.4M95.5 476.2h.4M71.5 484.2h.4M94.3 478.1h.4M88.2 475.9h.4M100.5 472.9h.4M92.7 478.5h.4M96.1 479.5h.4M91.2 475.7h.4M98.1 471.6h.4M85.4 476.2h.4M78.7 479.9h.4M101.8 477.5h.4M75.7 481.8h.4M104.5 479.2h.4M101.6 473.9h.4M92.5 475.6h.4M103.2 476.4h.4M79.4 479.8h.4M101.6 471.2h.4M100.8 473.3h.4M86.5 476.7h.4M94.0 477.0h.4M105.1 477.5h.4M91.4 476.1h.4M75.5 480.2h.4M93.3 472.9h.4M99.3 480.0h.4M89.4 473.6h.4M100.7 473.0h.4M83.4 476.9h.4M79.1 478.3h.4M105.3 476.0h.4M98.8 473.5h.4M72.1 480.9h.4M96.8 479.6h.4M81.3 479.4h.4M80.0 477.5h.4M97.7 476.4h.4M100.7 472.7h.4M79.6 478.1h.4M84.5 479.7h.4M99.9 473.2h.4M93.3 472.8h.4M88.4 478.1h.4M68.9 485.1h.4M80.2 480.2h.4M76.7 480.3h.4M73.9 480.4h.4M101.3 479.3h.4M100.9 472.4h.4M102.2 473.8h.4M101.4 476.7h.4M74.5 481.4h.4M103.4 478.9h.4M72.1 484.2h.4M71.3 484.2h.4M82.4 478.3h.4M88.1 474.2h.4M98.8 473.0h.4M98.4 478.0h.4M105.1 481.7h.4M84.1 475.2h.4M86.3 476.2h.4M81.3 476.9h.4M79.2 480.3h.4M76.1 482.2h.4M100.8 473.8h.4M86.1 477.8h.4M105.3 481.3h.4M100.6 474.7h.4M72.8 480.8h.4M105.2 478.2h.4M86.7 478.4h.4M97.8 479.8h.4M77.8 480.5h.4M99.0 475.7h.4M96.2 477.1h.4M69.8 485.2h.4M90.5 476.7h.4M88.4 474.0h.4M97.4 478.1h.4M104.2 477.4h.4M79.1 478.4h.4M93.8 476.9h.4M77.5 478.5h.4M98.4 480.4h.4M76.2 480.9h.4M88.9 476.8h.4M106.0 473.9h.4M71.6 483.3h.4M85.5 478.4h.4M105.4 479.2h.4M75.9 481.7h.4M74.0 481.5h.4M100.5 478.6h.4M98.9 474.1h.4M96.3 474.1h.4M81.3 477.5h.4M101.8 481.1h.4M101.9 471.8h.4M96.6 479.5h.4M88.8 478.5h.4M82.4 477.8h.4M75.8 482.2h.4M105.0 472.3h.4M103.8 476.7h.4M84.5 476.2h.4M101.3 470.8h.4M73.4 484.0h.4M104.8 473.2h.4M90.0 476.2h.4M80.7 476.5h.4M65.7 487.3h.4M68.8 485.9h.4M93.3 474.5h.4M92.9 475.0h.4M100.8 478.4h.4M101.1 480.3h.4M67.4 485.4h.4M80.0 481.0h.4M102.5 480.6h.4M82.9 479.9h.4M91.1 474.4h.4M93.0 477.3h.4M105.3 470.7h.4M105.9 477.7h.4M85.5 478.1h.4M76.8 479.4h.4M88.8 476.8h.4M98.0 475.6h.4M94.2 478.1h.4M93.5 479.2h.4M84.8 478.3h.4M76.8 481.8h.4M74.6 480.6h.4M95.0 472.6h.4M66.8 486.5h.4M74.5 480.3h.4M104.2 478.9h.4M73.7 483.0h.4M102.9 477.0h.4M74.3 480.3h.4M73.6 481.7h.4M103.8 474.9h.4M77.2 478.5h.4M70.7 484.3h.4M84.5 476.1h.4M100.9 472.4h.4M86.0 475.1h.4M96.5 474.6h.4M97.5 473.7h.4M94.1 475.7h.4M79.5 479.2h.4M102.8 472.8h.4M79.6 479.4h.4M80.7 476.3h.4M67.4 484.7h.4M79.1 476.5h.4M100.3 474.1h.4M83.4 475.5h.4M98.4 479.6h.4M78.9 479.9h.4M104.5 479.1h.4M92.2 476.9h.4M105.3 474.8h.4M92.9 474.1h.4M101.9 471.8h.4M102.2 472.0h.4M105.7 479.9h.4M94.5 478.2h.4M74.3 480.7h.4M86.1 474.6h.4M92.4 479.3h.4M73.1 482.0h.4M71.5 483.0h.4M105.8 481.8h.4M104.3 477.7h.4M69.4 483.9h.4M76.5 479.6h.4M97.8 471.4h.4M80.2 477.1h.4M88.1 474.8h.4M72.1 482.6h.4M90.1 474.0h.4M105.9 481.6h.4M90.1 475.6h.4M104.3 470.3h.4M98.1 477.5h.4M100.5 480.9h.4M81.2 477.9h.4M86.7 477.5h.4M101.8 477.4h.4M105.4 475.5h.4M104.2 480.4h.4M100.9 475.7h.4M87.5 477.4h.4M101.9 475.1h.4M78.0 480.3h.4M87.3 479.2h.4M94.3 477.1h.4M99.7 479.9h.4M104.0 477.0h.4M101.5 474.8h.4M88.7 473.5h.4M92.9 477.9h.4M85.9 476.2h.4M102.2 479.0h.4M76.5 482.5h.4M87.2 479.0h.4M76.3 480.1h.4M101.6 480.8h.4M87.8 475.0h.4M69.5 485.3h.4M86.0 479.0h.4M90.1 478.3h.4M92.9 474.0h.4M95.7 472.6h.4M97.5 477.3h.4M78.8 480.3h.4M68.7 484.7h.4M98.0 477.6h.4M94.3 479.0h.4M69.7 483.1h.4M69.9 483.3h.4M103.1 475.6h.4M69.3 483.2h.4M66.8 487.0h.4M90.6 477.4h.4M97.6 476.9h.4M67.7 485.5h.4M100.8 476.3h.4M98.4 472.5h.4M93.0 473.4h.4M76.0 479.8h.4M93.5 473.2h.4M76.1 480.4h.4M83.2 475.3h.4M105.6 470.2h.4M104.4 476.3h.4M81.3 479.0h.4M94.8 477.9h.4M101.0 470.9h.4M81.2 478.2h.4M101.4 480.5h.4M91.3 475.6h.4M91.2 476.7h.4M84.7 474.7h.4M105.2 475.3h.4M78.4 477.6h.4M90.2 473.1h.4M90.3 475.2h.4M83.0 477.8h.4M100.6 478.0h.4M82.7 477.6h.4M102.5 475.9h.4M105.9 477.5h.4M84.0 475.9h.4M82.0 477.9h.4M94.9 476.8h.4M103.5 480.4h.4M84.4 478.2h.4M93.9 474.8h.4M94.7 478.2h.4M80.8 478.4h.4M103.8 478.4h.4M87.8 474.9h.4M96.1 478.0h.4M100.4 473.8h.4M97.1 475.3h.4M64.0 488.4h.4M82.9 480.5h.4M66.7 485.9h.4M96.5 472.8h.4M76.4 480.4h.4M91.6 476.1h.4M70.3 483.5h.4M101.5 472.5h.4M78.7 477.1h.4M77.7 480.8h.4M97.9 477.5h.4M70.7 483.2h.4M102.0 471.1h.4M76.6 479.1h.4M96.9 475.8h.4M100.0 477.5h.4M98.0 475.1h.4M90.8 477.3h.4M84.6 478.7h.4M95.5 476.8h.4M76.1 480.5h.4M96.2 473.3h.4M90.4 479.0h.4M104.9 481.8h.4M88.2 479.5h.4M87.9 476.5h.4M98.9 474.8h.4M90.5 478.4h.4M89.7 479.5h.4M86.0 478.2h.4M77.1 481.2h.4M96.2 473.2h.4M89.8 473.3h.4M86.1 476.2h.4M89.2 475.2h.4M70.2 485.0h.4M83.7 476.9h.4M95.5 479.3h.4M97.4 476.7h.4M104.4 480.6h.4M105.6 478.4h.4M72.6 481.9h.4M98.8 471.9h.4M100.2 477.7h.4M104.0 478.6h.4M99.8 471.5h.4M87.7 477.5h.4M71.4 481.2h.4M87.3 476.4h.4M99.1 475.0h.4M102.4 472.9h.4M96.9 473.8h.4M102.5 478.2h.4M90.4 475.2h.4M105.2 481.8h.4M85.6 478.3h.4M64.6 487.8h.4M91.9 476.9h.4M67.0 485.3h.4M77.7 477.7h.4M68.3 485.8h.4M105.9 480.3h.4M68.7 486.1h.4M97.5 472.0h.4M101.7 480.4h.4M74.1 481.8h.4M72.9 483.3h.4M95.2 477.3h.4M103.9 477.6h.4M90.9 473.1h.4M99.0 473.4h.4M73.8 479.9h.4M100.8 474.8h.4M104.4 476.4h.4M74.9 480.0h.4M84.2 477.6h.4M65.9 487.2h.4M99.4 471.4h.4M88.8 474.4h.4M104.1 479.2h.4M87.8 475.6h.4M79.3 477.5h.4M103.1 474.2h.4M101.6 479.5h.4M99.5 471.6h.4M74.8 480.5h.4M82.8 480.5h.4M76.9 478.9h.4M105.6 473.7h.4M92.6 476.6h.4M66.9 486.2h.4M97.4 472.9h.4M79.6 477.0h.4M100.3 472.3h.4M102.7 474.1h.4M89.2 479.6h.4M73.7 480.0h.4M91.3 474.7h.4M105.7 481.7h.4M72.1 483.3h.4M91.8 478.0h.4M64.8 488.0h.4M94.6 477.4h.4M104.4 480.9h.4M87.1 476.9h.4M104.1 476.2h.4M97.2 473.7h.4M69.2 485.7h.4M86.6 478.2h.4M83.6 479.5h.4M87.6 479.0h.4M93.5 473.6h.4M91.9 477.5h.4M93.8 476.5h.4M103.8 479.1h.4M97.3 474.4h.4M103.4 474.6h.4M97.3 472.6h.4M95.9 476.0h.4M104.7 478.6h.4M100.9 475.2h.4M86.9 477.7h.4M93.5 476.6h.4M71.9 482.6h.4M72.4 481.3h.4M94.9 476.6h.4M85.4 479.5h.4M99.6 479.4h.4M82.8 480.7h.4M70.0 483.1h.4M93.0 478.4h.4M79.6 477.6h.4M82.2 476.9h.4M101.0 477.9h.4M96.4 479.5h.4M91.2 475.7h.4M91.7 474.6h.4M75.2 481.5h.4M102.9 472.1h.4M75.3 479.2h.4M81.7 476.9h.4M87.4 479.2h.4M89.0 475.1h.4M98.6 473.2h.4M85.2 479.0h.4M78.7 477.5h.4M104.7 480.3h.4M75.6 479.1h.4M79.7 481.2h.4M100.5 479.2h.4M78.5 478.5h.4M95.5 475.3h.4M84.5 476.7h.4M103.8 471.6h.4M103.1 474.7h.4M86.3 476.7h.4M77.2 480.1h.4M103.1 475.6h.4M81.3 480.7h.4M99.5 474.1h.4M84.1 477.1h.4M87.8 477.2h.4M80.1 479.4h.4M99.1 474.2h.4M92.8 476.6h.4M99.8 477.6h.4M87.7 475.3h.4M93.3 474.1h.4M101.2 479.5h.4M102.3 470.7h.4M103.2 474.1h.4M78.9 479.3h.4M91.2 475.4h.4M87.8 479.4h.4M73.5 483.1h.4M86.0 478.9h.4M76.9 480.5h.4M84.9 478.9h.4M90.6 475.1h.4M103.2 478.8h.4M80.9 478.2h.4M78.1 481.1h.4M94.5 474.1h.4M100.2 478.5h.4M91.9 476.3h.4M101.9 471.6h.4M77.2 480.4h.4M89.4 475.1h.4M105.6 479.3h.4M63.4 489.2h.4M86.6 476.4h.4M95.3 475.6h.4M92.3 475.8h.4M102.9 477.7h.4M87.6 477.4h.4M99.6 471.5h.4M78.2 479.4h.4M103.7 475.9h.4M103.3 474.0h.4M93.9 478.9h.4M88.7 479.6h.4M74.9 482.9h.4M105.1 474.4h.4M95.7 476.9h.4M96.5 479.9h.4M81.4 478.8h.4M79.0 477.1h.4M73.9 481.0h.4M83.1 479.2h.4M87.5 478.8h.4M100.8 474.4h.4M70.2 484.5h.4M95.6 474.9h.4M91.5 474.1h.4M82.8 479.4h.4M90.4 479.1h.4M67.6 485.1h.4M82.5 475.7h.4M97.2 479.0h.4M90.5 472.9h.4M95.8 475.2h.4M97.7 472.3h.4M96.0 474.1h.4M82.8 474.5h.4M69.6 472.2h.4M82.7 469.9h.4M73.4 475.2h.4M86.6 473.7h.4M85.8 466.1h.4M82.5 468.1h.4M95.0 465.9h.4M83.9 465.9h.4M89.6 464.9h.4M76.0 469.9h.4M89.4 470.2h.4M85.8 469.2h.4M100.7 463.0h.4M95.1 467.3h.4M100.9 465.1h.4M80.8 472.4h.4M67.8 475.7h.4M102.4 465.1h.4M75.9 473.2h.4M67.1 474.4h.4M97.6 467.8h.4M92.2 467.0h.4M93.6 468.9h.4M76.6 476.2h.4M104.6 462.6h.4M98.0 465.3h.4M97.6 470.4h.4M99.2 464.5h.4M83.3 469.9h.4M81.4 468.5h.4M99.1 466.0h.4M75.1 469.9h.4M100.9 464.7h.4M87.4 471.5h.4M76.1 473.0h.4M72.5 471.8h.4M94.6 471.3h.4M76.1 476.8h.4M80.6 470.5h.4M95.8 471.5h.4M93.7 472.1h.4M101.5 462.9h.4M72.3 469.5h.4M96.6 469.5h.4M71.0 473.7h.4M84.7 471.7h.4M68.4 476.2h.4M98.0 470.8h.4M77.6 473.4h.4M79.3 474.2h.4M76.9 475.5h.4M87.7 469.5h.4M77.2 470.7h.4M91.6 468.6h.4M86.5 470.3h.4M72.7 479.5h.4M67.1 476.5h.4M86.6 467.2h.4M78.8 476.0h.4M68.3 474.3h.4M86.8 468.2h.4M84.7 473.7h.4M69.0 474.5h.4M79.1 468.3h.4M78.2 469.3h.4M70.7 480.4h.4M95.8 467.8h.4M83.5 472.1h.4M87.8 471.0h.4M74.5 474.0h.4M103.0 462.5h.4M75.9 476.4h.4M91.0 469.3h.4M84.5 465.7h.4M97.8 468.4h.4M99.3 466.5h.4M105.5 469.0h.4M100.3 463.6h.4M67.7 475.9h.4M84.3 466.6h.4M88.2 471.5h.4M93.7 470.3h.4M80.5 473.4h.4M87.6 468.7h.4M82.0 471.8h.4M87.6 468.8h.4M105.7 462.8h.4M67.3 472.8h.4M71.2 472.4h.4M54.3 504.4h.4M42.9 515.4h.4M57.0 500.4h.4M50.1 500.6h.4M50.5 523.8h.4M47.5 504.8h.4M49.5 504.5h.4M52.5 496.2h.4M55.0 502.2h.4M50.1 526.5h.4M58.2 509.4h.4M48.9 511.6h.4M63.2 518.9h.4M44.5 518.9h.4M48.8 509.3h.4M47.5 505.3h.4M53.8 509.4h.4M54.9 504.1h.4M44.0 504.9h.4M48.2 510.7h.4M62.3 509.0h.4M48.2 526.8h.4M62.3 514.8h.4M56.6 494.7h.4M47.5 507.8h.4M51.9 521.6h.4M59.3 510.1h.4M53.5 508.0h.4M56.4 497.2h.4M53.5 518.8h.4M43.5 507.3h.4M39.9 515.2h.4M53.2 525.2h.4M55.1 504.9h.4M47.7 507.6h.4M46.5 505.5h.4M50.9 503.5h.4M44.4 506.3h.4M49.6 500.5h.4M39.9 506.9h.4M50.1 517.5h.4M46.1 507.8h.4M48.6 503.3h.4M37.5 499.7h.4M43.7 504.0h.4M37.3 509.9h.4M52.3 498.6h.4M45.0 504.5h.4M54.0 516.8h.4M53.9 513.1h.4M58.4 513.0h.4M51.3 512.0h.4M56.5 509.2h.4M56.8 503.8h.4M42.4 507.6h.4M53.6 523.3h.4M48.6 500.2h.4M37.8 501.1h.4M47.6 504.8h.4M52.2 508.1h.4M45.8 526.7h.4M46.0 505.9h.4M41.4 503.1h.4M51.7 494.9h.4M47.7 502.1h.4M50.3 512.4h.4M49.2 515.0h.4M46.2 510.5h.4M43.5 495.6h.4M42.8 505.7h.4M53.2 521.7h.4M52.7 512.6h.4M44.0 520.6h.4M45.5 506.9h.4M62.9 514.8h.4M52.6 498.7h.4M52.4 503.1h.4M58.8 511.9h.4M38.3 505.1h.4M44.6 508.6h.4M56.9 498.8h.4M48.3 513.0h.4M43.7 504.7h.4M45.3 515.8h.4M55.0 499.3h.4M57.2 520.2h.4M47.7 510.4h.4M53.9 513.2h.4M47.8 509.6h.4M49.3 494.1h.4M55.8 510.2h.4M44.2 501.3h.4M39.2 509.2h.4M51.9 509.1h.4M56.4 506.0h.4M42.1 508.4h.4M60.5 518.2h.4M49.9 522.2h.4M43.6 503.6h.4M47.3 523.4h.4M50.3 501.1h.4M51.5 500.5h.4M45.0 510.0h.4M49.2 504.0h.4M50.0 502.4h.4M58.7 510.5h.4M52.0 518.5h.4M62.6 496.5h.4M50.9 498.7h.4M54.3 503.5h.4M46.6 513.2h.4M55.5 511.2h.4M51.7 513.2h.4M48.4 514.3h.4M58.5 512.7h.4M51.0 515.1h.4M42.5 513.2h.4M52.6 515.0h.4M50.4 511.1h.4M48.2 515.6h.4M46.4 516.6h.4M51.9 518.5h.4M42.2 513.9h.4M42.3 510.8h.4M59.5 516.0h.4M51.7 511.0h.4M50.1 515.3h.4M56.4 508.2h.4M49.5 510.6h.4M60.5 518.5h.4M50.2 513.1h.4M57.0 518.7h.4M48.0 516.6h.4M51.5 514.6h.4M42.9 519.9h.4M49.5 510.9h.4M43.4 518.3h.4M51.3 516.7h.4M50.6 510.0h.4M49.0 511.7h.4M44.7 514.4h.4M46.4 514.9h.4M50.7 512.5h.4M45.6 513.2h.4M55.0 517.0h.4M55.8 511.5h.4M45.7 514.6h.4M49.8 515.8h.4M52.0 509.9h.4M51.1 518.3h.4M49.4 513.8h.4M50.2 509.5h.4M53.4 515.2h.4M54.1 512.4h.4M46.5 510.9h.4M49.3 513.9h.4M52.7 511.2h.4M46.3 510.7h.4M47.5 516.4h.4M54.2 514.0h.4M55.4 515.2h.4M47.8 515.8h.4M43.8 511.9h.4M51.0 514.0h.4M46.8 513.0h.4M44.8 511.7h.4M63.1 515.7h.4M54.6 517.4h.4M42.5 516.1h.4M46.4 509.9h.4M47.3 514.3h.4M55.2 517.1h.4M50.7 517.5h.4M40.2 513.6h.4M52.9 521.0h.4M42.2 506.8h.4M48.9 513.2h.4M52.5 513.3h.4M45.4 512.7h.4M51.3 521.0h.4M51.3 474.7h.4M41.1 474.6h.4M48.4 478.7h.4M57.2 475.1h.4M57.6 472.8h.4M48.5 480.0h.4M49.7 482.5h.4M59.3 473.7h.4M48.2 469.9h.4M51.7 478.1h.4M57.9 480.0h.4M57.8 467.9h.4M48.4 477.3h.4M58.9 477.0h.4M54.8 471.2h.4M61.9 478.3h.4M42.6 475.9h.4M51.0 478.8h.4M63.2 469.6h.4M52.1 470.3h.4M52.4 485.2h.4M66.3 483.8h.4M51.9 483.4h.4M41.2 476.8h.4M50.6 469.2h.4M62.1 471.7h.4M62.1 476.2h.4M61.1 482.0h.4M63.5 471.8h.4M42.8 479.0h.4M53.5 485.0h.4M52.8 479.2h.4M62.5 480.0h.4M52.0 478.6h.4M62.1 486.5h.4M64.9 481.0h.4M45.3 483.7h.4M50.6 472.5h.4M52.2 473.0h.4M43.1 478.4h.4M45.8 483.7h.4M55.5 469.5h.4M56.4 480.5h.4M43.9 483.2h.4M49.9 475.9h.4M48.8 482.5h.4M55.9 487.4h.4M57.4 478.3h.4M62.0 476.8h.4M41.7 485.0h.4M61.4 481.3h.4M61.0 466.3h.4M56.5 468.9h.4M48.9 472.5h.4M61.4 472.4h.4M58.8 507.8h.4M59.1 492.7h.4M58.2 508.4h.4M58.7 500.1h.4M60.9 525.9h.4M65.8 493.2h.4M64.8 506.3h.4M63.8 507.5h.4M60.2 504.4h.4M62.9 517.1h.4M64.9 499.6h.4M65.6 526.9h.4M58.0 506.7h.4M59.4 505.9h.4M58.8 525.2h.4M65.8 496.4h.4M59.0 506.9h.4M63.9 500.1h.4M63.3 517.7h.4M59.6 506.1h.4M65.5 494.5h.4M61.5 507.1h.4M58.6 527.7h.4M60.1 512.1h.4M64.1 510.8h.4M65.6 517.6h.4M64.8 503.1h.4M62.5 496.9h.4M62.9 509.2h.4M65.5 499.0h.4M65.5 496.4h.4M64.7 497.6h.4M65.5 517.2h.4M59.6 520.0h.4M65.5 517.9h.4M61.5 496.3h.4M59.7 509.6h.4M60.8 496.3h.4M63.7 494.4h.4M59.0 522.8h.4M58.6 496.7h.4M60.2 519.6h.4M60.8 513.0h.4M61.0 499.9h.4M64.6 490.9h.4M60.8 489.5h.4M63.3 498.6h.4M65.4 516.2h.4M64.2 506.2h.4M62.5 510.3h.4M58.1 524.1h.4M59.0 506.3h.4M63.0 511.3h.4M60.1 503.0h.4M64.2 507.9h.4M64.0 516.1h.4M64.3 511.7h.4M63.4 522.5h.4M62.9 502.9h.4M65.4 502.4h.4M63.5 494.0h.4M64.3 491.2h.4M62.3 508.1h.4M64.5 518.7h.4M61.5 522.8h.4M63.8 500.1h.4M62.2 515.2h.4M65.3 509.1h.4M59.9 524.3h.4M65.7 496.8h.4M61.0 517.1h.4M65.6 504.7h.4M58.8 502.7h.4M58.6 520.5h.4M59.8 497.6h.4M63.8 504.7h.4M63.2 493.4h.4M58.1 508.4h.4M64.8 502.6h.4M65.2 502.3h.4M61.5 516.4h.4M59.8 512.5h.4M66.0 518.2h.4M63.3 526.1h.4M64.1 511.1h.4M58.4 513.3h.4M63.3 524.5h.4M58.8 520.3h.4M59.2 519.9h.4M64.8 501.0h.4M62.3 494.4h.4M62.5 527.5h.4M63.9 524.7h.4M64.4 496.3h.4M58.7 527.2h.4M65.7 502.5h.4M62.7 524.7h.4M60.5 503.5h.4M62.1 523.2h.4M58.5 511.5h.4M62.2 503.7h.4M59.5 505.9h.4M62.7 492.9h.4M63.8 507.3h.4M60.9 501.2h.4M63.2 496.5h.4M63.1 506.1h.4M58.5 498.3h.4M58.4 491.9h.4M59.9 495.0h.4M62.6 498.7h.4M61.0 517.4h.4M58.1 497.8h.4M59.3 498.6h.4M58.9 501.9h.4M58.8 508.6h.4M59.6 507.5h.4M62.0 497.6h.4M61.0 515.4h.4M58.0 496.4h.4M62.4 491.7h.4M61.6 526.8h.4M58.9 499.7h.4M62.6 500.6h.4M62.2 492.3h.4M63.2 506.1h.4M65.6 522.0h.4M59.3 491.8h.4M59.0 519.4h.4M60.6 496.3h.4M58.5 502.4h.4M62.9 526.9h.4M60.5 520.3h.4M65.8 504.0h.4M60.0 496.7h.4M62.7 501.0h.4M63.8 510.7h.4M62.8 514.6h.4M61.3 514.2h.4M58.5 506.2h.4M61.7 506.2h.4M64.1 512.6h.4M58.4 508.1h.4M64.4 524.5h.4M60.6 524.7h.4M60.7 520.6h.4M64.8 497.4h.4M63.1 508.2h.4M63.7 525.6h.4M59.3 527.3h.4M62.4 495.2h.4M60.6 508.4h.4M62.3 498.9h.4M59.0 522.6h.4M63.5 521.3h.4M65.4 522.7h.4M62.0 490.3h.4M65.3 501.7h.4M63.1 494.2h.4M61.1 514.9h.4M61.6 492.4h.4M60.9 505.5h.4M65.6 522.8h.4M65.5 516.1h.4M58.3 507.3h.4M65.3 504.5h.4M62.5 499.7h.4M65.8 501.1h.4M59.4 518.5h.4M62.8 521.3h.4M63.1 501.7h.4M64.6 509.4h.4M62.2 501.1h.4M64.0 516.6h.4M61.1 496.7h.4M59.2 492.2h.4M62.7 511.3h.4M62.2 520.0h.4M61.3 507.4h.4M60.4 507.2h.4M58.1 523.7h.4M64.4 510.7h.4M63.7 526.1h.4M60.4 525.5h.4M59.4 512.6h.4M63.2 491.0h.4M64.3 492.6h.4M59.2 498.1h.4M63.3 526.1h.4M62.9 490.3h.4M61.5 517.0h.4M58.5 513.1h.4M61.9 513.6h.4M61.0 512.0h.4M59.0 491.6h.4M58.8 504.0h.4M65.4 527.4h.4M59.8 499.2h.4M64.3 527.1h.4M65.4 507.5h.4M79.5 529.5h.4M67.8 524.9h.4M105.9 525.9h.4M79.7 528.2h.4M92.7 530.8h.4M101.5 529.4h.4M84.4 523.7h.4M67.3 525.6h.4M72.4 523.9h.4M69.8 530.6h.4M94.8 528.1h.4M87.2 528.7h.4M85.4 523.9h.4M95.5 530.2h.4M69.6 525.1h.4M92.3 527.9h.4M67.0 527.0h.4M94.3 524.5h.4M78.8 528.3h.4M86.4 522.7h.4M81.1 528.5h.4M87.3 524.5h.4M105.8 529.4h.4M94.0 527.4h.4M81.9 523.4h.4M92.0 523.2h.4M72.2 529.2h.4M76.3 530.7h.4M91.2 521.8h.4M89.5 529.2h.4M78.0 530.5h.4M86.6 525.4h.4M86.6 530.2h.4M86.8 525.8h.4M87.5 529.6h.4M94.3 525.8h.4M99.6 527.0h.4M86.1 526.6h.4M96.2 521.9h.4M86.2 528.4h.4M101.3 527.0h.4M98.4 526.7h.4M98.7 527.6h.4M105.3 524.4h.4M103.4 525.4h.4M89.9 528.6h.4M84.7 524.8h.4M81.9 523.4h.4M94.0 521.5h.4M89.2 522.1h.4M73.9 526.5h.4M72.0 528.2h.4M91.9 527.6h.4M79.0 526.5h.4M79.1 524.5h.4M103.7 520.9h.4M85.6 522.3h.4M103.4 530.6h.4M103.8 522.9h.4M86.6 526.7h.4M99.7 527.5h.4M82.5 526.6h.4M81.7 528.9h.4M102.3 526.2h.4M75.3 525.2h.4M98.6 530.0h.4M85.7 527.5h.4M72.1 529.1h.4M103.7 520.8h.4M81.9 525.2h.4M76.0 529.3h.4M68.5 529.6h.4M86.7 523.2h.4M67.5 525.0h.4M100.5 522.9h.4M84.1 530.4h.4M104.6 529.0h.4M96.7 529.0h.4M72.6 530.8h.4M101.9 528.5h.4M99.4 522.3h.4M90.5 527.6h.4M66.9 528.3h.4M74.6 529.7h.4M79.2 526.8h.4M102.4 526.5h.4M91.2 530.2h.4M78.9 527.1h.4M77.0 527.9h.4M87.2 528.6h.4M74.1 525.4h.4M72.0 526.3h.4M69.1 528.6h.4M80.1 524.9h.4M103.4 522.1h.4M94.4 528.1h.4M77.9 527.2h.4M86.9 530.6h.4M71.2 523.6h.4M86.1 527.8h.4M74.6 525.0h.4M96.9 522.1h.4M85.8 525.1h.4M104.4 520.4h.4M88.6 525.7h.4M102.1 522.7h.4M91.9 527.7h.4M89.7 528.5h.4M105.2 521.8h.4M85.5 526.3h.4M75.6 529.7h.4M76.0 529.8h.4M95.2 526.5h.4M66.8 530.3h.4M76.3 524.8h.4M76.1 523.9h.4M84.5 524.3h.4M89.0 526.6h.4M84.3 528.0h.4M105.9 525.9h.4M87.5 527.2h.4M99.7 529.2h.4M71.5 526.6h.4M89.7 529.2h.4M97.0 525.2h.4M80.0 529.9h.4M100.8 530.5h.4M76.6 526.7h.4M95.5 526.9h.4M91.3 528.5h.4M102.9 526.1h.4M87.0 525.5h.4M84.1 527.2h.4M103.9 525.5h.4M99.2 529.0h.4M73.0 529.5h.4M81.3 525.3h.4M85.3 524.5h.4M100.9 522.5h.4M86.5 525.1h.4M96.2 528.3h.4M68.7 525.4h.4M86.6 527.5h.4M73.1 530.2h.4M94.1 521.5h.4M105.8 525.8h.4M95.8 527.7h.4M83.7 525.2h.4M67.3 529.1h.4M90.9 528.1h.4M73.6 529.4h.4M93.5 523.6h.4M87.7 528.2h.4M99.6 529.2h.4M77.6 525.9h.4M103.4 528.4h.4M77.1 530.2h.4M76.1 524.9h.4M79.6 528.5h.4M67.0 524.7h.4M68.0 530.6h.4M103.3 529.6h.4M84.0 530.3h.4M96.4 521.9h.4M82.9 525.5h.4M71.9 526.8h.4M89.8 528.3h.4M101.2 529.0h.4M94.4 521.2h.4M92.7 527.0h.4M92.1 525.8h.4M105.1 523.0h.4M102.7 525.0h.4M101.1 529.0h.4M86.5 522.7h.4M89.4 530.8h.4M73.5 525.6h.4M104.9 528.2h.4M84.1 523.2h.4M76.4 526.1h.4M94.7 526.9h.4M98.5 521.9h.4M90.7 530.4h.4M73.6 523.5h.4M100.3 522.6h.4M94.6 521.3h.4M105.9 524.3h.4M84.5 524.5h.4M88.4 523.1h.4M87.1 526.2h.4M70.7 524.5h.4M99.8 524.4h.4M80.4 530.4h.4M84.9 522.9h.4M97.0 524.9h.4M82.7 522.6h.4M86.5 524.6h.4M85.9 524.2h.4M90.0 523.3h.4M73.0 525.8h.4M88.9 524.9h.4M100.8 530.5h.4M71.6 528.7h.4M102.7 522.1h.4M99.0 527.9h.4M85.3 526.8h.4M80.6 524.0h.4M93.0 529.5h.4M85.7 527.5h.4M92.8 527.2h.4M103.4 522.1h.4M71.9 527.4h.4M90.4 523.2h.4M67.0 526.0h.4M86.9 525.3h.4M78.1 526.2h.4M88.9 527.1h.4M71.2 525.3h.4M98.5 521.5h.4M93.7 530.7h.4M96.2 526.0h.4M87.4 529.0h.4M78.3 526.1h.4M102.7 530.7h.4M80.9 525.2h.4M70.4 525.9h.4M94.0 521.4h.4M93.9 526.9h.4M91.2 524.6h.4M71.7 528.7h.4M97.1 527.6h.4M93.6 521.5h.4M101.7 527.6h.4M105.1 520.8h.4M102.2 524.3h.4M67.3 528.2h.4M78.7 525.5h.4M104.2 523.2h.4M67.1 530.8h.4M72.6 528.9h.4M68.5 525.6h.4M90.6 526.4h.4M105.3 522.9h.4M77.5 526.1h.4M73.1 527.9h.4M94.0 524.3h.4M76.9 523.6h.4M86.2 524.9h.4M97.2 530.5h.4M72.9 524.9h.4M83.8 524.2h.4M105.4 531.0h.4M89.4 527.3h.4M85.4 522.4h.4M100.4 521.9h.4M67.2 530.4h.4M97.6 523.4h.4M93.6 521.6h.4M101.0 524.9h.4M88.2 525.9h.4" stroke="#000" stroke-width="0.6" stroke-linecap="square" fill="none" opacity="0.85"/>
<path d="M64.0,492.0 L68.0,487.0 L74.0,483.5 L80.6,481.2 L87.0,480.0 L93.6,479.5 L100.0,480.2 L106.0,481.0 L106.0,519.0 L100.0,522.5 L90.0,526.5 L80.0,527.5 L72.0,526.5 L65.5,524.0 L64.0,510.0Z" fill="#000" opacity="1" stroke="none" stroke-width="0"/>
<path d="M82.5,497.0 L84.5,492.5 L88.0,489.8 L94.0,489.0 L100.5,488.6 L104.5,490.5 L106.0,494.0 L106.0,502.0 L104.0,506.0 L99.0,509.0 L95.5,511.0 L98.5,514.0 L100.5,517.5 L98.5,521.5 L93.0,523.2 L86.0,522.8 L82.5,519.5 L84.5,515.5 L89.0,512.0 L86.0,508.5 L83.0,503.0Z" fill="#e2e2e2" opacity="1" stroke="none" stroke-width="0"/>
<path d="M84.5,497 C86.5,493 90,491.5 96,491 C101,490.8 104,492 104.5,496 C104,501 100.5,505 96,507 C91.5,508.5 87,506.5 84.5,502 Z" fill="none" stroke="#444" stroke-width="0.6" opacity="1"/>
<path d="M87,497.5 C89,495 93,494 98,494 C101,494.3 102,496 101.5,498.5 C100,501.5 97,503.5 93,503.5 C89.5,503.5 87.5,501 87,497.5 Z" fill="#bdbdbd" stroke="#333" stroke-width="0.55" opacity="1"/>
<path d="M90,498 C92,497 96,496.8 98.5,497.5 C97.5,499.5 95.5,500.5 93,500.5 C91,500.5 90,499.5 90,498 Z" fill="#888" stroke="#222" stroke-width="0.5" opacity="1"/>
<path d="M84.5,518.5 C86,515.5 89.5,514 93,514 C96.5,514 98.5,516 98,518.5 C97,521 94,521.8 90.5,521.8 C87,521.7 85,520.5 84.5,518.5 Z" fill="#c6c6c6" stroke="#444" stroke-width="0.55" opacity="1"/>
<ellipse cx="91.5" cy="518" rx="3.2" ry="1.4" fill="#8a8a8a" stroke="#222" stroke-width="0.5" opacity="1" transform="rotate(0 91.5 518)"/>
<path d="M82.5,497 L83,503 L86,508.5 L89,512 L84.5,515.5 L82.5,519.5" fill="none" stroke="#111" stroke-width="1.0" opacity="1"/>
<path d="M106,502 L104,506 L99,509 L95.5,511 L98.5,514 L100.5,517.5 L98.5,521.5" fill="none" stroke="#111" stroke-width="1.0" opacity="1"/>
</g>
<rect x="36.9" y="464.8" width="30.5" height="23.4" fill="none" stroke="#1f8440" stroke-width="1.3"/>
<rect x="36.9" y="494.0" width="26.6" height="33.1" fill="none" stroke="#2b2aa8" stroke-width="1.3"/>
<rect x="68.4" y="468.6" width="17.2" height="8" fill="#fff"/>
<text x="69.20" y="475.20" font-size="8" font-weight="bold" text-anchor="start" fill="#1f8440" stroke="#1f8440" stroke-width="0.22">0.02</text>
<rect x="64.9" y="520.1" width="12.8" height="8" fill="#fff"/>
<text x="65.70" y="526.70" font-size="8" font-weight="bold" text-anchor="start" fill="#2b2aa8" stroke="#2b2aa8" stroke-width="0.22">0.3</text>
<g clip-path="url(#c05)">
<path d="M77.6 575.6h.4M92.0 550.9h.4M94.7 575.1h.4M100.5 559.4h.4M92.7 567.6h.4M83.2 553.5h.4M89.1 553.7h.4M82.4 594.5h.4M98.8 601.9h.4M99.8 572.0h.4M77.9 549.3h.4M96.4 605.4h.4M101.2 567.4h.4M101.5 593.9h.4M95.0 598.8h.4M82.7 586.2h.4M99.2 577.5h.4M100.3 588.4h.4M83.4 586.6h.4M98.2 585.3h.4M83.9 548.6h.4M89.6 591.6h.4M98.6 603.0h.4M100.6 575.7h.4M85.5 578.4h.4M102.5 563.6h.4M81.9 601.1h.4M104.4 590.8h.4M105.3 595.9h.4M94.3 587.3h.4M92.4 600.2h.4M83.9 594.3h.4M96.9 570.8h.4M76.7 549.7h.4M102.4 589.4h.4M101.4 579.3h.4M85.8 571.8h.4M87.7 560.4h.4M85.7 571.2h.4M80.7 553.9h.4M103.1 599.6h.4M77.2 561.2h.4M91.3 572.1h.4M99.8 576.3h.4M85.3 582.4h.4M97.3 584.5h.4M78.9 607.1h.4M87.8 556.7h.4M86.8 552.5h.4M82.0 603.4h.4M81.4 602.3h.4M99.9 559.9h.4M103.2 549.3h.4M88.7 607.2h.4M85.3 598.5h.4M92.4 586.5h.4M104.1 596.3h.4M83.2 587.6h.4M87.4 584.1h.4M99.9 561.8h.4M83.2 554.3h.4M80.4 607.3h.4M101.2 554.6h.4M79.2 551.0h.4M95.2 593.1h.4M91.5 562.0h.4M84.1 559.9h.4M92.3 547.7h.4M102.2 593.4h.4M87.9 603.2h.4M102.8 580.4h.4M77.2 580.5h.4M85.4 595.1h.4M93.2 594.6h.4M82.9 560.9h.4M83.0 567.6h.4M92.0 573.9h.4M105.0 585.7h.4M94.8 563.0h.4M98.2 546.8h.4M94.1 607.1h.4M79.4 599.5h.4M84.1 566.4h.4M87.6 568.1h.4M103.9 573.5h.4M86.9 549.8h.4M104.0 577.1h.4M105.8 559.2h.4M85.9 580.0h.4M102.7 597.7h.4M100.9 549.3h.4M90.6 577.1h.4M98.0 555.6h.4M88.5 588.8h.4M76.3 573.4h.4M89.6 602.4h.4M105.8 592.0h.4M94.1 600.4h.4M97.3 550.2h.4M91.4 548.2h.4M81.5 592.9h.4M103.8 552.1h.4M96.9 591.9h.4M104.9 586.7h.4M98.0 583.5h.4M105.0 550.0h.4M88.5 566.9h.4M105.4 604.1h.4M85.1 555.9h.4M92.9 560.7h.4M105.2 588.9h.4M99.4 566.6h.4M92.1 581.4h.4M98.0 577.1h.4M88.3 556.7h.4M82.9 592.6h.4M95.7 584.3h.4M102.5 554.2h.4M101.7 568.0h.4M87.3 605.8h.4M86.7 561.1h.4M104.6 591.3h.4M90.2 585.8h.4M79.1 563.4h.4M91.8 594.1h.4M103.5 605.3h.4M101.9 598.7h.4M96.2 584.1h.4M79.4 586.5h.4M101.3 569.7h.4M79.6 557.7h.4M102.8 599.7h.4M84.6 555.9h.4M97.7 570.5h.4M84.4 601.7h.4M80.4 584.5h.4M104.9 551.5h.4M93.8 550.2h.4M94.5 549.8h.4M92.6 581.8h.4M99.0 569.7h.4M80.0 601.5h.4M95.3 587.0h.4M91.0 603.4h.4M92.2 560.0h.4M90.2 590.2h.4M90.1 572.3h.4M85.5 562.5h.4M86.9 566.9h.4M96.8 582.1h.4M76.2 567.5h.4M76.0 590.1h.4M83.9 598.6h.4M95.5 586.8h.4M99.7 582.2h.4M98.1 594.3h.4M78.1 587.8h.4M101.3 561.2h.4M87.4 599.5h.4M103.9 559.9h.4M90.9 575.7h.4M93.4 557.8h.4M87.5 598.8h.4M83.1 599.1h.4M105.0 549.9h.4M103.3 561.7h.4M79.7 574.8h.4M106.0 582.5h.4M84.2 581.6h.4M97.3 555.8h.4M104.2 574.3h.4M80.4 586.1h.4M91.2 563.1h.4M102.4 546.1h.4M84.5 583.3h.4M98.8 554.2h.4M81.7 569.5h.4M88.9 575.2h.4M78.4 593.4h.4M76.4 585.2h.4M94.6 559.5h.4M83.8 603.2h.4M97.9 562.3h.4M79.2 593.4h.4M79.8 556.3h.4M96.9 580.9h.4M97.0 551.0h.4M86.1 607.0h.4M96.9 567.7h.4M85.6 550.9h.4M83.2 583.8h.4M83.9 589.3h.4M96.2 597.3h.4M92.6 593.7h.4M92.6 554.9h.4M83.0 568.3h.4M93.0 596.7h.4M101.1 569.9h.4M100.7 564.3h.4M93.5 588.2h.4M97.1 590.7h.4M97.1 560.9h.4M101.6 591.7h.4M101.1 562.5h.4M87.8 566.4h.4M101.2 578.0h.4M95.1 599.6h.4M87.1 577.9h.4M90.7 564.6h.4M91.3 582.1h.4M78.5 581.3h.4M86.6 557.6h.4M96.1 598.2h.4M96.6 597.6h.4M81.3 570.7h.4M82.9 549.4h.4M96.0 553.9h.4M101.0 577.1h.4M89.2 599.0h.4M85.5 600.2h.4M97.3 586.8h.4M100.4 577.0h.4M87.1 588.9h.4M81.2 590.8h.4M79.2 603.1h.4M104.2 563.5h.4M86.1 588.3h.4M104.6 575.5h.4M89.4 577.3h.4M79.3 598.8h.4M42.3 552.7h.4M52.0 559.4h.4M46.6 574.9h.4M54.5 572.1h.4M43.3 562.5h.4M59.2 568.0h.4M60.3 571.4h.4M52.9 559.7h.4M43.8 554.2h.4M44.5 559.1h.4M50.5 559.3h.4M51.9 570.5h.4M46.2 564.6h.4M59.8 555.4h.4M47.0 570.4h.4M52.9 568.2h.4M50.2 579.6h.4M47.0 562.2h.4M55.6 558.8h.4M62.9 566.0h.4M49.8 548.7h.4M62.8 574.4h.4M55.5 572.8h.4M62.5 562.1h.4M41.2 570.4h.4M38.5 561.5h.4M50.2 555.1h.4M50.2 550.9h.4M49.6 575.2h.4M45.5 560.9h.4M40.8 559.2h.4M44.7 546.8h.4M58.0 576.9h.4M50.6 562.2h.4M63.7 568.5h.4M60.9 561.9h.4M40.1 562.7h.4M44.6 567.4h.4M48.9 554.9h.4M47.9 561.4h.4M71.5 562.0h.4M47.9 576.1h.4M54.9 577.2h.4M39.1 565.0h.4M48.6 561.2h.4M37.2 561.9h.4M54.8 570.0h.4M44.8 561.9h.4M51.2 557.0h.4M39.9 564.9h.4M57.4 575.3h.4M54.7 563.0h.4M51.8 551.5h.4M46.3 546.6h.4M45.6 549.5h.4M48.0 555.5h.4M51.6 557.2h.4M55.0 551.7h.4M60.4 575.7h.4M48.6 554.3h.4M52.6 554.3h.4M51.8 561.6h.4M60.7 568.8h.4M40.5 563.1h.4M45.1 573.9h.4M58.9 562.4h.4M51.4 555.0h.4M40.6 565.0h.4M53.7 556.7h.4M63.2 566.8h.4M63.7 550.1h.4M46.9 566.9h.4M55.4 565.8h.4M43.4 560.6h.4M38.8 568.2h.4M42.6 564.5h.4M57.9 576.1h.4M59.6 564.5h.4M41.5 571.1h.4M46.1 561.7h.4M53.3 561.7h.4M57.3 565.3h.4M43.7 553.8h.4M59.5 568.8h.4M46.3 551.2h.4M43.9 559.1h.4M53.6 564.7h.4M56.1 569.8h.4M43.9 555.1h.4M46.6 556.4h.4M42.6 596.7h.4M61.8 591.3h.4M41.7 604.9h.4M40.3 598.4h.4M48.8 592.9h.4M63.8 587.3h.4M61.5 604.9h.4M62.1 606.7h.4M60.6 584.0h.4M46.7 584.3h.4M45.6 593.6h.4M49.3 604.5h.4M65.6 599.7h.4M52.6 603.8h.4M39.3 583.1h.4M63.6 595.3h.4M62.8 598.9h.4M53.4 591.6h.4M59.3 605.6h.4M52.9 587.9h.4M49.1 589.4h.4M62.0 590.4h.4M53.5 592.0h.4M39.2 604.9h.4M57.0 600.2h.4M46.6 605.8h.4M51.1 591.9h.4M38.5 599.2h.4M56.5 598.1h.4M40.9 593.2h.4M50.7 582.7h.4M37.9 595.1h.4M40.3 599.0h.4M43.7 602.0h.4M46.7 591.1h.4M47.7 600.2h.4M54.9 603.9h.4M46.4 604.6h.4M43.6 603.1h.4M61.8 599.6h.4M44.0 584.1h.4M46.9 593.3h.4M66.2 588.0h.4M57.4 592.9h.4M39.6 606.7h.4M44.0 584.8h.4M41.1 583.1h.4M55.3 582.3h.4M59.1 587.3h.4M45.9 603.1h.4" stroke="#000" stroke-width="0.6" stroke-linecap="square" fill="none" opacity="0.75"/>
<path d="M62.1 561.8h.4M72.9 576.0h.4M74.3 575.8h.4M70.2 570.2h.4M66.7 573.5h.4M71.9 571.9h.4M71.4 574.8h.4M69.9 572.6h.4M74.2 580.4h.4M74.1 579.8h.4M75.1 574.7h.4M66.0 568.0h.4M72.7 576.8h.4M60.6 564.5h.4M72.4 573.8h.4M65.7 571.0h.4M76.5 575.4h.4M60.6 568.9h.4M69.2 573.0h.4M61.2 567.8h.4M64.1 569.1h.4M67.8 570.1h.4M73.4 572.3h.4M65.9 571.6h.4M75.4 576.5h.4M66.2 572.0h.4M74.8 574.5h.4M66.7 572.6h.4M70.7 574.6h.4M63.8 567.7h.4M71.2 575.3h.4M67.4 571.4h.4M72.9 573.5h.4M67.7 573.0h.4M63.8 568.7h.4M64.1 570.0h.4M68.5 571.7h.4M67.3 574.4h.4M65.9 570.7h.4M65.1 566.1h.4M73.2 576.8h.4M70.5 573.2h.4M75.3 575.1h.4M60.6 569.0h.4M65.0 566.6h.4M64.6 569.1h.4M63.5 570.2h.4M69.8 573.1h.4M76.5 576.3h.4M66.2 569.9h.4M60.8 564.8h.4M69.8 572.1h.4M65.5 568.9h.4M66.8 566.3h.4M75.9 576.7h.4M74.7 573.1h.4M61.4 567.1h.4M57.9 564.1h.4M76.0 577.1h.4M67.4 569.5h.4M67.1 569.2h.4M59.0 568.0h.4M61.7 565.8h.4M69.9 573.1h.4M67.0 573.6h.4M61.5 570.3h.4M64.1 566.1h.4M76.5 574.6h.4M63.2 564.6h.4M75.1 575.7h.4M73.1 572.8h.4M59.9 566.3h.4M59.2 565.4h.4M73.7 575.0h.4M70.6 575.5h.4M63.2 566.4h.4M64.3 569.0h.4M62.5 566.7h.4M62.4 569.9h.4M74.9 575.2h.4M74.8 576.2h.4M70.5 573.1h.4M75.1 575.0h.4M72.9 575.9h.4M66.6 570.9h.4M69.1 575.8h.4M58.8 568.7h.4M69.5 573.6h.4M60.0 566.1h.4M68.0 572.6h.4M64.8 569.4h.4M72.5 574.1h.4M67.9 575.7h.4M70.8 573.8h.4M61.3 563.8h.4M75.5 575.6h.4M67.9 571.0h.4M75.3 579.8h.4M69.0 570.3h.4M73.0 575.8h.4M69.3 571.4h.4M62.6 567.2h.4M73.3 576.6h.4M65.2 568.3h.4M64.5 568.6h.4M76.9 574.7h.4M73.1 573.7h.4M60.3 567.2h.4M61.9 568.3h.4M59.3 568.0h.4M70.6 570.5h.4M63.6 566.5h.4M64.8 573.0h.4M71.0 574.4h.4M61.0 563.4h.4M66.5 565.6h.4M62.8 566.5h.4M74.6 576.6h.4M62.7 573.8h.4M67.8 571.4h.4M71.4 573.5h.4M63.9 566.1h.4M62.3 565.7h.4M64.7 572.5h.4M62.6 568.2h.4M67.0 567.8h.4M66.8 568.7h.4M65.8 570.9h.4M70.4 574.6h.4M59.9 567.3h.4M63.9 568.1h.4M69.4 571.8h.4M62.8 565.6h.4M63.9 569.8h.4M74.4 575.8h.4M63.1 570.2h.4M68.3 569.9h.4M71.9 572.2h.4M72.2 570.9h.4M69.9 572.7h.4M61.0 566.1h.4M64.3 570.6h.4M67.6 569.8h.4M72.6 573.5h.4M68.8 574.8h.4M67.2 572.6h.4M66.2 569.4h.4M70.1 570.6h.4M71.0 574.4h.4M70.7 572.4h.4M61.4 567.2h.4M73.3 572.6h.4M67.7 572.0h.4M72.9 577.2h.4M63.2 571.0h.4M60.0 567.7h.4M68.7 572.4h.4M76.7 575.1h.4M74.3 575.4h.4M62.6 568.3h.4M73.0 597.4h.4M80.7 597.9h.4M79.4 596.3h.4M54.4 598.2h.4M81.9 597.1h.4M56.0 598.9h.4M88.3 597.2h.4M75.5 597.7h.4M70.9 597.8h.4M67.0 599.7h.4M69.8 599.0h.4M84.8 598.2h.4M56.0 599.2h.4M74.7 597.0h.4M73.0 596.9h.4M71.2 597.7h.4M61.7 598.8h.4M86.2 597.5h.4M81.2 598.5h.4M76.4 599.1h.4M58.2 599.9h.4M81.8 598.8h.4M69.6 598.6h.4M74.1 598.0h.4M57.2 597.7h.4M59.5 598.9h.4M61.3 600.2h.4M54.4 598.9h.4M81.8 598.1h.4M66.0 598.9h.4M59.5 600.3h.4M62.3 597.4h.4M82.4 598.2h.4M65.7 598.5h.4M78.3 599.7h.4M82.7 598.2h.4M85.1 599.6h.4M76.7 598.6h.4M88.8 599.2h.4M64.3 598.6h.4M65.7 598.1h.4M75.9 599.3h.4M66.9 597.6h.4M54.4 599.5h.4M58.7 599.6h.4M72.1 598.5h.4M75.2 598.2h.4M56.8 598.5h.4M71.0 598.8h.4M75.1 599.7h.4M61.9 598.6h.4M78.7 597.4h.4M54.6 597.7h.4M71.2 597.7h.4M56.1 598.3h.4M72.8 597.6h.4M70.8 598.9h.4M70.1 600.6h.4M80.9 598.2h.4M69.8 598.0h.4M74.1 598.3h.4M81.7 598.5h.4M72.2 598.1h.4M78.7 599.9h.4M81.7 597.7h.4M80.1 599.2h.4M60.9 599.6h.4M63.8 598.3h.4M70.1 599.0h.4M70.0 599.3h.4M60.2 598.5h.4M79.2 600.1h.4M64.2 598.7h.4M56.6 598.4h.4M59.4 599.2h.4M74.7 597.6h.4M58.5 598.6h.4M64.9 598.0h.4M64.4 598.5h.4M70.8 599.5h.4M66.6 597.5h.4M54.9 599.4h.4M59.3 597.9h.4M80.6 598.6h.4M59.0 599.4h.4M60.5 599.1h.4M79.1 600.1h.4M80.6 599.0h.4M73.8 598.3h.4M80.9 598.5h.4M62.8 598.4h.4M61.7 598.0h.4M77.6 598.6h.4M54.2 597.7h.4M61.1 599.0h.4M85.8 598.5h.4M60.2 599.7h.4M65.0 598.5h.4M72.4 598.4h.4M56.3 597.9h.4M84.7 598.5h.4M71.6 598.7h.4M85.1 599.1h.4M68.8 597.0h.4M56.8 599.3h.4M60.8 597.6h.4M63.4 599.2h.4M85.6 597.5h.4M53.6 598.3h.4M80.5 598.4h.4M55.5 597.6h.4M60.9 599.7h.4M74.3 599.0h.4M59.8 598.1h.4M68.0 597.0h.4M78.4 598.6h.4M66.9 598.2h.4M77.3 598.1h.4M67.6 598.8h.4M69.4 597.6h.4M64.7 597.0h.4M55.5 597.8h.4M80.8 597.0h.4M59.1 599.3h.4M63.4 598.5h.4M80.8 600.7h.4M60.5 598.0h.4M62.3 598.3h.4M66.7 597.1h.4M77.7 600.0h.4M55.4 599.6h.4M72.0 599.3h.4M80.0 598.1h.4M79.9 596.9h.4M69.5 598.5h.4M75.7 599.0h.4M70.2 598.9h.4M83.3 598.7h.4M78.3 597.6h.4M73.2 599.0h.4M66.6 587.1h.4M64.7 602.9h.4M58.3 587.0h.4M62.3 589.4h.4M59.5 594.8h.4M64.8 597.4h.4M56.8 598.3h.4M61.3 594.7h.4M66.5 594.2h.4M70.2 591.9h.4M58.2 587.3h.4M68.8 594.1h.4M59.7 591.4h.4M67.9 594.3h.4M66.3 595.0h.4M67.6 594.0h.4M71.7 595.3h.4M62.1 591.7h.4M71.9 593.6h.4M65.3 586.8h.4M54.8 594.0h.4M61.5 585.6h.4M61.7 594.6h.4M56.7 593.9h.4M66.2 590.3h.4M62.2 593.9h.4M66.6 601.6h.4M67.8 593.2h.4M66.2 591.2h.4M65.7 588.9h.4M58.8 595.2h.4M64.6 594.0h.4M67.6 595.4h.4M61.9 592.9h.4M61.0 593.5h.4M59.2 590.9h.4M60.1 591.6h.4M67.1 590.0h.4M61.8 585.4h.4M60.8 593.5h.4M57.2 590.6h.4M62.1 587.9h.4M59.4 592.6h.4M62.8 594.7h.4M58.4 598.4h.4M66.0 594.7h.4M60.6 592.0h.4M71.0 600.2h.4M62.3 590.9h.4M66.3 592.6h.4M64.5 600.8h.4M59.7 594.9h.4M51.4 591.6h.4M62.1 598.4h.4M61.1 592.8h.4M64.7 595.1h.4M62.3 586.8h.4M66.6 596.2h.4M62.8 590.7h.4M56.8 592.7h.4M100.0 566.5h.4M100.4 559.2h.4M104.4 568.7h.4M102.4 574.7h.4M100.2 562.0h.4M96.9 566.4h.4M104.7 580.9h.4M106.1 578.9h.4M103.4 565.8h.4M100.4 567.4h.4M101.4 560.7h.4M103.2 577.6h.4M100.2 554.1h.4M100.7 583.2h.4M98.3 578.7h.4M99.6 569.5h.4M102.3 571.1h.4M104.5 567.3h.4M98.7 553.9h.4M97.4 580.0h.4M102.6 583.2h.4M98.5 563.4h.4M102.6 566.3h.4M97.7 579.0h.4M101.3 566.0h.4M101.4 571.6h.4M101.1 570.1h.4M106.2 563.5h.4M102.9 566.9h.4M100.3 572.7h.4M98.3 577.2h.4M106.5 548.7h.4M98.5 583.3h.4M105.8 552.6h.4M102.0 585.5h.4M106.3 574.6h.4M104.3 566.4h.4M99.2 579.8h.4M99.1 580.9h.4M103.2 572.5h.4M104.1 572.3h.4M99.5 568.3h.4M97.6 585.3h.4M100.7 550.0h.4M104.6 566.3h.4M104.2 580.3h.4M102.6 564.7h.4M101.0 572.6h.4M103.3 563.2h.4M96.8 574.7h.4M105.6 573.0h.4M98.3 586.1h.4M106.7 575.7h.4M99.5 567.9h.4M106.6 552.4h.4M96.8 590.2h.4M97.1 564.0h.4M99.9 573.3h.4M107.0 573.2h.4M98.3 572.8h.4M95.4 574.0h.4M104.7 586.0h.4M98.7 569.9h.4M97.2 579.9h.4M98.6 567.6h.4M102.2 580.0h.4M99.0 565.3h.4M98.6 576.5h.4M96.5 571.4h.4M101.3 578.3h.4M101.9 573.5h.4M102.7 561.6h.4M107.9 581.9h.4M102.0 574.8h.4M96.8 555.2h.4M100.4 571.1h.4M101.8 561.7h.4M102.5 553.9h.4M105.3 570.1h.4M104.4 554.9h.4M101.6 587.7h.4M100.0 580.1h.4M99.4 569.7h.4M99.5 569.4h.4M98.7 598.9h.4M97.7 579.4h.4M100.4 579.8h.4M100.7 568.5h.4M99.8 561.3h.4M101.7 566.2h.4M101.9 575.4h.4M99.5 587.2h.4M102.8 563.6h.4M101.0 576.4h.4M102.6 568.5h.4M97.8 549.9h.4M99.1 584.0h.4M100.3 576.7h.4M101.0 575.0h.4M101.5 570.5h.4M105.9 557.3h.4M104.5 565.2h.4M101.0 569.5h.4M109.5 593.8h.4M101.8 584.7h.4M103.6 564.2h.4M104.4 557.2h.4M103.4 565.3h.4M93.5 564.0h.4M104.5 565.7h.4M102.8 570.3h.4M102.4 579.1h.4M101.0 550.6h.4M100.6 581.8h.4M94.6 573.8h.4M102.3 582.6h.4M98.2 556.9h.4M103.2 554.3h.4M105.2 577.9h.4M102.5 580.0h.4M107.5 579.5h.4M100.5 581.6h.4M99.9 555.7h.4M100.4 568.0h.4M100.0 588.1h.4M95.4 555.0h.4M97.6 575.3h.4M107.8 577.5h.4M106.7 562.3h.4M103.9 572.2h.4M92.4 565.5h.4M103.0 577.5h.4M102.6 559.3h.4M104.8 569.0h.4M100.1 552.6h.4M96.0 576.4h.4M101.7 574.3h.4M96.5 574.6h.4M104.7 552.2h.4M104.6 555.5h.4M105.1 564.6h.4M103.2 555.9h.4M104.6 575.8h.4M105.8 583.9h.4M104.4 569.2h.4M101.6 569.2h.4M98.9 569.6h.4M99.7 562.7h.4M103.4 576.4h.4M104.1 564.3h.4M104.2 566.0h.4M103.1 568.6h.4M96.2 583.7h.4M103.0 587.0h.4M106.8 570.6h.4M101.7 567.2h.4M107.4 556.3h.4M99.9 561.3h.4M101.0 560.9h.4M101.5 571.5h.4" stroke="#000" stroke-width="0.6" stroke-linecap="square" fill="none" opacity="0.9"/>
<path d="M41,557 C44,551 52,549 58,551.5 C64,554 70,558 75,563 C70,568 63,572.5 56,574.5 C48,576 42,572 40.8,566 Z" fill="#f2f2f2" stroke="#555" stroke-width="0.6" opacity="1"/>
<path d="M42.5,558 C45,553.5 52,552 57,554 C62,556 67,559.5 71,563.5 C66.5,567 61,570.5 55,572 C48,573 43.5,569.5 42.5,564.5 Z" fill="none" stroke="#555" stroke-width="0.55" opacity="1"/>
<path d="M58,553 C64,551 70,553 74,557 M60,572 C66,573 71,572 75,569" fill="none" stroke="#666" stroke-width="0.5" opacity="1"/>
<ellipse cx="49.6" cy="562.8" rx="7.6" ry="7.4" fill="#d4d4d4" stroke="#444" stroke-width="0.6" opacity="1" transform="rotate(0 49.6 562.8)"/>
<ellipse cx="49.6" cy="562.8" rx="6.0" ry="5.8" fill="#b4b4b4" stroke="#333" stroke-width="0.55" opacity="1" transform="rotate(0 49.6 562.8)"/>
<ellipse cx="49.4" cy="563.0" rx="4.4" ry="4.2" fill="#8c8c8c" stroke="#222" stroke-width="0.6" opacity="1" transform="rotate(0 49.4 563.0)"/>
<ellipse cx="49.3" cy="563.1" rx="2.8" ry="2.7" fill="#5e5e5e" stroke="#111" stroke-width="0.6" opacity="1" transform="rotate(0 49.3 563.1)"/>
<ellipse cx="49.2" cy="563.2" rx="1.2" ry="1.2" fill="#d0d0d0" stroke="#000" stroke-width="0.5" opacity="1" transform="rotate(0 49.2 563.2)"/>
<path d="M78,553 C82,550 90,551 93,555 C96,561 93,571 90,578 C88,584 88,590 90,596" fill="none" stroke="#333" stroke-width="0.7" opacity="1"/>
<path d="M80,558 C82,556 84,557 85,560 C85.5,566 83.5,574 82,582 C81,588 81,592 82,596" fill="none" stroke="#555" stroke-width="0.55" opacity="1"/>
<path d="M93,553 C97,549 102,549 106,551" fill="none" stroke="#444" stroke-width="0.6" opacity="1"/>
<ellipse cx="87.8" cy="566" rx="2.3" ry="4.0" fill="#fff" stroke="#222" stroke-width="0.8" opacity="1" transform="rotate(0 87.8 566)"/>
<ellipse cx="103.5" cy="570" rx="6.5" ry="13" fill="#666" stroke="#222" stroke-width="0.7" opacity="1" transform="rotate(0 103.5 570)"/>
<ellipse cx="103.5" cy="570" rx="4.0" ry="9" fill="#3a3a3a" stroke="#111" stroke-width="0.6" opacity="1" transform="rotate(0 103.5 570)"/>
<ellipse cx="103.5" cy="570" rx="2.0" ry="5" fill="#777" stroke="#000" stroke-width="0.5" opacity="1" transform="rotate(0 103.5 570)"/>
<ellipse cx="103.5" cy="570" rx="9" ry="17" fill="none" stroke="#555" stroke-width="0.55" opacity="1" transform="rotate(0 103.5 570)"/>
<path d="M74,585 C78,590 83,592 88,590 C93,588 97,592 100,600" fill="none" stroke="#666" stroke-width="0.5" opacity="1"/>
<ellipse cx="90.7" cy="598.2" rx="4.4" ry="2.0" fill="#1a1a1a" stroke="#000" stroke-width="1.1" opacity="1" transform="rotate(0 90.7 598.2)"/>
<ellipse cx="90.7" cy="598.2" rx="2.0" ry="0.7" fill="#c8c8c8" stroke="#fff" stroke-width="0.4" opacity="1" transform="rotate(0 90.7 598.2)"/>
<path d="M40,584 C43,590 46,596 48,602 M56,584 C53,590 50,596 48,602 M44,596 C49,593 54,594 60,598" fill="none" stroke="#888" stroke-width="0.5" opacity="1"/>
</g>
<rect x="36.9" y="544.6" width="38.5" height="33.6" fill="none" stroke="#1f8440" stroke-width="1.3"/>
<rect x="36.9" y="581.5" width="29.7" height="25.5" fill="none" stroke="#2b2aa8" stroke-width="1.3"/>
<rect x="78.1" y="545.2" width="17.2" height="8" fill="#fff"/>
<text x="78.90" y="551.80" font-size="8" font-weight="bold" text-anchor="start" fill="#1f8440" stroke="#1f8440" stroke-width="0.22">27.5</text>
<rect x="68.0" y="582.5" width="12.8" height="8" fill="#fff"/>
<text x="68.80" y="589.10" font-size="8" font-weight="bold" text-anchor="start" fill="#2b2aa8" stroke="#2b2aa8" stroke-width="0.22">4.8</text>
<rect x="33.9" y="144.9" width="72.2" height="71.9" fill="none" stroke="#000" stroke-width="1.5"/>
<path d="M33.9,215.8h-3.2M33.9,210.6h-2.6M33.9,207.6h-2.6M33.9,205.4h-2.6M33.9,203.8h-2.6M33.9,202.4h-2.6M33.9,201.2h-2.6M33.9,200.2h-2.6M33.9,199.4h-2.6M33.9,198.6h-3.2M33.9,193.4h-2.6M33.9,190.4h-2.6M33.9,188.2h-2.6M33.9,186.5h-2.6M33.9,185.2h-2.6M33.9,184.0h-2.6M33.9,183.0h-2.6M33.9,182.1h-2.6M33.9,181.4h-3.2M33.9,176.2h-2.6M33.9,173.1h-2.6M33.9,171.0h-2.6M33.9,169.3h-2.6M33.9,167.9h-2.6M33.9,166.8h-2.6M33.9,165.8h-2.6M33.9,164.9h-2.6M33.9,164.1h-3.2M33.9,158.9h-2.6M33.9,155.9h-2.6M33.9,153.8h-2.6M33.9,152.1h-2.6M33.9,150.7h-2.6M33.9,149.6h-2.6M33.9,148.6h-2.6M33.9,147.7h-2.6M35.9,216.8v3.4M41.1,216.8v2.8M44.2,216.8v2.8M46.3,216.8v2.8M48.0,216.8v2.8M49.4,216.8v2.8M50.5,216.8v2.8M51.5,216.8v2.8M52.4,216.8v2.8M53.2,216.8v3.4M58.4,216.8v2.8M61.5,216.8v2.8M63.6,216.8v2.8M65.3,216.8v2.8M66.7,216.8v2.8M67.8,216.8v2.8M68.8,216.8v2.8M69.7,216.8v2.8M70.5,216.8v3.4M75.7,216.8v2.8M78.8,216.8v2.8M80.9,216.8v2.8M82.6,216.8v2.8M84.0,216.8v2.8M85.1,216.8v2.8M86.1,216.8v2.8M87.0,216.8v2.8M87.8,216.8v3.4M93.0,216.8v2.8M96.1,216.8v2.8M98.2,216.8v2.8M99.9,216.8v2.8M101.3,216.8v2.8M102.4,216.8v2.8M103.4,216.8v2.8M104.3,216.8v2.8" stroke="#000" stroke-width="1.05" fill="none"/>
<rect x="33.9" y="222.9" width="72.2" height="72.5" fill="none" stroke="#000" stroke-width="1.5"/>
<path d="M33.9,294.4h-3.2M33.9,289.2h-2.6M33.9,286.1h-2.6M33.9,283.9h-2.6M33.9,282.3h-2.6M33.9,280.9h-2.6M33.9,279.7h-2.6M33.9,278.7h-2.6M33.9,277.8h-2.6M33.9,277.0h-3.2M33.9,271.8h-2.6M33.9,268.7h-2.6M33.9,266.6h-2.6M33.9,264.9h-2.6M33.9,263.5h-2.6M33.9,262.3h-2.6M33.9,261.3h-2.6M33.9,260.4h-2.6M33.9,259.6h-3.2M33.9,254.4h-2.6M33.9,251.4h-2.6M33.9,249.2h-2.6M33.9,247.5h-2.6M33.9,246.1h-2.6M33.9,245.0h-2.6M33.9,244.0h-2.6M33.9,243.1h-2.6M33.9,242.3h-3.2M33.9,237.0h-2.6M33.9,234.0h-2.6M33.9,231.8h-2.6M33.9,230.1h-2.6M33.9,228.8h-2.6M33.9,227.6h-2.6M33.9,226.6h-2.6M33.9,225.7h-2.6M35.9,295.4v3.4M41.1,295.4v2.8M44.2,295.4v2.8M46.3,295.4v2.8M48.0,295.4v2.8M49.4,295.4v2.8M50.5,295.4v2.8M51.5,295.4v2.8M52.4,295.4v2.8M53.2,295.4v3.4M58.4,295.4v2.8M61.5,295.4v2.8M63.6,295.4v2.8M65.3,295.4v2.8M66.7,295.4v2.8M67.8,295.4v2.8M68.8,295.4v2.8M69.7,295.4v2.8M70.5,295.4v3.4M75.7,295.4v2.8M78.8,295.4v2.8M80.9,295.4v2.8M82.6,295.4v2.8M84.0,295.4v2.8M85.1,295.4v2.8M86.1,295.4v2.8M87.0,295.4v2.8M87.8,295.4v3.4M93.0,295.4v2.8M96.1,295.4v2.8M98.2,295.4v2.8M99.9,295.4v2.8M101.3,295.4v2.8M102.4,295.4v2.8M103.4,295.4v2.8M104.3,295.4v2.8" stroke="#000" stroke-width="1.05" fill="none"/>
<rect x="33.9" y="301.9" width="72.2" height="71.5" fill="none" stroke="#000" stroke-width="1.5"/>
<path d="M33.9,372.4h-3.2M33.9,367.2h-2.6M33.9,364.2h-2.6M33.9,362.1h-2.6M33.9,360.4h-2.6M33.9,359.1h-2.6M33.9,357.9h-2.6M33.9,356.9h-2.6M33.9,356.1h-2.6M33.9,355.3h-3.2M33.9,350.1h-2.6M33.9,347.1h-2.6M33.9,345.0h-2.6M33.9,343.3h-2.6M33.9,341.9h-2.6M33.9,340.8h-2.6M33.9,339.8h-2.6M33.9,338.9h-2.6M33.9,338.1h-3.2M33.9,333.0h-2.6M33.9,330.0h-2.6M33.9,327.8h-2.6M33.9,326.2h-2.6M33.9,324.8h-2.6M33.9,323.7h-2.6M33.9,322.7h-2.6M33.9,321.8h-2.6M33.9,321.0h-3.2M33.9,315.9h-2.6M33.9,312.9h-2.6M33.9,310.7h-2.6M33.9,309.1h-2.6M33.9,307.7h-2.6M33.9,306.6h-2.6M33.9,305.6h-2.6M33.9,304.7h-2.6M35.9,373.4v3.4M41.1,373.4v2.8M44.2,373.4v2.8M46.3,373.4v2.8M48.0,373.4v2.8M49.4,373.4v2.8M50.5,373.4v2.8M51.5,373.4v2.8M52.4,373.4v2.8M53.2,373.4v3.4M58.4,373.4v2.8M61.5,373.4v2.8M63.6,373.4v2.8M65.3,373.4v2.8M66.7,373.4v2.8M67.8,373.4v2.8M68.8,373.4v2.8M69.7,373.4v2.8M70.5,373.4v3.4M75.7,373.4v2.8M78.8,373.4v2.8M80.9,373.4v2.8M82.6,373.4v2.8M84.0,373.4v2.8M85.1,373.4v2.8M86.1,373.4v2.8M87.0,373.4v2.8M87.8,373.4v3.4M93.0,373.4v2.8M96.1,373.4v2.8M98.2,373.4v2.8M99.9,373.4v2.8M101.3,373.4v2.8M102.4,373.4v2.8M103.4,373.4v2.8M104.3,373.4v2.8" stroke="#000" stroke-width="1.05" fill="none"/>
<rect x="33.9" y="379.4" width="72.2" height="72.8" fill="none" stroke="#000" stroke-width="1.5"/>
<path d="M33.9,451.2h-3.2M33.9,445.9h-2.6M33.9,442.9h-2.6M33.9,440.7h-2.6M33.9,439.0h-2.6M33.9,437.6h-2.6M33.9,436.5h-2.6M33.9,435.4h-2.6M33.9,434.5h-2.6M33.9,433.8h-3.2M33.9,428.5h-2.6M33.9,425.4h-2.6M33.9,423.2h-2.6M33.9,421.6h-2.6M33.9,420.2h-2.6M33.9,419.0h-2.6M33.9,418.0h-2.6M33.9,417.1h-2.6M33.9,416.3h-3.2M33.9,411.0h-2.6M33.9,408.0h-2.6M33.9,405.8h-2.6M33.9,404.1h-2.6M33.9,402.7h-2.6M33.9,401.6h-2.6M33.9,400.5h-2.6M33.9,399.6h-2.6M33.9,398.8h-3.2M33.9,393.6h-2.6M33.9,390.5h-2.6M33.9,388.3h-2.6M33.9,386.7h-2.6M33.9,385.3h-2.6M33.9,384.1h-2.6M33.9,383.1h-2.6M33.9,382.2h-2.6M35.9,452.2v3.4M41.1,452.2v2.8M44.2,452.2v2.8M46.3,452.2v2.8M48.0,452.2v2.8M49.4,452.2v2.8M50.5,452.2v2.8M51.5,452.2v2.8M52.4,452.2v2.8M53.2,452.2v3.4M58.4,452.2v2.8M61.5,452.2v2.8M63.6,452.2v2.8M65.3,452.2v2.8M66.7,452.2v2.8M67.8,452.2v2.8M68.8,452.2v2.8M69.7,452.2v2.8M70.5,452.2v3.4M75.7,452.2v2.8M78.8,452.2v2.8M80.9,452.2v2.8M82.6,452.2v2.8M84.0,452.2v2.8M85.1,452.2v2.8M86.1,452.2v2.8M87.0,452.2v2.8M87.8,452.2v3.4M93.0,452.2v2.8M96.1,452.2v2.8M98.2,452.2v2.8M99.9,452.2v2.8M101.3,452.2v2.8M102.4,452.2v2.8M103.4,452.2v2.8M104.3,452.2v2.8" stroke="#000" stroke-width="1.05" fill="none"/>
<rect x="33.9" y="458.4" width="72.2" height="71.9" fill="none" stroke="#000" stroke-width="1.5"/>
<path d="M33.9,529.3h-3.2M33.9,524.1h-2.6M33.9,521.1h-2.6M33.9,518.9h-2.6M33.9,517.3h-2.6M33.9,515.9h-2.6M33.9,514.7h-2.6M33.9,513.7h-2.6M33.9,512.9h-2.6M33.9,512.1h-3.2M33.9,506.9h-2.6M33.9,503.9h-2.6M33.9,501.7h-2.6M33.9,500.0h-2.6M33.9,498.7h-2.6M33.9,497.5h-2.6M33.9,496.5h-2.6M33.9,495.6h-2.6M33.9,494.8h-3.2M33.9,489.7h-2.6M33.9,486.6h-2.6M33.9,484.5h-2.6M33.9,482.8h-2.6M33.9,481.4h-2.6M33.9,480.3h-2.6M33.9,479.3h-2.6M33.9,478.4h-2.6M33.9,477.6h-3.2M33.9,472.4h-2.6M33.9,469.4h-2.6M33.9,467.3h-2.6M33.9,465.6h-2.6M33.9,464.2h-2.6M33.9,463.1h-2.6M33.9,462.1h-2.6M33.9,461.2h-2.6M35.9,530.3v3.4M41.1,530.3v2.8M44.2,530.3v2.8M46.3,530.3v2.8M48.0,530.3v2.8M49.4,530.3v2.8M50.5,530.3v2.8M51.5,530.3v2.8M52.4,530.3v2.8M53.2,530.3v3.4M58.4,530.3v2.8M61.5,530.3v2.8M63.6,530.3v2.8M65.3,530.3v2.8M66.7,530.3v2.8M67.8,530.3v2.8M68.8,530.3v2.8M69.7,530.3v2.8M70.5,530.3v3.4M75.7,530.3v2.8M78.8,530.3v2.8M80.9,530.3v2.8M82.6,530.3v2.8M84.0,530.3v2.8M85.1,530.3v2.8M86.1,530.3v2.8M87.0,530.3v2.8M87.8,530.3v3.4M93.0,530.3v2.8M96.1,530.3v2.8M98.2,530.3v2.8M99.9,530.3v2.8M101.3,530.3v2.8M102.4,530.3v2.8M103.4,530.3v2.8M104.3,530.3v2.8" stroke="#000" stroke-width="1.05" fill="none"/>
<rect x="33.9" y="536.9" width="72.2" height="71.0" fill="none" stroke="#000" stroke-width="1.5"/>
<path d="M33.9,606.9h-3.2M33.9,601.8h-2.6M33.9,598.8h-2.6M33.9,596.7h-2.6M33.9,595.0h-2.6M33.9,593.7h-2.6M33.9,592.5h-2.6M33.9,591.5h-2.6M33.9,590.7h-2.6M33.9,589.9h-3.2M33.9,584.8h-2.6M33.9,581.8h-2.6M33.9,579.7h-2.6M33.9,578.0h-2.6M33.9,576.7h-2.6M33.9,575.5h-2.6M33.9,574.5h-2.6M33.9,573.7h-2.6M33.9,572.9h-3.2M33.9,567.8h-2.6M33.9,564.8h-2.6M33.9,562.7h-2.6M33.9,561.0h-2.6M33.9,559.7h-2.6M33.9,558.5h-2.6M33.9,557.5h-2.6M33.9,556.7h-2.6M33.9,555.9h-3.2M33.9,550.8h-2.6M33.9,547.8h-2.6M33.9,545.7h-2.6M33.9,544.0h-2.6M33.9,542.7h-2.6M33.9,541.5h-2.6M33.9,540.5h-2.6M33.9,539.7h-2.6M35.9,607.9v3.4M41.1,607.9v2.8M44.2,607.9v2.8M46.3,607.9v2.8M48.0,607.9v2.8M49.4,607.9v2.8M50.5,607.9v2.8M51.5,607.9v2.8M52.4,607.9v2.8M53.2,607.9v3.4M58.4,607.9v2.8M61.5,607.9v2.8M63.6,607.9v2.8M65.3,607.9v2.8M66.7,607.9v2.8M67.8,607.9v2.8M68.8,607.9v2.8M69.7,607.9v2.8M70.5,607.9v3.4M75.7,607.9v2.8M78.8,607.9v2.8M80.9,607.9v2.8M82.6,607.9v2.8M84.0,607.9v2.8M85.1,607.9v2.8M86.1,607.9v2.8M87.0,607.9v2.8M87.8,607.9v3.4M93.0,607.9v2.8M96.1,607.9v2.8M98.2,607.9v2.8M99.9,607.9v2.8M101.3,607.9v2.8M102.4,607.9v2.8M103.4,607.9v2.8M104.3,607.9v2.8" stroke="#000" stroke-width="1.05" fill="none"/>
<rect x="116.9" y="144.9" width="72.0" height="71.9" fill="none" stroke="#000" stroke-width="1.5"/>
<path d="M116.9,215.8h-3.2M116.9,210.6h-2.6M116.9,207.6h-2.6M116.9,205.4h-2.6M116.9,203.8h-2.6M116.9,202.4h-2.6M116.9,201.2h-2.6M116.9,200.2h-2.6M116.9,199.4h-2.6M116.9,198.6h-3.2M116.9,193.4h-2.6M116.9,190.4h-2.6M116.9,188.2h-2.6M116.9,186.5h-2.6M116.9,185.2h-2.6M116.9,184.0h-2.6M116.9,183.0h-2.6M116.9,182.1h-2.6M116.9,181.4h-3.2M116.9,176.2h-2.6M116.9,173.1h-2.6M116.9,171.0h-2.6M116.9,169.3h-2.6M116.9,167.9h-2.6M116.9,166.8h-2.6M116.9,165.8h-2.6M116.9,164.9h-2.6M116.9,164.1h-3.2M116.9,158.9h-2.6M116.9,155.9h-2.6M116.9,153.8h-2.6M116.9,152.1h-2.6M116.9,150.7h-2.6M116.9,149.6h-2.6M116.9,148.6h-2.6M116.9,147.7h-2.6M118.9,216.8v3.4M124.1,216.8v2.8M127.1,216.8v2.8M129.3,216.8v2.8M131.0,216.8v2.8M132.3,216.8v2.8M133.5,216.8v2.8M134.5,216.8v2.8M135.4,216.8v2.8M136.2,216.8v3.4M141.3,216.8v2.8M144.4,216.8v2.8M146.5,216.8v2.8M148.2,216.8v2.8M149.6,216.8v2.8M150.7,216.8v2.8M151.7,216.8v2.8M152.6,216.8v2.8M153.4,216.8v3.4M158.6,216.8v2.8M161.6,216.8v2.8M163.8,216.8v2.8M165.5,216.8v2.8M166.8,216.8v2.8M168.0,216.8v2.8M169.0,216.8v2.8M169.9,216.8v2.8M170.7,216.8v3.4M175.8,216.8v2.8M178.9,216.8v2.8M181.0,216.8v2.8M182.7,216.8v2.8M184.1,216.8v2.8M185.2,216.8v2.8M186.2,216.8v2.8M187.1,216.8v2.8" stroke="#000" stroke-width="1.05" fill="none"/>
<rect x="116.9" y="222.9" width="72.0" height="72.5" fill="none" stroke="#000" stroke-width="1.5"/>
<path d="M116.9,294.4h-3.2M116.9,289.2h-2.6M116.9,286.1h-2.6M116.9,283.9h-2.6M116.9,282.3h-2.6M116.9,280.9h-2.6M116.9,279.7h-2.6M116.9,278.7h-2.6M116.9,277.8h-2.6M116.9,277.0h-3.2M116.9,271.8h-2.6M116.9,268.7h-2.6M116.9,266.6h-2.6M116.9,264.9h-2.6M116.9,263.5h-2.6M116.9,262.3h-2.6M116.9,261.3h-2.6M116.9,260.4h-2.6M116.9,259.6h-3.2M116.9,254.4h-2.6M116.9,251.4h-2.6M116.9,249.2h-2.6M116.9,247.5h-2.6M116.9,246.1h-2.6M116.9,245.0h-2.6M116.9,244.0h-2.6M116.9,243.1h-2.6M116.9,242.3h-3.2M116.9,237.0h-2.6M116.9,234.0h-2.6M116.9,231.8h-2.6M116.9,230.1h-2.6M116.9,228.8h-2.6M116.9,227.6h-2.6M116.9,226.6h-2.6M116.9,225.7h-2.6M118.9,295.4v3.4M124.1,295.4v2.8M127.1,295.4v2.8M129.3,295.4v2.8M131.0,295.4v2.8M132.3,295.4v2.8M133.5,295.4v2.8M134.5,295.4v2.8M135.4,295.4v2.8M136.2,295.4v3.4M141.3,295.4v2.8M144.4,295.4v2.8M146.5,295.4v2.8M148.2,295.4v2.8M149.6,295.4v2.8M150.7,295.4v2.8M151.7,295.4v2.8M152.6,295.4v2.8M153.4,295.4v3.4M158.6,295.4v2.8M161.6,295.4v2.8M163.8,295.4v2.8M165.5,295.4v2.8M166.8,295.4v2.8M168.0,295.4v2.8M169.0,295.4v2.8M169.9,295.4v2.8M170.7,295.4v3.4M175.8,295.4v2.8M178.9,295.4v2.8M181.0,295.4v2.8M182.7,295.4v2.8M184.1,295.4v2.8M185.2,295.4v2.8M186.2,295.4v2.8M187.1,295.4v2.8" stroke="#000" stroke-width="1.05" fill="none"/>
<rect x="116.9" y="301.9" width="72.0" height="71.5" fill="none" stroke="#000" stroke-width="1.5"/>
<path d="M116.9,372.4h-3.2M116.9,367.2h-2.6M116.9,364.2h-2.6M116.9,362.1h-2.6M116.9,360.4h-2.6M116.9,359.1h-2.6M116.9,357.9h-2.6M116.9,356.9h-2.6M116.9,356.1h-2.6M116.9,355.3h-3.2M116.9,350.1h-2.6M116.9,347.1h-2.6M116.9,345.0h-2.6M116.9,343.3h-2.6M116.9,341.9h-2.6M116.9,340.8h-2.6M116.9,339.8h-2.6M116.9,338.9h-2.6M116.9,338.1h-3.2M116.9,333.0h-2.6M116.9,330.0h-2.6M116.9,327.8h-2.6M116.9,326.2h-2.6M116.9,324.8h-2.6M116.9,323.7h-2.6M116.9,322.7h-2.6M116.9,321.8h-2.6M116.9,321.0h-3.2M116.9,315.9h-2.6M116.9,312.9h-2.6M116.9,310.7h-2.6M116.9,309.1h-2.6M116.9,307.7h-2.6M116.9,306.6h-2.6M116.9,305.6h-2.6M116.9,304.7h-2.6M118.9,373.4v3.4M124.1,373.4v2.8M127.1,373.4v2.8M129.3,373.4v2.8M131.0,373.4v2.8M132.3,373.4v2.8M133.5,373.4v2.8M134.5,373.4v2.8M135.4,373.4v2.8M136.2,373.4v3.4M141.3,373.4v2.8M144.4,373.4v2.8M146.5,373.4v2.8M148.2,373.4v2.8M149.6,373.4v2.8M150.7,373.4v2.8M151.7,373.4v2.8M152.6,373.4v2.8M153.4,373.4v3.4M158.6,373.4v2.8M161.6,373.4v2.8M163.8,373.4v2.8M165.5,373.4v2.8M166.8,373.4v2.8M168.0,373.4v2.8M169.0,373.4v2.8M169.9,373.4v2.8M170.7,373.4v3.4M175.8,373.4v2.8M178.9,373.4v2.8M181.0,373.4v2.8M182.7,373.4v2.8M184.1,373.4v2.8M185.2,373.4v2.8M186.2,373.4v2.8M187.1,373.4v2.8" stroke="#000" stroke-width="1.05" fill="none"/>
<rect x="116.9" y="379.4" width="72.0" height="72.8" fill="none" stroke="#000" stroke-width="1.5"/>
<path d="M116.9,451.2h-3.2M116.9,445.9h-2.6M116.9,442.9h-2.6M116.9,440.7h-2.6M116.9,439.0h-2.6M116.9,437.6h-2.6M116.9,436.5h-2.6M116.9,435.4h-2.6M116.9,434.5h-2.6M116.9,433.8h-3.2M116.9,428.5h-2.6M116.9,425.4h-2.6M116.9,423.2h-2.6M116.9,421.6h-2.6M116.9,420.2h-2.6M116.9,419.0h-2.6M116.9,418.0h-2.6M116.9,417.1h-2.6M116.9,416.3h-3.2M116.9,411.0h-2.6M116.9,408.0h-2.6M116.9,405.8h-2.6M116.9,404.1h-2.6M116.9,402.7h-2.6M116.9,401.6h-2.6M116.9,400.5h-2.6M116.9,399.6h-2.6M116.9,398.8h-3.2M116.9,393.6h-2.6M116.9,390.5h-2.6M116.9,388.3h-2.6M116.9,386.7h-2.6M116.9,385.3h-2.6M116.9,384.1h-2.6M116.9,383.1h-2.6M116.9,382.2h-2.6M118.9,452.2v3.4M124.1,452.2v2.8M127.1,452.2v2.8M129.3,452.2v2.8M131.0,452.2v2.8M132.3,452.2v2.8M133.5,452.2v2.8M134.5,452.2v2.8M135.4,452.2v2.8M136.2,452.2v3.4M141.3,452.2v2.8M144.4,452.2v2.8M146.5,452.2v2.8M148.2,452.2v2.8M149.6,452.2v2.8M150.7,452.2v2.8M151.7,452.2v2.8M152.6,452.2v2.8M153.4,452.2v3.4M158.6,452.2v2.8M161.6,452.2v2.8M163.8,452.2v2.8M165.5,452.2v2.8M166.8,452.2v2.8M168.0,452.2v2.8M169.0,452.2v2.8M169.9,452.2v2.8M170.7,452.2v3.4M175.8,452.2v2.8M178.9,452.2v2.8M181.0,452.2v2.8M182.7,452.2v2.8M184.1,452.2v2.8M185.2,452.2v2.8M186.2,452.2v2.8M187.1,452.2v2.8" stroke="#000" stroke-width="1.05" fill="none"/>
<rect x="116.9" y="458.4" width="72.0" height="71.9" fill="none" stroke="#000" stroke-width="1.5"/>
<path d="M116.9,529.3h-3.2M116.9,524.1h-2.6M116.9,521.1h-2.6M116.9,518.9h-2.6M116.9,517.3h-2.6M116.9,515.9h-2.6M116.9,514.7h-2.6M116.9,513.7h-2.6M116.9,512.9h-2.6M116.9,512.1h-3.2M116.9,506.9h-2.6M116.9,503.9h-2.6M116.9,501.7h-2.6M116.9,500.0h-2.6M116.9,498.7h-2.6M116.9,497.5h-2.6M116.9,496.5h-2.6M116.9,495.6h-2.6M116.9,494.8h-3.2M116.9,489.7h-2.6M116.9,486.6h-2.6M116.9,484.5h-2.6M116.9,482.8h-2.6M116.9,481.4h-2.6M116.9,480.3h-2.6M116.9,479.3h-2.6M116.9,478.4h-2.6M116.9,477.6h-3.2M116.9,472.4h-2.6M116.9,469.4h-2.6M116.9,467.3h-2.6M116.9,465.6h-2.6M116.9,464.2h-2.6M116.9,463.1h-2.6M116.9,462.1h-2.6M116.9,461.2h-2.6M118.9,530.3v3.4M124.1,530.3v2.8M127.1,530.3v2.8M129.3,530.3v2.8M131.0,530.3v2.8M132.3,530.3v2.8M133.5,530.3v2.8M134.5,530.3v2.8M135.4,530.3v2.8M136.2,530.3v3.4M141.3,530.3v2.8M144.4,530.3v2.8M146.5,530.3v2.8M148.2,530.3v2.8M149.6,530.3v2.8M150.7,530.3v2.8M151.7,530.3v2.8M152.6,530.3v2.8M153.4,530.3v3.4M158.6,530.3v2.8M161.6,530.3v2.8M163.8,530.3v2.8M165.5,530.3v2.8M166.8,530.3v2.8M168.0,530.3v2.8M169.0,530.3v2.8M169.9,530.3v2.8M170.7,530.3v3.4M175.8,530.3v2.8M178.9,530.3v2.8M181.0,530.3v2.8M182.7,530.3v2.8M184.1,530.3v2.8M185.2,530.3v2.8M186.2,530.3v2.8M187.1,530.3v2.8" stroke="#000" stroke-width="1.05" fill="none"/>
<rect x="116.9" y="536.9" width="72.0" height="71.0" fill="none" stroke="#000" stroke-width="1.5"/>
<path d="M116.9,606.9h-3.2M116.9,601.8h-2.6M116.9,598.8h-2.6M116.9,596.7h-2.6M116.9,595.0h-2.6M116.9,593.7h-2.6M116.9,592.5h-2.6M116.9,591.5h-2.6M116.9,590.7h-2.6M116.9,589.9h-3.2M116.9,584.8h-2.6M116.9,581.8h-2.6M116.9,579.7h-2.6M116.9,578.0h-2.6M116.9,576.7h-2.6M116.9,575.5h-2.6M116.9,574.5h-2.6M116.9,573.7h-2.6M116.9,572.9h-3.2M116.9,567.8h-2.6M116.9,564.8h-2.6M116.9,562.7h-2.6M116.9,561.0h-2.6M116.9,559.7h-2.6M116.9,558.5h-2.6M116.9,557.5h-2.6M116.9,556.7h-2.6M116.9,555.9h-3.2M116.9,550.8h-2.6M116.9,547.8h-2.6M116.9,545.7h-2.6M116.9,544.0h-2.6M116.9,542.7h-2.6M116.9,541.5h-2.6M116.9,540.5h-2.6M116.9,539.7h-2.6M118.9,607.9v3.4M124.1,607.9v2.8M127.1,607.9v2.8M129.3,607.9v2.8M131.0,607.9v2.8M132.3,607.9v2.8M133.5,607.9v2.8M134.5,607.9v2.8M135.4,607.9v2.8M136.2,607.9v3.4M141.3,607.9v2.8M144.4,607.9v2.8M146.5,607.9v2.8M148.2,607.9v2.8M149.6,607.9v2.8M150.7,607.9v2.8M151.7,607.9v2.8M152.6,607.9v2.8M153.4,607.9v3.4M158.6,607.9v2.8M161.6,607.9v2.8M163.8,607.9v2.8M165.5,607.9v2.8M166.8,607.9v2.8M168.0,607.9v2.8M169.0,607.9v2.8M169.9,607.9v2.8M170.7,607.9v3.4M175.8,607.9v2.8M178.9,607.9v2.8M181.0,607.9v2.8M182.7,607.9v2.8M184.1,607.9v2.8M185.2,607.9v2.8M186.2,607.9v2.8M187.1,607.9v2.8" stroke="#000" stroke-width="1.05" fill="none"/>
<rect x="194.5" y="144.9" width="72.4" height="71.9" fill="none" stroke="#000" stroke-width="1.5"/>
<path d="M194.5,215.8h-3.2M194.5,210.6h-2.6M194.5,207.6h-2.6M194.5,205.4h-2.6M194.5,203.8h-2.6M194.5,202.4h-2.6M194.5,201.2h-2.6M194.5,200.2h-2.6M194.5,199.4h-2.6M194.5,198.6h-3.2M194.5,193.4h-2.6M194.5,190.4h-2.6M194.5,188.2h-2.6M194.5,186.5h-2.6M194.5,185.2h-2.6M194.5,184.0h-2.6M194.5,183.0h-2.6M194.5,182.1h-2.6M194.5,181.4h-3.2M194.5,176.2h-2.6M194.5,173.1h-2.6M194.5,171.0h-2.6M194.5,169.3h-2.6M194.5,167.9h-2.6M194.5,166.8h-2.6M194.5,165.8h-2.6M194.5,164.9h-2.6M194.5,164.1h-3.2M194.5,158.9h-2.6M194.5,155.9h-2.6M194.5,153.8h-2.6M194.5,152.1h-2.6M194.5,150.7h-2.6M194.5,149.6h-2.6M194.5,148.6h-2.6M194.5,147.7h-2.6M196.5,216.8v3.4M201.7,216.8v2.8M204.8,216.8v2.8M206.9,216.8v2.8M208.6,216.8v2.8M210.0,216.8v2.8M211.2,216.8v2.8M212.2,216.8v2.8M213.1,216.8v2.8M213.8,216.8v3.4M219.1,216.8v2.8M222.1,216.8v2.8M224.3,216.8v2.8M226.0,216.8v2.8M227.4,216.8v2.8M228.5,216.8v2.8M229.5,216.8v2.8M230.4,216.8v2.8M231.2,216.8v3.4M236.4,216.8v2.8M239.5,216.8v2.8M241.6,216.8v2.8M243.3,216.8v2.8M244.7,216.8v2.8M245.9,216.8v2.8M246.9,216.8v2.8M247.8,216.8v2.8M248.5,216.8v3.4M253.8,216.8v2.8M256.8,216.8v2.8M259.0,216.8v2.8M260.7,216.8v2.8M262.1,216.8v2.8M263.2,216.8v2.8M264.2,216.8v2.8M265.1,216.8v2.8" stroke="#000" stroke-width="1.05" fill="none"/>
<rect x="194.5" y="222.9" width="72.4" height="72.5" fill="none" stroke="#000" stroke-width="1.5"/>
<path d="M194.5,294.4h-3.2M194.5,289.2h-2.6M194.5,286.1h-2.6M194.5,283.9h-2.6M194.5,282.3h-2.6M194.5,280.9h-2.6M194.5,279.7h-2.6M194.5,278.7h-2.6M194.5,277.8h-2.6M194.5,277.0h-3.2M194.5,271.8h-2.6M194.5,268.7h-2.6M194.5,266.6h-2.6M194.5,264.9h-2.6M194.5,263.5h-2.6M194.5,262.3h-2.6M194.5,261.3h-2.6M194.5,260.4h-2.6M194.5,259.6h-3.2M194.5,254.4h-2.6M194.5,251.4h-2.6M194.5,249.2h-2.6M194.5,247.5h-2.6M194.5,246.1h-2.6M194.5,245.0h-2.6M194.5,244.0h-2.6M194.5,243.1h-2.6M194.5,242.3h-3.2M194.5,237.0h-2.6M194.5,234.0h-2.6M194.5,231.8h-2.6M194.5,230.1h-2.6M194.5,228.8h-2.6M194.5,227.6h-2.6M194.5,226.6h-2.6M194.5,225.7h-2.6M196.5,295.4v3.4M201.7,295.4v2.8M204.8,295.4v2.8M206.9,295.4v2.8M208.6,295.4v2.8M210.0,295.4v2.8M211.2,295.4v2.8M212.2,295.4v2.8M213.1,295.4v2.8M213.8,295.4v3.4M219.1,295.4v2.8M222.1,295.4v2.8M224.3,295.4v2.8M226.0,295.4v2.8M227.4,295.4v2.8M228.5,295.4v2.8M229.5,295.4v2.8M230.4,295.4v2.8M231.2,295.4v3.4M236.4,295.4v2.8M239.5,295.4v2.8M241.6,295.4v2.8M243.3,295.4v2.8M244.7,295.4v2.8M245.9,295.4v2.8M246.9,295.4v2.8M247.8,295.4v2.8M248.5,295.4v3.4M253.8,295.4v2.8M256.8,295.4v2.8M259.0,295.4v2.8M260.7,295.4v2.8M262.1,295.4v2.8M263.2,295.4v2.8M264.2,295.4v2.8M265.1,295.4v2.8" stroke="#000" stroke-width="1.05" fill="none"/>
<rect x="194.5" y="301.9" width="72.4" height="71.5" fill="none" stroke="#000" stroke-width="1.5"/>
<path d="M194.5,372.4h-3.2M194.5,367.2h-2.6M194.5,364.2h-2.6M194.5,362.1h-2.6M194.5,360.4h-2.6M194.5,359.1h-2.6M194.5,357.9h-2.6M194.5,356.9h-2.6M194.5,356.1h-2.6M194.5,355.3h-3.2M194.5,350.1h-2.6M194.5,347.1h-2.6M194.5,345.0h-2.6M194.5,343.3h-2.6M194.5,341.9h-2.6M194.5,340.8h-2.6M194.5,339.8h-2.6M194.5,338.9h-2.6M194.5,338.1h-3.2M194.5,333.0h-2.6M194.5,330.0h-2.6M194.5,327.8h-2.6M194.5,326.2h-2.6M194.5,324.8h-2.6M194.5,323.7h-2.6M194.5,322.7h-2.6M194.5,321.8h-2.6M194.5,321.0h-3.2M194.5,315.9h-2.6M194.5,312.9h-2.6M194.5,310.7h-2.6M194.5,309.1h-2.6M194.5,307.7h-2.6M194.5,306.6h-2.6M194.5,305.6h-2.6M194.5,304.7h-2.6M196.5,373.4v3.4M201.7,373.4v2.8M204.8,373.4v2.8M206.9,373.4v2.8M208.6,373.4v2.8M210.0,373.4v2.8M211.2,373.4v2.8M212.2,373.4v2.8M213.1,373.4v2.8M213.8,373.4v3.4M219.1,373.4v2.8M222.1,373.4v2.8M224.3,373.4v2.8M226.0,373.4v2.8M227.4,373.4v2.8M228.5,373.4v2.8M229.5,373.4v2.8M230.4,373.4v2.8M231.2,373.4v3.4M236.4,373.4v2.8M239.5,373.4v2.8M241.6,373.4v2.8M243.3,373.4v2.8M244.7,373.4v2.8M245.9,373.4v2.8M246.9,373.4v2.8M247.8,373.4v2.8M248.5,373.4v3.4M253.8,373.4v2.8M256.8,373.4v2.8M259.0,373.4v2.8M260.7,373.4v2.8M262.1,373.4v2.8M263.2,373.4v2.8M264.2,373.4v2.8M265.1,373.4v2.8" stroke="#000" stroke-width="1.05" fill="none"/>
<rect x="194.5" y="379.4" width="72.4" height="72.8" fill="none" stroke="#000" stroke-width="1.5"/>
<path d="M194.5,451.2h-3.2M194.5,445.9h-2.6M194.5,442.9h-2.6M194.5,440.7h-2.6M194.5,439.0h-2.6M194.5,437.6h-2.6M194.5,436.5h-2.6M194.5,435.4h-2.6M194.5,434.5h-2.6M194.5,433.8h-3.2M194.5,428.5h-2.6M194.5,425.4h-2.6M194.5,423.2h-2.6M194.5,421.6h-2.6M194.5,420.2h-2.6M194.5,419.0h-2.6M194.5,418.0h-2.6M194.5,417.1h-2.6M194.5,416.3h-3.2M194.5,411.0h-2.6M194.5,408.0h-2.6M194.5,405.8h-2.6M194.5,404.1h-2.6M194.5,402.7h-2.6M194.5,401.6h-2.6M194.5,400.5h-2.6M194.5,399.6h-2.6M194.5,398.8h-3.2M194.5,393.6h-2.6M194.5,390.5h-2.6M194.5,388.3h-2.6M194.5,386.7h-2.6M194.5,385.3h-2.6M194.5,384.1h-2.6M194.5,383.1h-2.6M194.5,382.2h-2.6M196.5,452.2v3.4M201.7,452.2v2.8M204.8,452.2v2.8M206.9,452.2v2.8M208.6,452.2v2.8M210.0,452.2v2.8M211.2,452.2v2.8M212.2,452.2v2.8M213.1,452.2v2.8M213.8,452.2v3.4M219.1,452.2v2.8M222.1,452.2v2.8M224.3,452.2v2.8M226.0,452.2v2.8M227.4,452.2v2.8M228.5,452.2v2.8M229.5,452.2v2.8M230.4,452.2v2.8M231.2,452.2v3.4M236.4,452.2v2.8M239.5,452.2v2.8M241.6,452.2v2.8M243.3,452.2v2.8M244.7,452.2v2.8M245.9,452.2v2.8M246.9,452.2v2.8M247.8,452.2v2.8M248.5,452.2v3.4M253.8,452.2v2.8M256.8,452.2v2.8M259.0,452.2v2.8M260.7,452.2v2.8M262.1,452.2v2.8M263.2,452.2v2.8M264.2,452.2v2.8M265.1,452.2v2.8" stroke="#000" stroke-width="1.05" fill="none"/>
<rect x="194.5" y="458.4" width="72.4" height="71.9" fill="none" stroke="#000" stroke-width="1.5"/>
<path d="M194.5,529.3h-3.2M194.5,524.1h-2.6M194.5,521.1h-2.6M194.5,518.9h-2.6M194.5,517.3h-2.6M194.5,515.9h-2.6M194.5,514.7h-2.6M194.5,513.7h-2.6M194.5,512.9h-2.6M194.5,512.1h-3.2M194.5,506.9h-2.6M194.5,503.9h-2.6M194.5,501.7h-2.6M194.5,500.0h-2.6M194.5,498.7h-2.6M194.5,497.5h-2.6M194.5,496.5h-2.6M194.5,495.6h-2.6M194.5,494.8h-3.2M194.5,489.7h-2.6M194.5,486.6h-2.6M194.5,484.5h-2.6M194.5,482.8h-2.6M194.5,481.4h-2.6M194.5,480.3h-2.6M194.5,479.3h-2.6M194.5,478.4h-2.6M194.5,477.6h-3.2M194.5,472.4h-2.6M194.5,469.4h-2.6M194.5,467.3h-2.6M194.5,465.6h-2.6M194.5,464.2h-2.6M194.5,463.1h-2.6M194.5,462.1h-2.6M194.5,461.2h-2.6M196.5,530.3v3.4M201.7,530.3v2.8M204.8,530.3v2.8M206.9,530.3v2.8M208.6,530.3v2.8M210.0,530.3v2.8M211.2,530.3v2.8M212.2,530.3v2.8M213.1,530.3v2.8M213.8,530.3v3.4M219.1,530.3v2.8M222.1,530.3v2.8M224.3,530.3v2.8M226.0,530.3v2.8M227.4,530.3v2.8M228.5,530.3v2.8M229.5,530.3v2.8M230.4,530.3v2.8M231.2,530.3v3.4M236.4,530.3v2.8M239.5,530.3v2.8M241.6,530.3v2.8M243.3,530.3v2.8M244.7,530.3v2.8M245.9,530.3v2.8M246.9,530.3v2.8M247.8,530.3v2.8M248.5,530.3v3.4M253.8,530.3v2.8M256.8,530.3v2.8M259.0,530.3v2.8M260.7,530.3v2.8M262.1,530.3v2.8M263.2,530.3v2.8M264.2,530.3v2.8M265.1,530.3v2.8" stroke="#000" stroke-width="1.05" fill="none"/>
<rect x="194.5" y="536.9" width="72.4" height="71.0" fill="none" stroke="#000" stroke-width="1.5"/>
<path d="M194.5,606.9h-3.2M194.5,601.8h-2.6M194.5,598.8h-2.6M194.5,596.7h-2.6M194.5,595.0h-2.6M194.5,593.7h-2.6M194.5,592.5h-2.6M194.5,591.5h-2.6M194.5,590.7h-2.6M194.5,589.9h-3.2M194.5,584.8h-2.6M194.5,581.8h-2.6M194.5,579.7h-2.6M194.5,578.0h-2.6M194.5,576.7h-2.6M194.5,575.5h-2.6M194.5,574.5h-2.6M194.5,573.7h-2.6M194.5,572.9h-3.2M194.5,567.8h-2.6M194.5,564.8h-2.6M194.5,562.7h-2.6M194.5,561.0h-2.6M194.5,559.7h-2.6M194.5,558.5h-2.6M194.5,557.5h-2.6M194.5,556.7h-2.6M194.5,555.9h-3.2M194.5,550.8h-2.6M194.5,547.8h-2.6M194.5,545.7h-2.6M194.5,544.0h-2.6M194.5,542.7h-2.6M194.5,541.5h-2.6M194.5,540.5h-2.6M194.5,539.7h-2.6M196.5,607.9v3.4M201.7,607.9v2.8M204.8,607.9v2.8M206.9,607.9v2.8M208.6,607.9v2.8M210.0,607.9v2.8M211.2,607.9v2.8M212.2,607.9v2.8M213.1,607.9v2.8M213.8,607.9v3.4M219.1,607.9v2.8M222.1,607.9v2.8M224.3,607.9v2.8M226.0,607.9v2.8M227.4,607.9v2.8M228.5,607.9v2.8M229.5,607.9v2.8M230.4,607.9v2.8M231.2,607.9v3.4M236.4,607.9v2.8M239.5,607.9v2.8M241.6,607.9v2.8M243.3,607.9v2.8M244.7,607.9v2.8M245.9,607.9v2.8M246.9,607.9v2.8M247.8,607.9v2.8M248.5,607.9v3.4M253.8,607.9v2.8M256.8,607.9v2.8M259.0,607.9v2.8M260.7,607.9v2.8M262.1,607.9v2.8M263.2,607.9v2.8M264.2,607.9v2.8M265.1,607.9v2.8" stroke="#000" stroke-width="1.05" fill="none"/>
<text x="22.10" y="598.80" font-size="8.8" font-weight="normal" text-anchor="middle" fill="#000" stroke="#000" stroke-width="0.35" transform="rotate(-90 22.1 598.8)">GFP</text>
<path d="M19.8,614.5V624.4H29" fill="none" stroke="#000" stroke-width="1.3"/>
<path d="M19.8,611.5 L17.6,615.6 L22,615.6 Z" fill="#000"/>
<path d="M32.2,624.4 L28,622.2 L28,626.6 Z" fill="#000"/>
<text x="36.10" y="628.60" font-size="9.1" font-weight="normal" text-anchor="start" fill="#000" stroke="#000" stroke-width="0.35" textLength="59.9" lengthAdjust="spacingAndGlyphs">CD45 / Ter119</text>
<path d="M116.9,625.2H126.4" stroke="#000" stroke-width="1.4"/>
<path d="M130.20000000000002,625.2 L125.7,622.9 L125.7,627.5 Z" fill="#000"/>
<text x="133.70" y="628.80" font-size="9.1" font-weight="normal" text-anchor="start" fill="#000" stroke="#000" stroke-width="0.35" textLength="22.5" lengthAdjust="spacingAndGlyphs">CD31</text>
<path d="M194.6,625.2H204.1" stroke="#000" stroke-width="1.4"/>
<path d="M207.9,625.2 L203.4,622.9 L203.4,627.5 Z" fill="#000"/>
<text x="211.90" y="628.80" font-size="9.1" font-weight="normal" text-anchor="start" fill="#000" stroke="#000" stroke-width="0.35" textLength="22.5" lengthAdjust="spacingAndGlyphs">CD31</text>
<text x="295.40" y="139.30" font-size="17.5" font-weight="bold" text-anchor="start" fill="#000" stroke="#000" stroke-width="0.5">C</text>
<text x="339.70" y="136.30" font-size="8.2" font-weight="bold" fill="#1f8440" text-anchor="start" stroke="#1f8440" stroke-width="0.22" textLength="101.5" lengthAdjust="spacingAndGlyphs"><tspan>% of CD45</tspan><tspan font-size="6.50" dy="-3.44">-</tspan><tspan dy="3.44">Ter119</tspan><tspan font-size="6.50" dy="-3.44">-</tspan><tspan dy="3.44">GFP</tspan><tspan font-size="6.50" dy="-3.44">+</tspan></text>
<path d="M325.4,144.0V234.0H461" fill="none" stroke="#000" stroke-width="1.5"/>
<path d="M322.59999999999997,234.00H325.4M322.59999999999997,217.70H325.4M322.59999999999997,201.40H325.4M322.59999999999997,185.10H325.4M322.59999999999997,168.80H325.4M322.59999999999997,152.50H325.4" stroke="#000" stroke-width="1.3"/>
<text x="321.30" y="237.00" font-size="8.4" font-weight="bold" text-anchor="end" fill="#000" stroke="#000" stroke-width="0.22">0</text>
<text x="321.30" y="220.70" font-size="8.4" font-weight="bold" text-anchor="end" fill="#000" stroke="#000" stroke-width="0.22">20</text>
<text x="321.30" y="204.40" font-size="8.4" font-weight="bold" text-anchor="end" fill="#000" stroke="#000" stroke-width="0.22">40</text>
<text x="321.30" y="188.10" font-size="8.4" font-weight="bold" text-anchor="end" fill="#000" stroke="#000" stroke-width="0.22">60</text>
<text x="321.30" y="171.80" font-size="8.4" font-weight="bold" text-anchor="end" fill="#000" stroke="#000" stroke-width="0.22">80</text>
<text x="321.30" y="155.50" font-size="8.4" font-weight="bold" text-anchor="end" fill="#000" stroke="#000" stroke-width="0.22">100</text>
<text x="305.20" y="194.60" font-size="9" font-weight="normal" text-anchor="middle" fill="#000" stroke="#000" stroke-width="0.35" transform="rotate(-90 305.2 194.6)">(%)</text>
<path d="M336.85,154.13V152.50M332.85,152.50H340.85" stroke="#000" stroke-width="1.4"/>
<rect x="330.20" y="154.13" width="13.3" height="79.87" fill="#fff" stroke="#000" stroke-width="1.4"/>
<rect x="330.20" y="166.19" width="13.3" height="67.81" fill="#1a1a1a" stroke="#000" stroke-width="1.4"/>
<path d="M336.85,166.19V163.91M332.85,163.91H340.85" stroke="#000" stroke-width="1.4"/>
<text x="340.95" y="243.60" font-size="8.8" font-weight="bold" text-anchor="end" fill="#000" stroke="#000" stroke-width="0.22" transform="rotate(-45 340.95 243.60)">BM</text>
<path d="M359.23,152.50V152.09M355.23,152.09H363.23" stroke="#000" stroke-width="1.4"/>
<rect x="352.58" y="152.50" width="13.3" height="81.50" fill="#fff" stroke="#000" stroke-width="1.4"/>
<rect x="352.58" y="160.89" width="13.3" height="73.11" fill="#1a1a1a" stroke="#000" stroke-width="1.4"/>
<path d="M359.23,160.89V160.41M355.23,160.41H363.23" stroke="#000" stroke-width="1.4"/>
<text x="363.33" y="243.60" font-size="8.8" font-weight="bold" text-anchor="end" fill="#000" stroke="#000" stroke-width="0.22" transform="rotate(-45 363.33 243.60)">Heart</text>
<path d="M381.61,152.50V145.74M377.61,145.74H385.61" stroke="#000" stroke-width="1.4"/>
<rect x="374.96" y="152.50" width="13.3" height="81.50" fill="#fff" stroke="#000" stroke-width="1.4"/>
<rect x="374.96" y="176.30" width="13.3" height="57.70" fill="#1a1a1a" stroke="#000" stroke-width="1.4"/>
<path d="M381.61,176.30V168.88M377.61,168.88H385.61" stroke="#000" stroke-width="1.4"/>
<text x="385.71" y="243.60" font-size="8.8" font-weight="bold" text-anchor="end" fill="#000" stroke="#000" stroke-width="0.22" transform="rotate(-45 385.71 243.60)">Liver</text>
<path d="M403.99,152.50V147.20M399.99,147.20H407.99" stroke="#000" stroke-width="1.4"/>
<rect x="397.34" y="152.50" width="13.3" height="81.50" fill="#fff" stroke="#000" stroke-width="1.4"/>
<rect x="397.34" y="170.27" width="13.3" height="63.73" fill="#1a1a1a" stroke="#000" stroke-width="1.4"/>
<path d="M403.99,170.27V165.70M399.99,165.70H407.99" stroke="#000" stroke-width="1.4"/>
<text x="408.09" y="243.60" font-size="8.8" font-weight="bold" text-anchor="end" fill="#000" stroke="#000" stroke-width="0.22" transform="rotate(-45 408.09 243.60)">Kidney</text>
<path d="M426.37,152.50V145.98M422.37,145.98H430.37" stroke="#000" stroke-width="1.4"/>
<rect x="419.72" y="152.50" width="13.3" height="81.50" fill="#fff" stroke="#000" stroke-width="1.4"/>
<rect x="419.72" y="178.66" width="13.3" height="55.34" fill="#1a1a1a" stroke="#000" stroke-width="1.4"/>
<path d="M426.37,178.66V173.20M422.37,173.20H430.37" stroke="#000" stroke-width="1.4"/>
<text x="430.47" y="243.60" font-size="8.8" font-weight="bold" text-anchor="end" fill="#000" stroke="#000" stroke-width="0.22" transform="rotate(-45 430.47 243.60)">Spleen</text>
<path d="M448.75,152.50V150.87M444.75,150.87H452.75" stroke="#000" stroke-width="1.4"/>
<rect x="442.10" y="152.50" width="13.3" height="81.50" fill="#fff" stroke="#000" stroke-width="1.4"/>
<rect x="442.10" y="156.98" width="13.3" height="77.02" fill="#1a1a1a" stroke="#000" stroke-width="1.4"/>
<path d="M448.75,156.98V154.70M444.75,154.70H452.75" stroke="#000" stroke-width="1.4"/>
<text x="452.85" y="243.60" font-size="8.8" font-weight="bold" text-anchor="end" fill="#000" stroke="#000" stroke-width="0.22" transform="rotate(-45 452.85 243.60)">Lung</text>
<path d="M348.05,234.0v3M370.43,234.0v3M392.81,234.0v3M415.19,234.0v3M437.57,234.0v3M459.95,234.0v3" stroke="#000" stroke-width="1.3"/>
<rect x="467.6" y="147.3" width="9.4" height="9.4" fill="#1a1a1a" stroke="#000" stroke-width="1.2"/>
<rect x="467.6" y="163.5" width="9.4" height="9.4" fill="#fff" stroke="#000" stroke-width="1.2"/>
<text x="481.70" y="155.50" font-size="8.6" font-weight="normal" fill="#000" text-anchor="start" stroke="#000" stroke-width="0.35"><tspan>CD31</tspan><tspan font-size="7.50" dy="-3.87">+</tspan></text>
<text x="481.70" y="171.70" font-size="8.6" font-weight="normal" fill="#000" text-anchor="start" stroke="#000" stroke-width="0.35"><tspan>CD31</tspan><tspan font-size="7.50" dy="-3.87">-</tspan></text>
<text x="295.40" y="286.80" font-size="17.5" font-weight="bold" text-anchor="start" fill="#000" stroke="#000" stroke-width="0.5">D</text>
<text x="340.50" y="296.60" font-size="8.2" font-weight="bold" fill="#2b2aa8" text-anchor="start" stroke="#2b2aa8" stroke-width="0.22" textLength="98.5" lengthAdjust="spacingAndGlyphs"><tspan>% of CD45</tspan><tspan font-size="6.50" dy="-3.44">-</tspan><tspan dy="3.44">Ter119</tspan><tspan font-size="6.50" dy="-3.44">-</tspan><tspan dy="3.44">GFP</tspan><tspan font-size="6.50" dy="-3.44">-</tspan></text>
<path d="M325.4,297.5V386.0H461" fill="none" stroke="#000" stroke-width="1.5"/>
<path d="M322.59999999999997,386.00H325.4M322.59999999999997,370.70H325.4M322.59999999999997,355.40H325.4M322.59999999999997,340.10H325.4M322.59999999999997,324.80H325.4M322.59999999999997,309.50H325.4" stroke="#000" stroke-width="1.3"/>
<text x="321.30" y="389.00" font-size="8.4" font-weight="bold" text-anchor="end" fill="#000" stroke="#000" stroke-width="0.22">0</text>
<text x="321.30" y="373.70" font-size="8.4" font-weight="bold" text-anchor="end" fill="#000" stroke="#000" stroke-width="0.22">20</text>
<text x="321.30" y="358.40" font-size="8.4" font-weight="bold" text-anchor="end" fill="#000" stroke="#000" stroke-width="0.22">40</text>
<text x="321.30" y="343.10" font-size="8.4" font-weight="bold" text-anchor="end" fill="#000" stroke="#000" stroke-width="0.22">60</text>
<text x="321.30" y="327.80" font-size="8.4" font-weight="bold" text-anchor="end" fill="#000" stroke="#000" stroke-width="0.22">80</text>
<text x="321.30" y="312.50" font-size="8.4" font-weight="bold" text-anchor="end" fill="#000" stroke="#000" stroke-width="0.22">100</text>
<text x="305.20" y="347.35" font-size="9" font-weight="normal" text-anchor="middle" fill="#000" stroke="#000" stroke-width="0.35" transform="rotate(-90 305.2 347.4)">(%)</text>
<path d="M336.85,309.50V309.12M332.85,309.12H340.85" stroke="#000" stroke-width="1.4"/>
<rect x="330.20" y="309.50" width="13.3" height="76.50" fill="#fff" stroke="#000" stroke-width="1.4"/>
<rect x="330.20" y="384.16" width="13.3" height="1.84" fill="#1a1a1a" stroke="#000" stroke-width="1.4"/>
<path d="M336.85,384.16V383.86M332.85,383.86H340.85" stroke="#000" stroke-width="1.4"/>
<text x="340.95" y="397.40" font-size="8.8" font-weight="bold" text-anchor="end" fill="#000" stroke="#000" stroke-width="0.22" transform="rotate(-45 340.95 397.40)">BM</text>
<path d="M359.23,309.50V305.68M355.23,305.68H363.23" stroke="#000" stroke-width="1.4"/>
<rect x="352.58" y="309.50" width="13.3" height="76.50" fill="#fff" stroke="#000" stroke-width="1.4"/>
<rect x="352.58" y="377.97" width="13.3" height="8.03" fill="#1a1a1a" stroke="#000" stroke-width="1.4"/>
<path d="M359.23,377.97V374.52M355.23,374.52H363.23" stroke="#000" stroke-width="1.4"/>
<text x="363.33" y="397.40" font-size="8.8" font-weight="bold" text-anchor="end" fill="#000" stroke="#000" stroke-width="0.22" transform="rotate(-45 363.33 397.40)">Heart</text>
<path d="M381.61,309.50V304.30M377.61,304.30H385.61" stroke="#000" stroke-width="1.4"/>
<rect x="374.96" y="309.50" width="13.3" height="76.50" fill="#fff" stroke="#000" stroke-width="1.4"/>
<rect x="374.96" y="376.82" width="13.3" height="9.18" fill="#1a1a1a" stroke="#000" stroke-width="1.4"/>
<path d="M381.61,376.82V373.00M377.61,373.00H385.61" stroke="#000" stroke-width="1.4"/>
<text x="385.71" y="397.40" font-size="8.8" font-weight="bold" text-anchor="end" fill="#000" stroke="#000" stroke-width="0.22" transform="rotate(-45 385.71 397.40)">Liver</text>
<path d="M403.99,309.50V307.51M399.99,307.51H407.99" stroke="#000" stroke-width="1.4"/>
<rect x="397.34" y="309.50" width="13.3" height="76.50" fill="#fff" stroke="#000" stroke-width="1.4"/>
<rect x="397.34" y="381.41" width="13.3" height="4.59" fill="#1a1a1a" stroke="#000" stroke-width="1.4"/>
<path d="M403.99,381.41V379.42M399.99,379.42H407.99" stroke="#000" stroke-width="1.4"/>
<text x="408.09" y="397.40" font-size="8.8" font-weight="bold" text-anchor="end" fill="#000" stroke="#000" stroke-width="0.22" transform="rotate(-45 408.09 397.40)">Kidney</text>
<path d="M426.37,309.50V305.68M422.37,305.68H430.37" stroke="#000" stroke-width="1.4"/>
<rect x="419.72" y="309.50" width="13.3" height="76.50" fill="#fff" stroke="#000" stroke-width="1.4"/>
<rect x="419.72" y="378.35" width="13.3" height="7.65" fill="#1a1a1a" stroke="#000" stroke-width="1.4"/>
<path d="M426.37,378.35V374.98M422.37,374.98H430.37" stroke="#000" stroke-width="1.4"/>
<text x="430.47" y="397.40" font-size="8.8" font-weight="bold" text-anchor="end" fill="#000" stroke="#000" stroke-width="0.22" transform="rotate(-45 430.47 397.40)">Spleen</text>
<path d="M448.75,309.50V299.56M444.75,299.56H452.75" stroke="#000" stroke-width="1.4"/>
<rect x="442.10" y="309.50" width="13.3" height="76.50" fill="#fff" stroke="#000" stroke-width="1.4"/>
<rect x="442.10" y="347.44" width="13.3" height="38.56" fill="#1a1a1a" stroke="#000" stroke-width="1.4"/>
<path d="M448.75,347.44V338.57M444.75,338.57H452.75" stroke="#000" stroke-width="1.4"/>
<text x="452.85" y="397.40" font-size="8.8" font-weight="bold" text-anchor="end" fill="#000" stroke="#000" stroke-width="0.22" transform="rotate(-45 452.85 397.40)">Lung</text>
<path d="M348.05,386.0v3M370.43,386.0v3M392.81,386.0v3M415.19,386.0v3M437.57,386.0v3M459.95,386.0v3" stroke="#000" stroke-width="1.3"/>
<rect x="467.6" y="310.0" width="9.4" height="9.4" fill="#1a1a1a" stroke="#000" stroke-width="1.2"/>
<rect x="467.6" y="326.2" width="9.4" height="9.4" fill="#fff" stroke="#000" stroke-width="1.2"/>
<text x="481.70" y="318.20" font-size="8.6" font-weight="normal" fill="#000" text-anchor="start" stroke="#000" stroke-width="0.35"><tspan>CD31</tspan><tspan font-size="7.50" dy="-3.87">+</tspan></text>
<text x="481.70" y="334.40" font-size="8.6" font-weight="normal" fill="#000" text-anchor="start" stroke="#000" stroke-width="0.35"><tspan>CD31</tspan><tspan font-size="7.50" dy="-3.87">-</tspan></text>
<text x="295.40" y="437.80" font-size="17.5" font-weight="bold" text-anchor="start" fill="#000" stroke="#000" stroke-width="0.5">E</text>
<text stroke="#000" stroke-width="0.12" x="313.8" y="446.6" font-size="10.3" font-weight="bold" textLength="84" lengthAdjust="spacingAndGlyphs"><tspan font-style="italic">G-csf</tspan> expression</text>
<text stroke="#000" stroke-width="0.12" x="313.8" y="458.8" font-size="10.3" font-weight="bold" textLength="193.7" lengthAdjust="spacingAndGlyphs">in LPS-treated <tspan font-style="italic">Tie2-Cre; loxP-GFP</tspan> mice</text>
<rect x="395.3" y="477.8" width="7.3" height="8.2" fill="#e1001e" stroke="#000" stroke-width="1.2"/>
<rect x="395.3" y="493.6" width="7.3" height="7.6" fill="#fff" stroke="#000" stroke-width="1.2"/>
<text x="409.00" y="485.80" font-size="8.9" font-weight="normal" fill="#000" text-anchor="start" stroke="#000" stroke-width="0.35" textLength="110.5" lengthAdjust="spacingAndGlyphs"><tspan>CD45</tspan><tspan font-size="6.41" dy="-4.00">-</tspan><tspan dy="4.00">Ter119</tspan><tspan font-size="6.41" dy="-4.00">-</tspan><tspan dy="4.00">GFP</tspan><tspan font-size="6.41" dy="-4.00">+</tspan><tspan dy="4.00">CD31</tspan><tspan font-size="6.41" dy="-4.00">+</tspan></text>
<text x="409.00" y="501.60" font-size="8.9" font-weight="normal" fill="#000" text-anchor="start" stroke="#000" stroke-width="0.35" textLength="110.5" lengthAdjust="spacingAndGlyphs"><tspan>CD45</tspan><tspan font-size="6.41" dy="-4.00">-</tspan><tspan dy="4.00">Ter119</tspan><tspan font-size="6.41" dy="-4.00">-</tspan><tspan dy="4.00">GFP</tspan><tspan font-size="6.41" dy="-4.00">+</tspan><tspan dy="4.00">CD31</tspan><tspan font-size="6.41" dy="-4.00">-</tspan></text>
<path d="M362.2,598.8V508M392.2,598.8V508M422.2,598.8V508M452.2,598.8V508M482.2,598.8V508" stroke="#4a4a4a" stroke-width="1.4" stroke-dasharray="3.5 2.3" fill="none"/>
<path d="M332.0,508.60V598.8H512.3" fill="none" stroke="#000" stroke-width="1.5"/>
<path d="M329.4,598.80H332.0M329.4,576.40H332.0M329.4,554.00H332.0M329.4,531.60H332.0M329.4,509.20H332.0M362.2,598.8v2.8M392.2,598.8v2.8M422.2,598.8v2.8M452.2,598.8v2.8M482.2,598.8v2.8M512.3,598.8v2.8" stroke="#000" stroke-width="1.3"/>
<text x="327.80" y="601.90" font-size="8.8" font-weight="normal" text-anchor="end" fill="#000" stroke="#000" stroke-width="0.35">0</text>
<text x="327.80" y="579.50" font-size="8.8" font-weight="normal" text-anchor="end" fill="#000" stroke="#000" stroke-width="0.35">5</text>
<text x="327.80" y="557.10" font-size="8.8" font-weight="normal" text-anchor="end" fill="#000" stroke="#000" stroke-width="0.35">10</text>
<text x="327.80" y="534.70" font-size="8.8" font-weight="normal" text-anchor="end" fill="#000" stroke="#000" stroke-width="0.35">15</text>
<text x="327.80" y="512.30" font-size="8.8" font-weight="normal" text-anchor="end" fill="#000" stroke="#000" stroke-width="0.35">20</text>
<text stroke="#000" stroke-width="0.3" x="301.1" y="554.2" font-size="9" text-anchor="middle" transform="rotate(-90 301.1 554.2)" dy="3.2" textLength="92.6" lengthAdjust="spacingAndGlyphs">Normalized expression</text>
<text stroke="#000" stroke-width="0.3" x="310.6" y="553.8" font-size="9" text-anchor="middle" transform="rotate(-90 310.6 553.8)" dy="3.2">to <tspan font-style="italic">Actb</tspan> (%)</text>
<path d="M339.60,586.93V583.57M336.60,583.57H342.60M354.50,533.39V520.62M351.50,520.62H357.50" stroke="#000" stroke-width="1.3"/>
<rect x="335.30" y="586.93" width="8.6" height="11.87" fill="#fff" stroke="#000" stroke-width="1.3"/>
<rect x="350.20" y="533.39" width="8.6" height="65.41" fill="#e1001e" stroke="#000" stroke-width="1.3"/>
<path d="M339.60,582.07V512.8H354.50V516.8" fill="none" stroke="#000" stroke-width="1.2"/>
<text x="347.20" y="514.00" font-size="12" font-weight="bold" text-anchor="middle" fill="#000" stroke="#000" stroke-width="0.22" letter-spacing="0.8">**</text>
<text x="349.55" y="605.80" font-size="9.0" font-weight="bold" text-anchor="end" fill="#000" stroke="#000" stroke-width="0.22" transform="rotate(-45 349.55 605.80)">BM</text>
<path d="M369.60,590.74V589.62M366.60,589.62H372.60M384.50,543.47V535.63M381.50,535.63H387.50" stroke="#000" stroke-width="1.3"/>
<rect x="365.30" y="590.74" width="8.6" height="8.06" fill="#fff" stroke="#000" stroke-width="1.3"/>
<rect x="380.20" y="543.47" width="8.6" height="55.33" fill="#e1001e" stroke="#000" stroke-width="1.3"/>
<path d="M369.60,588.12V528.3H384.50V532.3" fill="none" stroke="#000" stroke-width="1.2"/>
<text x="377.60" y="530.10" font-size="12" font-weight="bold" text-anchor="middle" fill="#000" stroke="#000" stroke-width="0.22" letter-spacing="0.8">**</text>
<text x="379.55" y="605.80" font-size="9.0" font-weight="bold" text-anchor="end" fill="#000" stroke="#000" stroke-width="0.22" transform="rotate(-45 379.55 605.80)">Heart</text>
<path d="M399.60,588.05V585.58M396.60,585.58H402.60M414.50,573.04V569.01M411.50,569.01H417.50" stroke="#000" stroke-width="1.3"/>
<rect x="395.30" y="588.05" width="8.6" height="10.75" fill="#fff" stroke="#000" stroke-width="1.3"/>
<rect x="410.20" y="573.04" width="8.6" height="25.76" fill="#e1001e" stroke="#000" stroke-width="1.3"/>
<path d="M399.60,584.08V562.6H414.50V565.6" fill="none" stroke="#000" stroke-width="1.2"/>
<text x="407.20" y="564.50" font-size="12" font-weight="bold" text-anchor="middle" fill="#000" stroke="#000" stroke-width="0.22" letter-spacing="0.8">*</text>
<text x="409.55" y="605.80" font-size="9.0" font-weight="bold" text-anchor="end" fill="#000" stroke="#000" stroke-width="0.22" transform="rotate(-45 409.55 605.80)">Liver</text>
<path d="M429.60,594.99V594.32M426.60,594.32H432.60M444.50,575.50V574.38M441.50,574.38H447.50" stroke="#000" stroke-width="1.3"/>
<rect x="425.30" y="594.99" width="8.6" height="3.81" fill="#fff" stroke="#000" stroke-width="1.3"/>
<rect x="440.20" y="575.50" width="8.6" height="23.30" fill="#e1001e" stroke="#000" stroke-width="1.3"/>
<path d="M429.60,592.82V567.6H444.50V571.2" fill="none" stroke="#000" stroke-width="1.2"/>
<text x="437.50" y="568.80" font-size="12" font-weight="bold" text-anchor="middle" fill="#000" stroke="#000" stroke-width="0.22" letter-spacing="0.8">***</text>
<text x="439.55" y="605.80" font-size="9.0" font-weight="bold" text-anchor="end" fill="#000" stroke="#000" stroke-width="0.22" transform="rotate(-45 439.55 605.80)">Kidney</text>
<path d="M459.60,594.99V594.32M456.60,594.32H462.60M474.50,578.86V575.73M471.50,575.73H477.50" stroke="#000" stroke-width="1.3"/>
<rect x="455.30" y="594.99" width="8.6" height="3.81" fill="#fff" stroke="#000" stroke-width="1.3"/>
<rect x="470.20" y="578.86" width="8.6" height="19.94" fill="#e1001e" stroke="#000" stroke-width="1.3"/>
<path d="M459.60,592.82V567.6H474.50V571.6" fill="none" stroke="#000" stroke-width="1.2"/>
<text x="467.20" y="569.50" font-size="12" font-weight="bold" text-anchor="middle" fill="#000" stroke="#000" stroke-width="0.22" letter-spacing="0.8">**</text>
<text x="469.55" y="605.80" font-size="9.0" font-weight="bold" text-anchor="end" fill="#000" stroke="#000" stroke-width="0.22" transform="rotate(-45 469.55 605.80)">Spleen</text>
<path d="M489.60,596.11V595.57M486.60,595.57H492.60M504.50,591.86V591.18M501.50,591.18H507.50" stroke="#000" stroke-width="1.3"/>
<rect x="485.30" y="596.11" width="8.6" height="2.69" fill="#fff" stroke="#000" stroke-width="1.3"/>
<rect x="500.20" y="591.86" width="8.6" height="6.94" fill="#e1001e" stroke="#000" stroke-width="1.3"/>
<path d="M489.60,594.07V583.3H504.50V587.4" fill="none" stroke="#000" stroke-width="1.2"/>
<text x="497.10" y="585.00" font-size="12" font-weight="bold" text-anchor="middle" fill="#000" stroke="#000" stroke-width="0.22" letter-spacing="0.8">**</text>
<text x="499.55" y="605.80" font-size="9.0" font-weight="bold" text-anchor="end" fill="#000" stroke="#000" stroke-width="0.22" transform="rotate(-45 499.55 605.80)">Lung</text>
</svg>
</body></html>
